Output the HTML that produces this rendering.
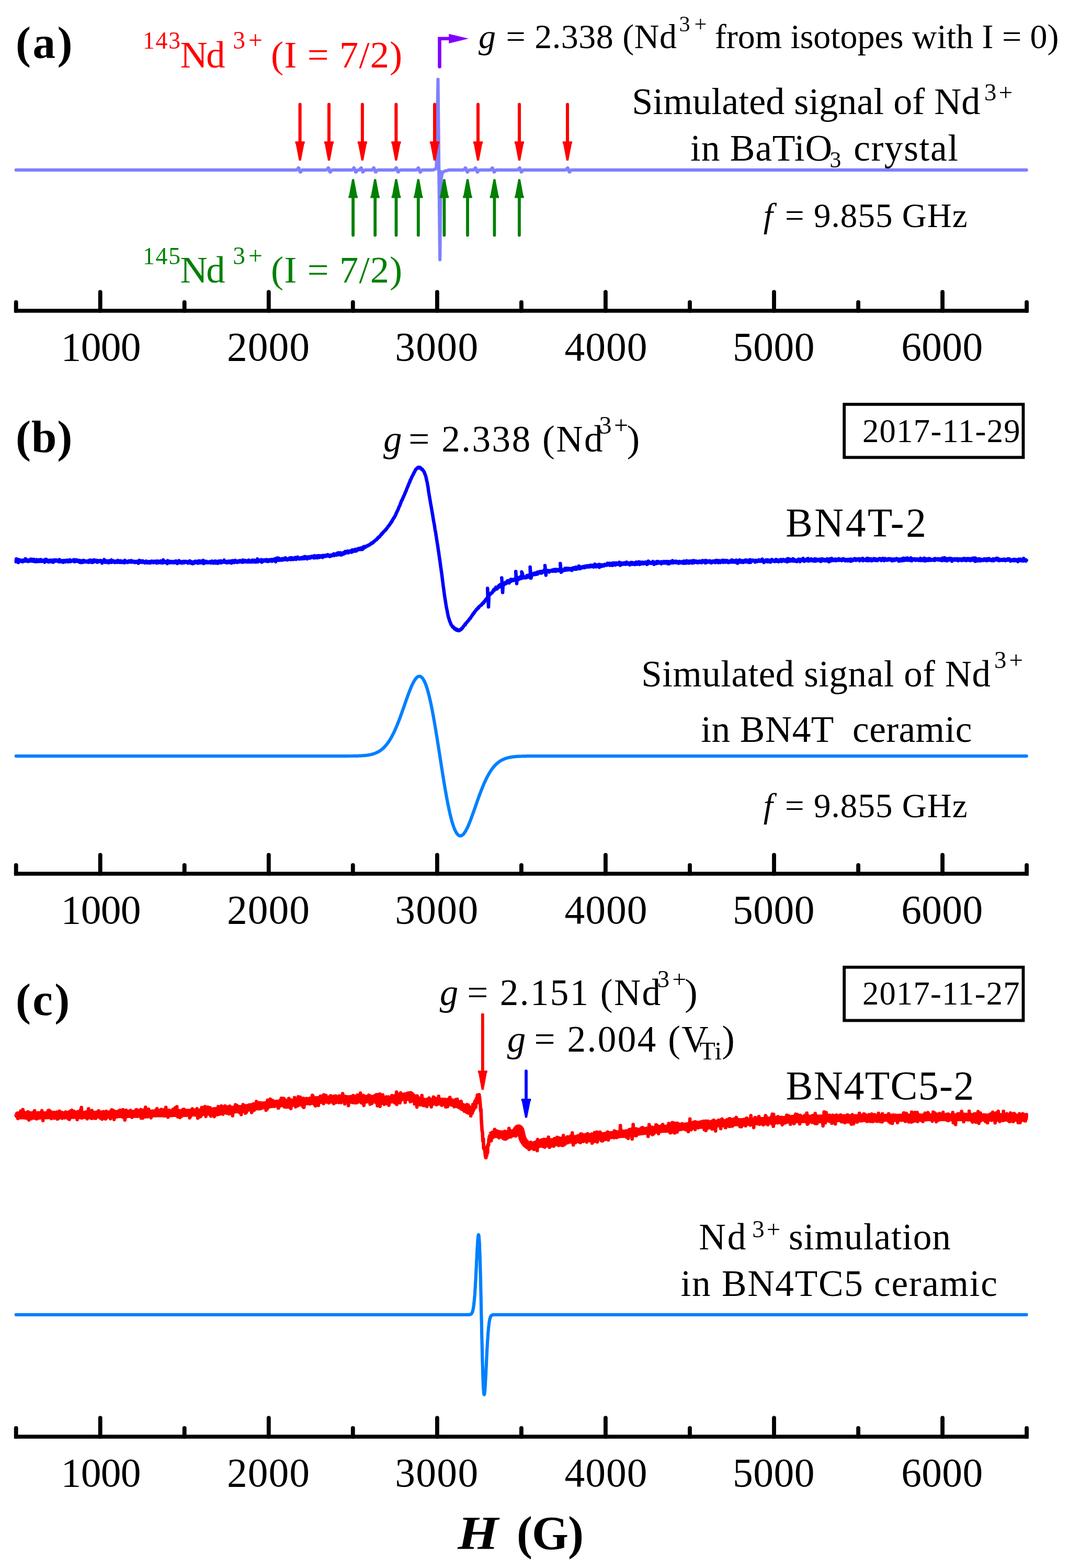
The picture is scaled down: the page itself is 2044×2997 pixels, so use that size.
<!DOCTYPE html>
<html><head><meta charset="utf-8"><title>EPR spectra of Nd3+</title>
<style>
html,body{margin:0;padding:0;background:#fff;}
body{width:2044px;height:2997px;overflow:hidden;}
svg{display:block;}
text{font-family:"Liberation Serif", "Times New Roman", serif;}
</style></head>
<body>
<svg width="2044" height="2997" viewBox="0 0 2044 2997">
<rect width="2044" height="2997" fill="#fff"/>
<line x1="30.7" y1="594" x2="1963.1" y2="594" stroke="#000" stroke-width="7.6" stroke-linecap="square"/>
<line x1="30.7" y1="594" x2="30.7" y2="577.7" stroke="#000" stroke-width="7.8" stroke-linecap="round"/>
<line x1="191.7" y1="594" x2="191.7" y2="558.2" stroke="#000" stroke-width="7.8" stroke-linecap="round"/>
<line x1="352.7" y1="594" x2="352.7" y2="577.7" stroke="#000" stroke-width="7.8" stroke-linecap="round"/>
<line x1="513.8" y1="594" x2="513.8" y2="558.2" stroke="#000" stroke-width="7.8" stroke-linecap="round"/>
<line x1="674.8" y1="594" x2="674.8" y2="577.7" stroke="#000" stroke-width="7.8" stroke-linecap="round"/>
<line x1="835.9" y1="594" x2="835.9" y2="558.2" stroke="#000" stroke-width="7.8" stroke-linecap="round"/>
<line x1="996.9" y1="594" x2="996.9" y2="577.7" stroke="#000" stroke-width="7.8" stroke-linecap="round"/>
<line x1="1157.9" y1="594" x2="1157.9" y2="558.2" stroke="#000" stroke-width="7.8" stroke-linecap="round"/>
<line x1="1319" y1="594" x2="1319" y2="577.7" stroke="#000" stroke-width="7.8" stroke-linecap="round"/>
<line x1="1480" y1="594" x2="1480" y2="558.2" stroke="#000" stroke-width="7.8" stroke-linecap="round"/>
<line x1="1641.1" y1="594" x2="1641.1" y2="577.7" stroke="#000" stroke-width="7.8" stroke-linecap="round"/>
<line x1="1802.1" y1="594" x2="1802.1" y2="558.2" stroke="#000" stroke-width="7.8" stroke-linecap="round"/>
<line x1="1963.1" y1="594" x2="1963.1" y2="577.7" stroke="#000" stroke-width="7.8" stroke-linecap="round"/>
<line x1="30.7" y1="1670" x2="1963.1" y2="1670" stroke="#000" stroke-width="7.6" stroke-linecap="square"/>
<line x1="30.7" y1="1670" x2="30.7" y2="1653.7" stroke="#000" stroke-width="7.8" stroke-linecap="round"/>
<line x1="191.7" y1="1670" x2="191.7" y2="1634.2" stroke="#000" stroke-width="7.8" stroke-linecap="round"/>
<line x1="352.7" y1="1670" x2="352.7" y2="1653.7" stroke="#000" stroke-width="7.8" stroke-linecap="round"/>
<line x1="513.8" y1="1670" x2="513.8" y2="1634.2" stroke="#000" stroke-width="7.8" stroke-linecap="round"/>
<line x1="674.8" y1="1670" x2="674.8" y2="1653.7" stroke="#000" stroke-width="7.8" stroke-linecap="round"/>
<line x1="835.9" y1="1670" x2="835.9" y2="1634.2" stroke="#000" stroke-width="7.8" stroke-linecap="round"/>
<line x1="996.9" y1="1670" x2="996.9" y2="1653.7" stroke="#000" stroke-width="7.8" stroke-linecap="round"/>
<line x1="1157.9" y1="1670" x2="1157.9" y2="1634.2" stroke="#000" stroke-width="7.8" stroke-linecap="round"/>
<line x1="1319" y1="1670" x2="1319" y2="1653.7" stroke="#000" stroke-width="7.8" stroke-linecap="round"/>
<line x1="1480" y1="1670" x2="1480" y2="1634.2" stroke="#000" stroke-width="7.8" stroke-linecap="round"/>
<line x1="1641.1" y1="1670" x2="1641.1" y2="1653.7" stroke="#000" stroke-width="7.8" stroke-linecap="round"/>
<line x1="1802.1" y1="1670" x2="1802.1" y2="1634.2" stroke="#000" stroke-width="7.8" stroke-linecap="round"/>
<line x1="1963.1" y1="1670" x2="1963.1" y2="1653.7" stroke="#000" stroke-width="7.8" stroke-linecap="round"/>
<line x1="30.7" y1="2746" x2="1963.1" y2="2746" stroke="#000" stroke-width="7.6" stroke-linecap="square"/>
<line x1="30.7" y1="2746" x2="30.7" y2="2729.7" stroke="#000" stroke-width="7.8" stroke-linecap="round"/>
<line x1="191.7" y1="2746" x2="191.7" y2="2710.2" stroke="#000" stroke-width="7.8" stroke-linecap="round"/>
<line x1="352.7" y1="2746" x2="352.7" y2="2729.7" stroke="#000" stroke-width="7.8" stroke-linecap="round"/>
<line x1="513.8" y1="2746" x2="513.8" y2="2710.2" stroke="#000" stroke-width="7.8" stroke-linecap="round"/>
<line x1="674.8" y1="2746" x2="674.8" y2="2729.7" stroke="#000" stroke-width="7.8" stroke-linecap="round"/>
<line x1="835.9" y1="2746" x2="835.9" y2="2710.2" stroke="#000" stroke-width="7.8" stroke-linecap="round"/>
<line x1="996.9" y1="2746" x2="996.9" y2="2729.7" stroke="#000" stroke-width="7.8" stroke-linecap="round"/>
<line x1="1157.9" y1="2746" x2="1157.9" y2="2710.2" stroke="#000" stroke-width="7.8" stroke-linecap="round"/>
<line x1="1319" y1="2746" x2="1319" y2="2729.7" stroke="#000" stroke-width="7.8" stroke-linecap="round"/>
<line x1="1480" y1="2746" x2="1480" y2="2710.2" stroke="#000" stroke-width="7.8" stroke-linecap="round"/>
<line x1="1641.1" y1="2746" x2="1641.1" y2="2729.7" stroke="#000" stroke-width="7.8" stroke-linecap="round"/>
<line x1="1802.1" y1="2746" x2="1802.1" y2="2710.2" stroke="#000" stroke-width="7.8" stroke-linecap="round"/>
<line x1="1963.1" y1="2746" x2="1963.1" y2="2729.7" stroke="#000" stroke-width="7.8" stroke-linecap="round"/>
<path d="M30.7,324.9 L31.7,324.9 L32.7,324.9 L33.7,324.9 L34.7,324.9 L35.7,324.9 L36.7,324.9 L37.7,324.9 L38.7,324.9 L39.7,324.9 L40.7,324.9 L41.7,324.9 L42.7,324.9 L43.7,324.9 L44.7,324.9 L45.7,324.9 L46.7,324.9 L47.7,324.9 L48.7,324.9 L49.7,324.9 L50.7,324.9 L51.7,324.9 L52.7,324.9 L53.7,324.9 L54.7,324.9 L55.7,324.9 L56.7,324.9 L57.7,324.9 L58.7,324.9 L59.7,324.9 L60.7,324.9 L61.7,324.9 L62.7,324.9 L63.7,324.9 L64.7,324.9 L65.7,324.9 L66.7,324.9 L67.7,324.9 L68.7,324.9 L69.7,324.9 L70.7,324.9 L71.7,324.9 L72.7,324.9 L73.7,324.9 L74.7,324.9 L75.7,324.9 L76.7,324.9 L77.7,324.9 L78.7,324.9 L79.7,324.9 L80.7,324.9 L81.7,324.9 L82.7,324.9 L83.7,324.9 L84.7,324.9 L85.7,324.9 L86.7,324.9 L87.7,324.9 L88.7,324.9 L89.7,324.9 L90.7,324.9 L91.7,324.9 L92.7,324.9 L93.7,324.9 L94.7,324.9 L95.7,324.9 L96.7,324.9 L97.7,324.9 L98.7,324.9 L99.7,324.9 L100.7,324.9 L101.7,324.9 L102.7,324.9 L103.7,324.9 L104.7,324.9 L105.7,324.9 L106.7,324.9 L107.7,324.9 L108.7,324.9 L109.7,324.9 L110.7,324.9 L111.7,324.9 L112.7,324.9 L113.7,324.9 L114.7,324.9 L115.7,324.9 L116.7,324.9 L117.7,324.9 L118.7,324.9 L119.7,324.9 L120.7,324.9 L121.7,324.9 L122.7,324.9 L123.7,324.9 L124.7,324.9 L125.7,324.9 L126.7,324.9 L127.7,324.9 L128.7,324.9 L129.7,324.9 L130.7,324.9 L131.7,324.9 L132.7,324.9 L133.7,324.9 L134.7,324.9 L135.7,324.9 L136.7,324.9 L137.7,324.9 L138.7,324.9 L139.7,324.9 L140.7,324.9 L141.7,324.9 L142.7,324.9 L143.7,324.9 L144.7,324.9 L145.7,324.9 L146.7,324.9 L147.7,324.9 L148.7,324.9 L149.7,324.9 L150.7,324.9 L151.7,324.9 L152.7,324.9 L153.7,324.9 L154.7,324.9 L155.7,324.9 L156.7,324.9 L157.7,324.9 L158.7,324.9 L159.7,324.9 L160.7,324.9 L161.7,324.9 L162.7,324.9 L163.7,324.9 L164.7,324.9 L165.7,324.9 L166.7,324.9 L167.7,324.9 L168.7,324.9 L169.7,324.9 L170.7,324.9 L171.7,324.9 L172.7,324.9 L173.7,324.9 L174.7,324.9 L175.7,324.9 L176.7,324.9 L177.7,324.9 L178.7,324.9 L179.7,324.9 L180.7,324.9 L181.7,324.9 L182.7,324.9 L183.7,324.9 L184.7,324.9 L185.7,324.9 L186.7,324.9 L187.7,324.9 L188.7,324.9 L189.7,324.9 L190.7,324.9 L191.7,324.9 L192.7,324.9 L193.7,324.9 L194.7,324.9 L195.7,324.9 L196.7,324.9 L197.7,324.9 L198.7,324.9 L199.7,324.9 L200.7,324.9 L201.7,324.9 L202.7,324.9 L203.7,324.9 L204.7,324.9 L205.7,324.9 L206.7,324.9 L207.7,324.9 L208.7,324.9 L209.7,324.9 L210.7,324.9 L211.7,324.9 L212.7,324.9 L213.7,324.9 L214.7,324.9 L215.7,324.9 L216.7,324.9 L217.7,324.9 L218.7,324.9 L219.7,324.9 L220.7,324.9 L221.7,324.9 L222.7,324.9 L223.7,324.9 L224.7,324.9 L225.7,324.9 L226.7,324.9 L227.7,324.9 L228.7,324.9 L229.7,324.9 L230.7,324.9 L231.7,324.9 L232.7,324.9 L233.7,324.9 L234.7,324.9 L235.7,324.9 L236.7,324.9 L237.7,324.9 L238.7,324.9 L239.7,324.9 L240.7,324.9 L241.7,324.9 L242.7,324.9 L243.7,324.9 L244.7,324.9 L245.7,324.9 L246.7,324.9 L247.7,324.9 L248.7,324.9 L249.7,324.9 L250.7,324.9 L251.7,324.9 L252.7,324.9 L253.7,324.9 L254.7,324.9 L255.7,324.9 L256.7,324.9 L257.7,324.9 L258.7,324.9 L259.7,324.9 L260.7,324.9 L261.7,324.9 L262.7,324.9 L263.7,324.9 L264.7,324.9 L265.7,324.9 L266.7,324.9 L267.7,324.9 L268.7,324.9 L269.7,324.9 L270.7,324.9 L271.7,324.9 L272.7,324.9 L273.7,324.9 L274.7,324.9 L275.7,324.9 L276.7,324.9 L277.7,324.9 L278.7,324.9 L279.7,324.9 L280.7,324.9 L281.7,324.9 L282.7,324.9 L283.7,324.9 L284.7,324.9 L285.7,324.9 L286.7,324.9 L287.7,324.9 L288.7,324.9 L289.7,324.9 L290.7,324.9 L291.7,324.9 L292.7,324.9 L293.7,324.9 L294.7,324.9 L295.7,324.9 L296.7,324.9 L297.7,324.9 L298.7,324.9 L299.7,324.9 L300.7,324.9 L301.7,324.9 L302.7,324.9 L303.7,324.9 L304.7,324.9 L305.7,324.9 L306.7,324.9 L307.7,324.9 L308.7,324.9 L309.7,324.9 L310.7,324.9 L311.7,324.9 L312.7,324.9 L313.7,324.9 L314.7,324.9 L315.7,324.9 L316.7,324.9 L317.7,324.9 L318.7,324.9 L319.7,324.9 L320.7,324.9 L321.7,324.9 L322.7,324.9 L323.7,324.9 L324.7,324.9 L325.7,324.9 L326.7,324.9 L327.7,324.9 L328.7,324.9 L329.7,324.9 L330.7,324.9 L331.7,324.9 L332.7,324.9 L333.7,324.9 L334.7,324.9 L335.7,324.9 L336.7,324.9 L337.7,324.9 L338.7,324.9 L339.7,324.9 L340.7,324.9 L341.7,324.9 L342.7,324.9 L343.7,324.9 L344.7,324.9 L345.7,324.9 L346.7,324.9 L347.7,324.9 L348.7,324.9 L349.7,324.9 L350.7,324.9 L351.7,324.9 L352.7,324.9 L353.7,324.9 L354.7,324.9 L355.7,324.9 L356.7,324.9 L357.7,324.9 L358.7,324.9 L359.7,324.9 L360.7,324.9 L361.7,324.9 L362.7,324.9 L363.7,324.9 L364.7,324.9 L365.7,324.9 L366.7,324.9 L367.7,324.9 L368.7,324.9 L369.7,324.9 L370.7,324.9 L371.7,324.9 L372.7,324.9 L373.7,324.9 L374.7,324.9 L375.7,324.9 L376.7,324.9 L377.7,324.9 L378.7,324.9 L379.7,324.9 L380.7,324.9 L381.7,324.9 L382.7,324.9 L383.7,324.9 L384.7,324.9 L385.7,324.9 L386.7,324.9 L387.7,324.9 L388.7,324.9 L389.7,324.9 L390.7,324.9 L391.7,324.9 L392.7,324.9 L393.7,324.9 L394.7,324.9 L395.7,324.9 L396.7,324.9 L397.7,324.9 L398.7,324.9 L399.7,324.9 L400.7,324.9 L401.7,324.9 L402.7,324.9 L403.7,324.9 L404.7,324.9 L405.7,324.9 L406.7,324.9 L407.7,324.9 L408.7,324.9 L409.7,324.9 L410.7,324.9 L411.7,324.9 L412.7,324.9 L413.7,324.9 L414.7,324.9 L415.7,324.9 L416.7,324.9 L417.7,324.9 L418.7,324.9 L419.7,324.9 L420.7,324.9 L421.7,324.9 L422.7,324.9 L423.7,324.9 L424.7,324.9 L425.7,324.9 L426.7,324.9 L427.7,324.9 L428.7,324.9 L429.7,324.9 L430.7,324.9 L431.7,324.9 L432.7,324.9 L433.7,324.9 L434.7,324.9 L435.7,324.9 L436.7,324.9 L437.7,324.9 L438.7,324.9 L439.7,324.9 L440.7,324.9 L441.7,324.9 L442.7,324.9 L443.7,324.9 L444.7,324.9 L445.7,324.9 L446.7,324.9 L447.7,324.9 L448.7,324.9 L449.7,324.9 L450.7,324.9 L451.7,324.9 L452.7,324.9 L453.7,324.9 L454.7,324.9 L455.7,324.9 L456.7,324.9 L457.7,324.9 L458.7,324.9 L459.7,324.9 L460.7,324.9 L461.7,324.9 L462.7,324.9 L463.7,324.9 L464.7,324.9 L465.7,324.9 L466.7,324.9 L467.7,324.9 L468.7,324.9 L469.7,324.9 L470.7,324.9 L471.7,324.9 L472.7,324.9 L473.7,324.9 L474.7,324.9 L475.7,324.9 L476.7,324.9 L477.7,324.9 L478.7,324.9 L479.7,324.9 L480.7,324.9 L481.7,324.9 L482.7,324.9 L483.7,324.9 L484.7,324.9 L485.7,324.9 L486.7,324.9 L487.7,324.9 L488.7,324.9 L489.7,324.9 L490.7,324.9 L491.7,324.9 L492.7,324.9 L493.7,324.9 L494.7,324.9 L495.7,324.9 L496.7,324.9 L497.7,324.9 L498.7,324.9 L499.7,324.9 L500.7,324.9 L501.7,324.9 L502.7,324.9 L503.7,324.9 L504.7,324.9 L505.7,324.9 L506.7,324.9 L507.7,324.9 L508.7,324.9 L509.7,324.9 L510.7,324.9 L511.7,324.9 L512.7,324.9 L513.7,324.9 L514.7,324.9 L515.7,324.9 L516.7,324.9 L517.7,324.9 L518.7,324.9 L519.7,324.9 L520.7,324.9 L521.7,324.9 L522.7,324.9 L523.7,324.9 L524.7,324.9 L525.7,324.9 L526.7,324.9 L527.7,324.9 L528.7,324.9 L529.7,324.9 L530.7,324.9 L531.7,324.9 L532.7,324.9 L533.7,324.9 L534.7,324.9 L535.7,324.9 L536.7,324.9 L537.7,324.9 L538.7,324.9 L539.7,324.9 L540.7,324.9 L541.7,324.9 L542.7,324.9 L543.7,324.9 L544.7,324.9 L545.7,324.9 L546.7,324.9 L547.7,324.9 L548.7,324.9 L549.7,324.9 L550.7,324.9 L551.7,324.9 L552.7,324.9 L553.7,324.9 L554.7,324.9 L555.7,324.9 L556.7,324.9 L557.7,324.9 L558.7,324.9 L559.7,324.9 L560.7,324.9 L561.7,324.9 L562.7,324.9 L563.7,324.9 L564.7,324.9 L565.7,324.9 L566.7,324.8 L567.7,324.5 L568.7,323.6 L569.7,322.1 L570.7,320.9 L571.7,321.9 L572.7,325.1 L573.7,328.2 L574.7,328.8 L575.7,327.5 L576.7,326.1 L577.7,325.3 L578.7,325 L579.7,324.9 L580.7,324.9 L581.7,324.9 L582.7,324.9 L583.7,324.9 L584.7,324.9 L585.7,324.9 L586.7,324.9 L587.7,324.9 L588.7,324.9 L589.7,324.9 L590.7,324.9 L591.7,324.9 L592.7,324.9 L593.7,324.9 L594.7,324.9 L595.7,324.9 L596.7,324.9 L597.7,324.9 L598.7,324.9 L599.7,324.9 L600.7,324.9 L601.7,324.9 L602.7,324.9 L603.7,324.9 L604.7,324.9 L605.7,324.9 L606.7,324.9 L607.7,324.9 L608.7,324.9 L609.7,324.9 L610.7,324.9 L611.7,324.9 L612.7,324.9 L613.7,324.9 L614.7,324.9 L615.7,324.9 L616.7,324.9 L617.7,324.9 L618.7,324.9 L619.7,324.9 L620.7,324.9 L621.7,324.9 L622.7,324.9 L623.7,324.8 L624.7,324.4 L625.7,323.5 L626.7,321.9 L627.7,320.9 L628.7,322.1 L629.7,325.5 L630.7,328.4 L631.7,328.8 L632.7,327.4 L633.7,326 L634.7,325.2 L635.7,325 L636.7,324.9 L637.7,324.9 L638.7,324.9 L639.7,324.9 L640.7,324.9 L641.7,324.9 L642.7,324.9 L643.7,324.9 L644.7,324.9 L645.7,324.9 L646.7,324.9 L647.7,324.9 L648.7,324.9 L649.7,324.9 L650.7,324.9 L651.7,324.9 L652.7,324.9 L653.7,324.9 L654.7,324.9 L655.7,324.9 L656.7,324.9 L657.7,324.9 L658.7,324.9 L659.7,324.9 L660.7,324.9 L661.7,324.9 L662.7,324.9 L663.7,324.9 L664.7,324.9 L665.7,324.9 L666.7,324.9 L667.7,324.9 L668.7,324.9 L669.7,324.9 L670.7,324.9 L671.7,324.9 L672.7,324.8 L673.7,324.5 L674.7,323.6 L675.7,322.1 L676.7,320.9 L677.7,321.9 L678.7,325.1 L679.7,328.2 L680.7,328.8 L681.7,327.5 L682.7,326.1 L683.7,325.3 L684.7,325 L685.7,324.9 L686.7,324.7 L687.7,324.2 L688.7,323 L689.7,321.5 L690.7,321 L691.7,323 L692.7,326.5 L693.7,328.7 L694.7,328.4 L695.7,326.9 L696.7,325.7 L697.7,325.1 L698.7,324.9 L699.7,324.9 L700.7,324.9 L701.7,324.9 L702.7,324.9 L703.7,324.9 L704.7,324.9 L705.7,324.9 L706.7,324.9 L707.7,324.9 L708.7,324.9 L709.7,324.9 L710.7,324.8 L711.7,324.4 L712.7,323.3 L713.7,321.7 L714.7,320.9 L715.7,322.4 L716.7,325.8 L717.7,328.5 L718.7,328.7 L719.7,327.2 L720.7,325.8 L721.7,325.2 L722.7,325 L723.7,324.9 L724.7,324.9 L725.7,324.9 L726.7,324.9 L727.7,324.9 L728.7,324.9 L729.7,324.9 L730.7,324.9 L731.7,324.9 L732.7,324.9 L733.7,324.9 L734.7,324.9 L735.7,324.9 L736.7,324.9 L737.7,324.9 L738.7,324.9 L739.7,324.9 L740.7,324.9 L741.7,324.9 L742.7,324.9 L743.7,324.9 L744.7,324.9 L745.7,324.9 L746.7,324.9 L747.7,324.9 L748.7,324.9 L749.7,324.9 L750.7,324.9 L751.7,324.9 L752.7,324.9 L753.7,324.8 L754.7,324.4 L755.7,323.3 L756.7,321.7 L757.7,320.9 L758.7,322.4 L759.7,325.8 L760.7,328.5 L761.7,328.7 L762.7,327.2 L763.7,325.8 L764.7,325.2 L765.7,325 L766.7,324.9 L767.7,324.9 L768.7,324.9 L769.7,324.9 L770.7,324.9 L771.7,324.9 L772.7,324.9 L773.7,324.9 L774.7,324.9 L775.7,324.9 L776.7,324.9 L777.7,324.9 L778.7,324.9 L779.7,324.9 L780.7,324.9 L781.7,324.9 L782.7,324.9 L783.7,324.9 L784.7,324.9 L785.7,324.9 L786.7,324.9 L787.7,324.9 L788.7,324.9 L789.7,324.9 L790.7,324.9 L791.7,324.9 L792.7,324.9 L793.7,324.9 L794.7,324.9 L795.7,324.8 L796.7,324.6 L797.7,323.8 L798.7,322.4 L799.7,321 L800.7,321.5 L801.7,324.4 L802.7,327.7 L803.7,328.9 L804.7,327.9 L805.7,326.3 L806.7,325.4 L807.7,325 L808.7,324.9 L809.7,324.9 L810.7,324.9 L811.7,324.9 L812.7,324.9 L813.7,324.9 L814.7,324.9 L815.7,324.9 L816.7,324.9 L817.7,324.9 L818.7,324.9 L819.7,324.9 L820.7,324.9 L821.7,324.9 L822.7,324.9 L823.7,324.9 L824.7,324.9 L825.7,324.9 L826,324.9 L829,324.6 L834.3,322 L834.8,303 L837.5,151.5 L838.2,226 L839.3,330 L841.2,496.5 L842.4,372 L843.6,342 L845.5,331 L848,328.5 L851,326.5 L855,326.1 L858,324.9 L858.7,324.9 L859.7,324.9 L860.7,324.9 L861.7,324.9 L862.7,324.9 L863.7,324.9 L864.7,324.9 L865.7,324.9 L866.7,324.9 L867.7,324.9 L868.7,324.9 L869.7,324.9 L870.7,324.9 L871.7,324.9 L872.7,324.9 L873.7,324.9 L874.7,324.9 L875.7,324.9 L876.7,324.9 L877.7,324.9 L878.7,324.9 L879.7,324.9 L880.7,324.9 L881.7,324.9 L882.7,324.9 L883.7,324.9 L884.7,324.9 L885.7,324.8 L886.7,324.6 L887.7,323.8 L888.7,322.4 L889.7,321 L890.7,321.5 L891.7,324.4 L892.7,327.7 L893.7,328.9 L894.7,327.9 L895.7,326.3 L896.7,325.4 L897.7,325 L898.7,324.9 L899.7,324.9 L900.7,324.9 L901.7,324.9 L902.7,324.9 L903.7,324.9 L904.7,324.8 L905.7,324.6 L906.7,323.9 L907.7,322.6 L908.7,321.1 L909.7,321.3 L910.7,324 L911.7,327.4 L912.7,328.9 L913.7,328 L914.7,326.5 L915.7,325.4 L916.7,325 L917.7,324.9 L918.7,324.9 L919.7,324.9 L920.7,324.9 L921.7,324.9 L922.7,324.9 L923.7,324.9 L924.7,324.9 L925.7,324.9 L926.7,324.9 L927.7,324.9 L928.7,324.9 L929.7,324.9 L930.7,324.9 L931.7,324.9 L932.7,324.9 L933.7,324.9 L934.7,324.9 L935.7,324.9 L936.7,324.9 L937.7,324.7 L938.7,324.1 L939.7,322.9 L940.7,321.3 L941.7,321.1 L942.7,323.3 L943.7,326.9 L944.7,328.8 L945.7,328.3 L946.7,326.7 L947.7,325.6 L948.7,325.1 L949.7,324.9 L950.7,324.9 L951.7,324.9 L952.7,324.9 L953.7,324.9 L954.7,324.9 L955.7,324.9 L956.7,324.9 L957.7,324.9 L958.7,324.9 L959.7,324.9 L960.7,324.9 L961.7,324.9 L962.7,324.9 L963.7,324.9 L964.7,324.9 L965.7,324.9 L966.7,324.9 L967.7,324.9 L968.7,324.9 L969.7,324.9 L970.7,324.9 L971.7,324.9 L972.7,324.9 L973.7,324.9 L974.7,324.9 L975.7,324.9 L976.7,324.9 L977.7,324.9 L978.7,324.9 L979.7,324.9 L980.7,324.9 L981.7,324.9 L982.7,324.9 L983.7,324.9 L984.7,324.9 L985.7,324.9 L986.7,324.9 L987.7,324.9 L988.7,324.9 L989.7,324.7 L990.7,324.2 L991.7,323 L992.7,321.5 L993.7,321 L994.7,323 L995.7,326.5 L996.7,328.7 L997.7,328.4 L998.7,326.9 L999.7,325.7 L1000.7,325.1 L1001.7,324.9 L1002.7,324.9 L1003.7,324.9 L1004.7,324.9 L1005.7,324.9 L1006.7,324.9 L1007.7,324.9 L1008.7,324.9 L1009.7,324.9 L1010.7,324.9 L1011.7,324.9 L1012.7,324.9 L1013.7,324.9 L1014.7,324.9 L1015.7,324.9 L1016.7,324.9 L1017.7,324.9 L1018.7,324.9 L1019.7,324.9 L1020.7,324.9 L1021.7,324.9 L1022.7,324.9 L1023.7,324.9 L1024.7,324.9 L1025.7,324.9 L1026.7,324.9 L1027.7,324.9 L1028.7,324.9 L1029.7,324.9 L1030.7,324.9 L1031.7,324.9 L1032.7,324.9 L1033.7,324.9 L1034.7,324.9 L1035.7,324.9 L1036.7,324.9 L1037.7,324.9 L1038.7,324.9 L1039.7,324.9 L1040.7,324.9 L1041.7,324.9 L1042.7,324.9 L1043.7,324.9 L1044.7,324.9 L1045.7,324.9 L1046.7,324.9 L1047.7,324.9 L1048.7,324.9 L1049.7,324.9 L1050.7,324.9 L1051.7,324.9 L1052.7,324.9 L1053.7,324.9 L1054.7,324.9 L1055.7,324.9 L1056.7,324.9 L1057.7,324.9 L1058.7,324.9 L1059.7,324.9 L1060.7,324.9 L1061.7,324.9 L1062.7,324.9 L1063.7,324.9 L1064.7,324.9 L1065.7,324.9 L1066.7,324.9 L1067.7,324.9 L1068.7,324.9 L1069.7,324.9 L1070.7,324.9 L1071.7,324.9 L1072.7,324.9 L1073.7,324.9 L1074.7,324.9 L1075.7,324.9 L1076.7,324.9 L1077.7,324.9 L1078.7,324.9 L1079.7,324.9 L1080.7,324.9 L1081.7,324.7 L1082.7,324.1 L1083.7,322.9 L1084.7,321.3 L1085.7,321.1 L1086.7,323.3 L1087.7,326.9 L1088.7,328.8 L1089.7,328.3 L1090.7,326.7 L1091.7,325.6 L1092.7,325.1 L1093.7,324.9 L1094.7,324.9 L1095.7,324.9 L1096.7,324.9 L1097.7,324.9 L1098.7,324.9 L1099.7,324.9 L1100.7,324.9 L1101.7,324.9 L1102.7,324.9 L1103.7,324.9 L1104.7,324.9 L1105.7,324.9 L1106.7,324.9 L1107.7,324.9 L1108.7,324.9 L1109.7,324.9 L1110.7,324.9 L1111.7,324.9 L1112.7,324.9 L1113.7,324.9 L1114.7,324.9 L1115.7,324.9 L1116.7,324.9 L1117.7,324.9 L1118.7,324.9 L1119.7,324.9 L1120.7,324.9 L1121.7,324.9 L1122.7,324.9 L1123.7,324.9 L1124.7,324.9 L1125.7,324.9 L1126.7,324.9 L1127.7,324.9 L1128.7,324.9 L1129.7,324.9 L1130.7,324.9 L1131.7,324.9 L1132.7,324.9 L1133.7,324.9 L1134.7,324.9 L1135.7,324.9 L1136.7,324.9 L1137.7,324.9 L1138.7,324.9 L1139.7,324.9 L1140.7,324.9 L1141.7,324.9 L1142.7,324.9 L1143.7,324.9 L1144.7,324.9 L1145.7,324.9 L1146.7,324.9 L1147.7,324.9 L1148.7,324.9 L1149.7,324.9 L1150.7,324.9 L1151.7,324.9 L1152.7,324.9 L1153.7,324.9 L1154.7,324.9 L1155.7,324.9 L1156.7,324.9 L1157.7,324.9 L1158.7,324.9 L1159.7,324.9 L1160.7,324.9 L1161.7,324.9 L1162.7,324.9 L1163.7,324.9 L1164.7,324.9 L1165.7,324.9 L1166.7,324.9 L1167.7,324.9 L1168.7,324.9 L1169.7,324.9 L1170.7,324.9 L1171.7,324.9 L1172.7,324.9 L1173.7,324.9 L1174.7,324.9 L1175.7,324.9 L1176.7,324.9 L1177.7,324.9 L1178.7,324.9 L1179.7,324.9 L1180.7,324.9 L1181.7,324.9 L1182.7,324.9 L1183.7,324.9 L1184.7,324.9 L1185.7,324.9 L1186.7,324.9 L1187.7,324.9 L1188.7,324.9 L1189.7,324.9 L1190.7,324.9 L1191.7,324.9 L1192.7,324.9 L1193.7,324.9 L1194.7,324.9 L1195.7,324.9 L1196.7,324.9 L1197.7,324.9 L1198.7,324.9 L1199.7,324.9 L1200.7,324.9 L1201.7,324.9 L1202.7,324.9 L1203.7,324.9 L1204.7,324.9 L1205.7,324.9 L1206.7,324.9 L1207.7,324.9 L1208.7,324.9 L1209.7,324.9 L1210.7,324.9 L1211.7,324.9 L1212.7,324.9 L1213.7,324.9 L1214.7,324.9 L1215.7,324.9 L1216.7,324.9 L1217.7,324.9 L1218.7,324.9 L1219.7,324.9 L1220.7,324.9 L1221.7,324.9 L1222.7,324.9 L1223.7,324.9 L1224.7,324.9 L1225.7,324.9 L1226.7,324.9 L1227.7,324.9 L1228.7,324.9 L1229.7,324.9 L1230.7,324.9 L1231.7,324.9 L1232.7,324.9 L1233.7,324.9 L1234.7,324.9 L1235.7,324.9 L1236.7,324.9 L1237.7,324.9 L1238.7,324.9 L1239.7,324.9 L1240.7,324.9 L1241.7,324.9 L1242.7,324.9 L1243.7,324.9 L1244.7,324.9 L1245.7,324.9 L1246.7,324.9 L1247.7,324.9 L1248.7,324.9 L1249.7,324.9 L1250.7,324.9 L1251.7,324.9 L1252.7,324.9 L1253.7,324.9 L1254.7,324.9 L1255.7,324.9 L1256.7,324.9 L1257.7,324.9 L1258.7,324.9 L1259.7,324.9 L1260.7,324.9 L1261.7,324.9 L1262.7,324.9 L1263.7,324.9 L1264.7,324.9 L1265.7,324.9 L1266.7,324.9 L1267.7,324.9 L1268.7,324.9 L1269.7,324.9 L1270.7,324.9 L1271.7,324.9 L1272.7,324.9 L1273.7,324.9 L1274.7,324.9 L1275.7,324.9 L1276.7,324.9 L1277.7,324.9 L1278.7,324.9 L1279.7,324.9 L1280.7,324.9 L1281.7,324.9 L1282.7,324.9 L1283.7,324.9 L1284.7,324.9 L1285.7,324.9 L1286.7,324.9 L1287.7,324.9 L1288.7,324.9 L1289.7,324.9 L1290.7,324.9 L1291.7,324.9 L1292.7,324.9 L1293.7,324.9 L1294.7,324.9 L1295.7,324.9 L1296.7,324.9 L1297.7,324.9 L1298.7,324.9 L1299.7,324.9 L1300.7,324.9 L1301.7,324.9 L1302.7,324.9 L1303.7,324.9 L1304.7,324.9 L1305.7,324.9 L1306.7,324.9 L1307.7,324.9 L1308.7,324.9 L1309.7,324.9 L1310.7,324.9 L1311.7,324.9 L1312.7,324.9 L1313.7,324.9 L1314.7,324.9 L1315.7,324.9 L1316.7,324.9 L1317.7,324.9 L1318.7,324.9 L1319.7,324.9 L1320.7,324.9 L1321.7,324.9 L1322.7,324.9 L1323.7,324.9 L1324.7,324.9 L1325.7,324.9 L1326.7,324.9 L1327.7,324.9 L1328.7,324.9 L1329.7,324.9 L1330.7,324.9 L1331.7,324.9 L1332.7,324.9 L1333.7,324.9 L1334.7,324.9 L1335.7,324.9 L1336.7,324.9 L1337.7,324.9 L1338.7,324.9 L1339.7,324.9 L1340.7,324.9 L1341.7,324.9 L1342.7,324.9 L1343.7,324.9 L1344.7,324.9 L1345.7,324.9 L1346.7,324.9 L1347.7,324.9 L1348.7,324.9 L1349.7,324.9 L1350.7,324.9 L1351.7,324.9 L1352.7,324.9 L1353.7,324.9 L1354.7,324.9 L1355.7,324.9 L1356.7,324.9 L1357.7,324.9 L1358.7,324.9 L1359.7,324.9 L1360.7,324.9 L1361.7,324.9 L1362.7,324.9 L1363.7,324.9 L1364.7,324.9 L1365.7,324.9 L1366.7,324.9 L1367.7,324.9 L1368.7,324.9 L1369.7,324.9 L1370.7,324.9 L1371.7,324.9 L1372.7,324.9 L1373.7,324.9 L1374.7,324.9 L1375.7,324.9 L1376.7,324.9 L1377.7,324.9 L1378.7,324.9 L1379.7,324.9 L1380.7,324.9 L1381.7,324.9 L1382.7,324.9 L1383.7,324.9 L1384.7,324.9 L1385.7,324.9 L1386.7,324.9 L1387.7,324.9 L1388.7,324.9 L1389.7,324.9 L1390.7,324.9 L1391.7,324.9 L1392.7,324.9 L1393.7,324.9 L1394.7,324.9 L1395.7,324.9 L1396.7,324.9 L1397.7,324.9 L1398.7,324.9 L1399.7,324.9 L1400.7,324.9 L1401.7,324.9 L1402.7,324.9 L1403.7,324.9 L1404.7,324.9 L1405.7,324.9 L1406.7,324.9 L1407.7,324.9 L1408.7,324.9 L1409.7,324.9 L1410.7,324.9 L1411.7,324.9 L1412.7,324.9 L1413.7,324.9 L1414.7,324.9 L1415.7,324.9 L1416.7,324.9 L1417.7,324.9 L1418.7,324.9 L1419.7,324.9 L1420.7,324.9 L1421.7,324.9 L1422.7,324.9 L1423.7,324.9 L1424.7,324.9 L1425.7,324.9 L1426.7,324.9 L1427.7,324.9 L1428.7,324.9 L1429.7,324.9 L1430.7,324.9 L1431.7,324.9 L1432.7,324.9 L1433.7,324.9 L1434.7,324.9 L1435.7,324.9 L1436.7,324.9 L1437.7,324.9 L1438.7,324.9 L1439.7,324.9 L1440.7,324.9 L1441.7,324.9 L1442.7,324.9 L1443.7,324.9 L1444.7,324.9 L1445.7,324.9 L1446.7,324.9 L1447.7,324.9 L1448.7,324.9 L1449.7,324.9 L1450.7,324.9 L1451.7,324.9 L1452.7,324.9 L1453.7,324.9 L1454.7,324.9 L1455.7,324.9 L1456.7,324.9 L1457.7,324.9 L1458.7,324.9 L1459.7,324.9 L1460.7,324.9 L1461.7,324.9 L1462.7,324.9 L1463.7,324.9 L1464.7,324.9 L1465.7,324.9 L1466.7,324.9 L1467.7,324.9 L1468.7,324.9 L1469.7,324.9 L1470.7,324.9 L1471.7,324.9 L1472.7,324.9 L1473.7,324.9 L1474.7,324.9 L1475.7,324.9 L1476.7,324.9 L1477.7,324.9 L1478.7,324.9 L1479.7,324.9 L1480.7,324.9 L1481.7,324.9 L1482.7,324.9 L1483.7,324.9 L1484.7,324.9 L1485.7,324.9 L1486.7,324.9 L1487.7,324.9 L1488.7,324.9 L1489.7,324.9 L1490.7,324.9 L1491.7,324.9 L1492.7,324.9 L1493.7,324.9 L1494.7,324.9 L1495.7,324.9 L1496.7,324.9 L1497.7,324.9 L1498.7,324.9 L1499.7,324.9 L1500.7,324.9 L1501.7,324.9 L1502.7,324.9 L1503.7,324.9 L1504.7,324.9 L1505.7,324.9 L1506.7,324.9 L1507.7,324.9 L1508.7,324.9 L1509.7,324.9 L1510.7,324.9 L1511.7,324.9 L1512.7,324.9 L1513.7,324.9 L1514.7,324.9 L1515.7,324.9 L1516.7,324.9 L1517.7,324.9 L1518.7,324.9 L1519.7,324.9 L1520.7,324.9 L1521.7,324.9 L1522.7,324.9 L1523.7,324.9 L1524.7,324.9 L1525.7,324.9 L1526.7,324.9 L1527.7,324.9 L1528.7,324.9 L1529.7,324.9 L1530.7,324.9 L1531.7,324.9 L1532.7,324.9 L1533.7,324.9 L1534.7,324.9 L1535.7,324.9 L1536.7,324.9 L1537.7,324.9 L1538.7,324.9 L1539.7,324.9 L1540.7,324.9 L1541.7,324.9 L1542.7,324.9 L1543.7,324.9 L1544.7,324.9 L1545.7,324.9 L1546.7,324.9 L1547.7,324.9 L1548.7,324.9 L1549.7,324.9 L1550.7,324.9 L1551.7,324.9 L1552.7,324.9 L1553.7,324.9 L1554.7,324.9 L1555.7,324.9 L1556.7,324.9 L1557.7,324.9 L1558.7,324.9 L1559.7,324.9 L1560.7,324.9 L1561.7,324.9 L1562.7,324.9 L1563.7,324.9 L1564.7,324.9 L1565.7,324.9 L1566.7,324.9 L1567.7,324.9 L1568.7,324.9 L1569.7,324.9 L1570.7,324.9 L1571.7,324.9 L1572.7,324.9 L1573.7,324.9 L1574.7,324.9 L1575.7,324.9 L1576.7,324.9 L1577.7,324.9 L1578.7,324.9 L1579.7,324.9 L1580.7,324.9 L1581.7,324.9 L1582.7,324.9 L1583.7,324.9 L1584.7,324.9 L1585.7,324.9 L1586.7,324.9 L1587.7,324.9 L1588.7,324.9 L1589.7,324.9 L1590.7,324.9 L1591.7,324.9 L1592.7,324.9 L1593.7,324.9 L1594.7,324.9 L1595.7,324.9 L1596.7,324.9 L1597.7,324.9 L1598.7,324.9 L1599.7,324.9 L1600.7,324.9 L1601.7,324.9 L1602.7,324.9 L1603.7,324.9 L1604.7,324.9 L1605.7,324.9 L1606.7,324.9 L1607.7,324.9 L1608.7,324.9 L1609.7,324.9 L1610.7,324.9 L1611.7,324.9 L1612.7,324.9 L1613.7,324.9 L1614.7,324.9 L1615.7,324.9 L1616.7,324.9 L1617.7,324.9 L1618.7,324.9 L1619.7,324.9 L1620.7,324.9 L1621.7,324.9 L1622.7,324.9 L1623.7,324.9 L1624.7,324.9 L1625.7,324.9 L1626.7,324.9 L1627.7,324.9 L1628.7,324.9 L1629.7,324.9 L1630.7,324.9 L1631.7,324.9 L1632.7,324.9 L1633.7,324.9 L1634.7,324.9 L1635.7,324.9 L1636.7,324.9 L1637.7,324.9 L1638.7,324.9 L1639.7,324.9 L1640.7,324.9 L1641.7,324.9 L1642.7,324.9 L1643.7,324.9 L1644.7,324.9 L1645.7,324.9 L1646.7,324.9 L1647.7,324.9 L1648.7,324.9 L1649.7,324.9 L1650.7,324.9 L1651.7,324.9 L1652.7,324.9 L1653.7,324.9 L1654.7,324.9 L1655.7,324.9 L1656.7,324.9 L1657.7,324.9 L1658.7,324.9 L1659.7,324.9 L1660.7,324.9 L1661.7,324.9 L1662.7,324.9 L1663.7,324.9 L1664.7,324.9 L1665.7,324.9 L1666.7,324.9 L1667.7,324.9 L1668.7,324.9 L1669.7,324.9 L1670.7,324.9 L1671.7,324.9 L1672.7,324.9 L1673.7,324.9 L1674.7,324.9 L1675.7,324.9 L1676.7,324.9 L1677.7,324.9 L1678.7,324.9 L1679.7,324.9 L1680.7,324.9 L1681.7,324.9 L1682.7,324.9 L1683.7,324.9 L1684.7,324.9 L1685.7,324.9 L1686.7,324.9 L1687.7,324.9 L1688.7,324.9 L1689.7,324.9 L1690.7,324.9 L1691.7,324.9 L1692.7,324.9 L1693.7,324.9 L1694.7,324.9 L1695.7,324.9 L1696.7,324.9 L1697.7,324.9 L1698.7,324.9 L1699.7,324.9 L1700.7,324.9 L1701.7,324.9 L1702.7,324.9 L1703.7,324.9 L1704.7,324.9 L1705.7,324.9 L1706.7,324.9 L1707.7,324.9 L1708.7,324.9 L1709.7,324.9 L1710.7,324.9 L1711.7,324.9 L1712.7,324.9 L1713.7,324.9 L1714.7,324.9 L1715.7,324.9 L1716.7,324.9 L1717.7,324.9 L1718.7,324.9 L1719.7,324.9 L1720.7,324.9 L1721.7,324.9 L1722.7,324.9 L1723.7,324.9 L1724.7,324.9 L1725.7,324.9 L1726.7,324.9 L1727.7,324.9 L1728.7,324.9 L1729.7,324.9 L1730.7,324.9 L1731.7,324.9 L1732.7,324.9 L1733.7,324.9 L1734.7,324.9 L1735.7,324.9 L1736.7,324.9 L1737.7,324.9 L1738.7,324.9 L1739.7,324.9 L1740.7,324.9 L1741.7,324.9 L1742.7,324.9 L1743.7,324.9 L1744.7,324.9 L1745.7,324.9 L1746.7,324.9 L1747.7,324.9 L1748.7,324.9 L1749.7,324.9 L1750.7,324.9 L1751.7,324.9 L1752.7,324.9 L1753.7,324.9 L1754.7,324.9 L1755.7,324.9 L1756.7,324.9 L1757.7,324.9 L1758.7,324.9 L1759.7,324.9 L1760.7,324.9 L1761.7,324.9 L1762.7,324.9 L1763.7,324.9 L1764.7,324.9 L1765.7,324.9 L1766.7,324.9 L1767.7,324.9 L1768.7,324.9 L1769.7,324.9 L1770.7,324.9 L1771.7,324.9 L1772.7,324.9 L1773.7,324.9 L1774.7,324.9 L1775.7,324.9 L1776.7,324.9 L1777.7,324.9 L1778.7,324.9 L1779.7,324.9 L1780.7,324.9 L1781.7,324.9 L1782.7,324.9 L1783.7,324.9 L1784.7,324.9 L1785.7,324.9 L1786.7,324.9 L1787.7,324.9 L1788.7,324.9 L1789.7,324.9 L1790.7,324.9 L1791.7,324.9 L1792.7,324.9 L1793.7,324.9 L1794.7,324.9 L1795.7,324.9 L1796.7,324.9 L1797.7,324.9 L1798.7,324.9 L1799.7,324.9 L1800.7,324.9 L1801.7,324.9 L1802.7,324.9 L1803.7,324.9 L1804.7,324.9 L1805.7,324.9 L1806.7,324.9 L1807.7,324.9 L1808.7,324.9 L1809.7,324.9 L1810.7,324.9 L1811.7,324.9 L1812.7,324.9 L1813.7,324.9 L1814.7,324.9 L1815.7,324.9 L1816.7,324.9 L1817.7,324.9 L1818.7,324.9 L1819.7,324.9 L1820.7,324.9 L1821.7,324.9 L1822.7,324.9 L1823.7,324.9 L1824.7,324.9 L1825.7,324.9 L1826.7,324.9 L1827.7,324.9 L1828.7,324.9 L1829.7,324.9 L1830.7,324.9 L1831.7,324.9 L1832.7,324.9 L1833.7,324.9 L1834.7,324.9 L1835.7,324.9 L1836.7,324.9 L1837.7,324.9 L1838.7,324.9 L1839.7,324.9 L1840.7,324.9 L1841.7,324.9 L1842.7,324.9 L1843.7,324.9 L1844.7,324.9 L1845.7,324.9 L1846.7,324.9 L1847.7,324.9 L1848.7,324.9 L1849.7,324.9 L1850.7,324.9 L1851.7,324.9 L1852.7,324.9 L1853.7,324.9 L1854.7,324.9 L1855.7,324.9 L1856.7,324.9 L1857.7,324.9 L1858.7,324.9 L1859.7,324.9 L1860.7,324.9 L1861.7,324.9 L1862.7,324.9 L1863.7,324.9 L1864.7,324.9 L1865.7,324.9 L1866.7,324.9 L1867.7,324.9 L1868.7,324.9 L1869.7,324.9 L1870.7,324.9 L1871.7,324.9 L1872.7,324.9 L1873.7,324.9 L1874.7,324.9 L1875.7,324.9 L1876.7,324.9 L1877.7,324.9 L1878.7,324.9 L1879.7,324.9 L1880.7,324.9 L1881.7,324.9 L1882.7,324.9 L1883.7,324.9 L1884.7,324.9 L1885.7,324.9 L1886.7,324.9 L1887.7,324.9 L1888.7,324.9 L1889.7,324.9 L1890.7,324.9 L1891.7,324.9 L1892.7,324.9 L1893.7,324.9 L1894.7,324.9 L1895.7,324.9 L1896.7,324.9 L1897.7,324.9 L1898.7,324.9 L1899.7,324.9 L1900.7,324.9 L1901.7,324.9 L1902.7,324.9 L1903.7,324.9 L1904.7,324.9 L1905.7,324.9 L1906.7,324.9 L1907.7,324.9 L1908.7,324.9 L1909.7,324.9 L1910.7,324.9 L1911.7,324.9 L1912.7,324.9 L1913.7,324.9 L1914.7,324.9 L1915.7,324.9 L1916.7,324.9 L1917.7,324.9 L1918.7,324.9 L1919.7,324.9 L1920.7,324.9 L1921.7,324.9 L1922.7,324.9 L1923.7,324.9 L1924.7,324.9 L1925.7,324.9 L1926.7,324.9 L1927.7,324.9 L1928.7,324.9 L1929.7,324.9 L1930.7,324.9 L1931.7,324.9 L1932.7,324.9 L1933.7,324.9 L1934.7,324.9 L1935.7,324.9 L1936.7,324.9 L1937.7,324.9 L1938.7,324.9 L1939.7,324.9 L1940.7,324.9 L1941.7,324.9 L1942.7,324.9 L1943.7,324.9 L1944.7,324.9 L1945.7,324.9 L1946.7,324.9 L1947.7,324.9 L1948.7,324.9 L1949.7,324.9 L1950.7,324.9 L1951.7,324.9 L1952.7,324.9 L1953.7,324.9 L1954.7,324.9 L1955.7,324.9 L1956.7,324.9 L1957.7,324.9 L1958.7,324.9 L1959.7,324.9 L1960.7,324.9 L1961.7,324.9 L1962.7,324.9" fill="none" stroke="#8080FF" stroke-width="6.2" stroke-linejoin="round" stroke-linecap="round"/>
<path d="M835,322 L846,326 L845,342 L840,345 Z" fill="#8080FF"/>
<line x1="573.6" y1="199.4" x2="573.6" y2="272.2" stroke="#FF0000" stroke-width="6" stroke-linecap="round"/><path d="M564.5,270.2 L582.7,270.2 L582.7,274 L581.6,275 L575.5,306.9 L571.7,306.9 L565.6,275 L564.5,274 Z" fill="#FF0000"/>
<line x1="629" y1="199.4" x2="629" y2="272.2" stroke="#FF0000" stroke-width="6" stroke-linecap="round"/><path d="M619.9,270.2 L638.1,270.2 L638.1,274 L637,275 L630.9,306.9 L627.1,306.9 L621,275 L619.9,274 Z" fill="#FF0000"/>
<line x1="692.9" y1="199.4" x2="692.9" y2="272.2" stroke="#FF0000" stroke-width="6" stroke-linecap="round"/><path d="M683.8,270.2 L702,270.2 L702,274 L700.9,275 L694.8,306.9 L691,306.9 L684.9,275 L683.8,274 Z" fill="#FF0000"/>
<line x1="757.4" y1="199.4" x2="757.4" y2="272.2" stroke="#FF0000" stroke-width="6" stroke-linecap="round"/><path d="M748.3,270.2 L766.5,270.2 L766.5,274 L765.4,275 L759.3,306.9 L755.5,306.9 L749.4,275 L748.3,274 Z" fill="#FF0000"/>
<line x1="831" y1="199.4" x2="831" y2="272.2" stroke="#FF0000" stroke-width="6" stroke-linecap="round"/><path d="M821.9,270.2 L840.1,270.2 L840.1,274 L839,275 L832.9,306.9 L829.1,306.9 L823,275 L821.9,274 Z" fill="#FF0000"/>
<line x1="914" y1="199.4" x2="914" y2="272.2" stroke="#FF0000" stroke-width="6" stroke-linecap="round"/><path d="M904.9,270.2 L923.1,270.2 L923.1,274 L922,275 L915.9,306.9 L912.1,306.9 L906,275 L904.9,274 Z" fill="#FF0000"/>
<line x1="993" y1="199.4" x2="993" y2="272.2" stroke="#FF0000" stroke-width="6" stroke-linecap="round"/><path d="M983.9,270.2 L1002.1,270.2 L1002.1,274 L1001,275 L994.9,306.9 L991.1,306.9 L985,275 L983.9,274 Z" fill="#FF0000"/>
<line x1="1085" y1="199.4" x2="1085" y2="272.2" stroke="#FF0000" stroke-width="6" stroke-linecap="round"/><path d="M1075.9,270.2 L1094.1,270.2 L1094.1,274 L1093,275 L1086.9,306.9 L1083.1,306.9 L1077,275 L1075.9,274 Z" fill="#FF0000"/>
<line x1="675.1" y1="449.6" x2="675.1" y2="376.5" stroke="#008000" stroke-width="5.8" stroke-linecap="round"/><path d="M666.3,378.5 L683.9,378.5 L683.9,374.7 L682.8,373.7 L677,342.2 L673.2,342.2 L667.4,373.7 L666.3,374.7 Z" fill="#008000"/>
<line x1="717.2" y1="449.6" x2="717.2" y2="376.5" stroke="#008000" stroke-width="5.8" stroke-linecap="round"/><path d="M708.4,378.5 L726,378.5 L726,374.7 L724.9,373.7 L719.1,342.2 L715.3,342.2 L709.5,373.7 L708.4,374.7 Z" fill="#008000"/>
<line x1="757.5" y1="449.6" x2="757.5" y2="376.5" stroke="#008000" stroke-width="5.8" stroke-linecap="round"/><path d="M748.7,378.5 L766.3,378.5 L766.3,374.7 L765.2,373.7 L759.4,342.2 L755.6,342.2 L749.8,373.7 L748.7,374.7 Z" fill="#008000"/>
<line x1="799.8" y1="449.6" x2="799.8" y2="376.5" stroke="#008000" stroke-width="5.8" stroke-linecap="round"/><path d="M791,378.5 L808.6,378.5 L808.6,374.7 L807.5,373.7 L801.7,342.2 L797.9,342.2 L792.1,373.7 L791,374.7 Z" fill="#008000"/>
<line x1="849.4" y1="449.6" x2="849.4" y2="376.5" stroke="#008000" stroke-width="5.8" stroke-linecap="round"/><path d="M840.6,378.5 L858.2,378.5 L858.2,374.7 L857.1,373.7 L851.3,342.2 L847.5,342.2 L841.7,373.7 L840.6,374.7 Z" fill="#008000"/>
<line x1="894" y1="449.6" x2="894" y2="376.5" stroke="#008000" stroke-width="5.8" stroke-linecap="round"/><path d="M885.2,378.5 L902.8,378.5 L902.8,374.7 L901.7,373.7 L895.9,342.2 L892.1,342.2 L886.3,373.7 L885.2,374.7 Z" fill="#008000"/>
<line x1="945.4" y1="449.6" x2="945.4" y2="376.5" stroke="#008000" stroke-width="5.8" stroke-linecap="round"/><path d="M936.6,378.5 L954.2,378.5 L954.2,374.7 L953.1,373.7 L947.3,342.2 L943.5,342.2 L937.7,373.7 L936.6,374.7 Z" fill="#008000"/>
<line x1="992.9" y1="449.6" x2="992.9" y2="376.5" stroke="#008000" stroke-width="5.8" stroke-linecap="round"/><path d="M984.1,378.5 L1001.7,378.5 L1001.7,374.7 L1000.6,373.7 L994.8,342.2 L991,342.2 L985.2,373.7 L984.1,374.7 Z" fill="#008000"/>
<path d="M840.5,127.5 L840.5,73.8 L862,73.8" fill="none" stroke="#8000FF" stroke-width="6.6" stroke-linecap="round" stroke-linejoin="miter"/>
<path d="M858.2,64.7 L896.1,73.8 L858.2,82.9 Z" fill="#8000FF"/>
<path d="M30.7,1073.7 L31.2,1068.3 L31.7,1071.8 L32.2,1070.6 L32.7,1070.8 L33.2,1071.1 L33.7,1069 L34.2,1071.1 L34.7,1070.3 L35.2,1075.2 L35.7,1071.6 L36.2,1070.9 L36.7,1071 L37.2,1070.6 L37.7,1070.1 L38.2,1070.9 L38.7,1071.9 L39.2,1071.1 L39.7,1072.5 L40.2,1071.1 L40.7,1071.4 L41.2,1073.2 L41.7,1072 L42.2,1070.8 L42.7,1071.2 L43.2,1072 L43.7,1073.7 L44.2,1071.1 L44.7,1071.1 L45.2,1072.6 L45.7,1070.4 L46.2,1071.1 L46.7,1072.4 L47.2,1072.1 L47.7,1071.5 L48.2,1072.2 L48.7,1068.1 L49.2,1072.6 L49.7,1070.3 L50.2,1069.5 L50.7,1071.8 L51.2,1072.3 L51.7,1070.9 L52.2,1070.2 L52.7,1071.5 L53.2,1071.4 L53.7,1073.1 L54.2,1072.3 L54.7,1071.7 L55.2,1072.8 L55.7,1071.2 L56.2,1070.4 L56.7,1072.2 L57.2,1072.2 L57.7,1071.2 L58.2,1070.6 L58.7,1071.8 L59.2,1068.6 L59.7,1072.3 L60.2,1072.1 L60.7,1069.6 L61.2,1071.6 L61.7,1070.4 L62.2,1072.4 L62.7,1069.2 L63.2,1070.5 L63.7,1072.4 L64.2,1072.9 L64.7,1069 L65.2,1071 L65.7,1071.9 L66.2,1070.8 L66.7,1073.4 L67.2,1070.2 L67.7,1072 L68.2,1070.3 L68.7,1073.2 L69.2,1071.6 L69.7,1071.1 L70.2,1069.6 L70.7,1073.6 L71.2,1072.5 L71.7,1072.5 L72.2,1072.9 L72.7,1072 L73.2,1070.9 L73.7,1070.7 L74.2,1070.7 L74.7,1073.2 L75.2,1069.9 L75.7,1070.9 L76.2,1071.3 L76.7,1071.9 L77.2,1072.3 L77.7,1070.2 L78.2,1069.6 L78.7,1071.6 L79.2,1073.1 L79.7,1072.5 L80.2,1071.9 L80.7,1071.3 L81.2,1072 L81.7,1071.4 L82.2,1072.6 L82.7,1070.8 L83.2,1071.8 L83.7,1071.6 L84.2,1072.3 L84.7,1072 L85.2,1074.7 L85.7,1073.5 L86.2,1073.5 L86.7,1069.3 L87.2,1071.3 L87.7,1071 L88.2,1072.3 L88.7,1069.1 L89.2,1073.1 L89.7,1073 L90.2,1070.2 L90.7,1070.6 L91.2,1070.8 L91.7,1071.8 L92.2,1072.5 L92.7,1074.2 L93.2,1071.5 L93.7,1072.7 L94.2,1072 L94.7,1073.8 L95.2,1072.6 L95.7,1073.4 L96.2,1070.5 L96.7,1071.6 L97.2,1070.8 L97.7,1073.6 L98.2,1072.6 L98.7,1071.5 L99.2,1071.3 L99.7,1072.4 L100.2,1071 L100.7,1070.7 L101.2,1072.4 L101.7,1074.7 L102.2,1071.5 L102.7,1071.2 L103.2,1070.5 L103.7,1070.3 L104.2,1072.5 L104.7,1072.9 L105.2,1071.9 L105.7,1072.3 L106.2,1072 L106.7,1072 L107.2,1070.1 L107.7,1071.3 L108.2,1072 L108.7,1071 L109.2,1071.3 L109.7,1070.9 L110.2,1071.5 L110.7,1072.9 L111.2,1071.4 L111.7,1071.7 L112.2,1072.9 L112.7,1072.7 L113.2,1073.9 L113.7,1069.5 L114.2,1072.9 L114.7,1071.4 L115.2,1072.1 L115.7,1072.9 L116.2,1073.2 L116.7,1073.2 L117.2,1072.2 L117.7,1073.9 L118.2,1071.7 L118.7,1071.8 L119.2,1072.9 L119.7,1071.4 L120.2,1074.5 L120.7,1073.2 L121.2,1074.6 L121.7,1072 L122.2,1071.6 L122.7,1072.2 L123.2,1072.9 L123.7,1071.4 L124.2,1072.5 L124.7,1072 L125.2,1073.9 L125.7,1071.3 L126.2,1073.3 L126.7,1071.3 L127.2,1071 L127.7,1071.2 L128.2,1070.7 L128.7,1072.3 L129.2,1073.3 L129.7,1072.3 L130.2,1072.8 L130.7,1074 L131.2,1072.4 L131.7,1072.4 L132.2,1071.8 L132.7,1070.3 L133.2,1073 L133.7,1070.1 L134.2,1072.9 L134.7,1072.1 L135.2,1073.5 L135.7,1072.1 L136.2,1071.2 L136.7,1072.6 L137.2,1071.5 L137.7,1072 L138.2,1072.3 L138.7,1072.1 L139.2,1072 L139.7,1071.2 L140.2,1072 L140.7,1069.7 L141.2,1072.1 L141.7,1070.8 L142.2,1073.6 L142.7,1073.7 L143.2,1070 L143.7,1072.4 L144.2,1072.1 L144.7,1071.1 L145.2,1072.9 L145.7,1071.8 L146.2,1070.2 L146.7,1072 L147.2,1072.1 L147.7,1072.4 L148.2,1070.9 L148.7,1073.1 L149.2,1073.2 L149.7,1071 L150.2,1071.6 L150.7,1072.3 L151.2,1071.7 L151.7,1074.4 L152.2,1072.6 L152.7,1071.2 L153.2,1071.5 L153.7,1072.3 L154.2,1075.1 L154.7,1072.2 L155.2,1072.6 L155.7,1073 L156.2,1072.4 L156.7,1075.1 L157.2,1071.8 L157.7,1073.3 L158.2,1072.7 L158.7,1073.2 L159.2,1071.1 L159.7,1074.6 L160.2,1072.4 L160.7,1072.5 L161.2,1071.4 L161.7,1071.7 L162.2,1073.2 L162.7,1073.7 L163.2,1073.4 L163.7,1074 L164.2,1073.4 L164.7,1072.6 L165.2,1073.5 L165.7,1073.3 L166.2,1072.5 L166.7,1073.4 L167.2,1074.1 L167.7,1072.9 L168.2,1072.2 L168.7,1073.4 L169.2,1074.8 L169.7,1072.4 L170.2,1072.5 L170.7,1072.5 L171.2,1074.1 L171.7,1070.5 L172.2,1073.1 L172.7,1074.1 L173.2,1071.7 L173.7,1074.4 L174.2,1073.3 L174.7,1072 L175.2,1072.9 L175.7,1070.9 L176.2,1072 L176.7,1074.9 L177.2,1071.7 L177.7,1074.9 L178.2,1072.6 L178.7,1073.9 L179.2,1072.8 L179.7,1070.1 L180.2,1072.1 L180.7,1073 L181.2,1071.4 L181.7,1071.2 L182.2,1073.2 L182.7,1072 L183.2,1070.8 L183.7,1072 L184.2,1073.8 L184.7,1072.3 L185.2,1073.9 L185.7,1074.6 L186.2,1072.9 L186.7,1071.5 L187.2,1071.3 L187.7,1072.8 L188.2,1073.9 L188.7,1073.2 L189.2,1073.5 L189.7,1072.4 L190.2,1073.2 L190.7,1072.3 L191.2,1072.5 L191.7,1071.4 L192.2,1071.1 L192.7,1072.4 L193.2,1071.6 L193.7,1071.8 L194.2,1073.7 L194.7,1072.8 L195.2,1076.4 L195.7,1074 L196.2,1072.2 L196.7,1073.9 L197.2,1073.4 L197.7,1072.2 L198.2,1074.3 L198.7,1072.1 L199.2,1069.4 L199.7,1073.9 L200.2,1072.3 L200.7,1074.7 L201.2,1072.3 L201.7,1071.6 L202.2,1074.8 L202.7,1071.8 L203.2,1073.3 L203.7,1074.7 L204.2,1073.2 L204.7,1073 L205.2,1073.2 L205.7,1074 L206.2,1072.1 L206.7,1073.8 L207.2,1073.8 L207.7,1075.8 L208.2,1072.7 L208.7,1072 L209.2,1074 L209.7,1072.6 L210.2,1073.5 L210.7,1073.3 L211.2,1074.5 L211.7,1072.4 L212.2,1073 L212.7,1070.2 L213.2,1072.1 L213.7,1074.9 L214.2,1072.4 L214.7,1072.3 L215.2,1071.7 L215.7,1073.9 L216.2,1073.4 L216.7,1071.8 L217.2,1074 L217.7,1073.5 L218.2,1074.1 L218.7,1072.5 L219.2,1075.2 L219.7,1073.7 L220.2,1073.1 L220.7,1072.6 L221.2,1072.9 L221.7,1074.2 L222.2,1072.9 L222.7,1074.5 L223.2,1073.9 L223.7,1074.8 L224.2,1074.2 L224.7,1073.2 L225.2,1071 L225.7,1073.6 L226.2,1074.2 L226.7,1073.5 L227.2,1074 L227.7,1072.8 L228.2,1072.9 L228.7,1072.2 L229.2,1074.9 L229.7,1073.5 L230.2,1072.8 L230.7,1071.8 L231.2,1073.2 L231.7,1075 L232.2,1073.9 L232.7,1072.5 L233.2,1075 L233.7,1075 L234.2,1074.5 L234.7,1074.3 L235.2,1074.7 L235.7,1074 L236.2,1074.3 L236.7,1072.5 L237.2,1075.2 L237.7,1073.7 L238.2,1075.8 L238.7,1071 L239.2,1074.3 L239.7,1074.6 L240.2,1073 L240.7,1074 L241.2,1074.3 L241.7,1074.1 L242.2,1072.8 L242.7,1073.3 L243.2,1074.7 L243.7,1075 L244.2,1073.6 L244.7,1073.6 L245.2,1073.7 L245.7,1074.7 L246.2,1072.3 L246.7,1072 L247.2,1073.7 L247.7,1072.2 L248.2,1072.8 L248.7,1073.6 L249.2,1074.1 L249.7,1072.3 L250.2,1074.5 L250.7,1071.5 L251.2,1074.2 L251.7,1071.7 L252.2,1072.1 L252.7,1074.3 L253.2,1073.1 L253.7,1072.7 L254.2,1073.1 L254.7,1074.1 L255.2,1073.5 L255.7,1073.6 L256.2,1074.8 L256.7,1072.8 L257.2,1073.1 L257.7,1073 L258.2,1075 L258.7,1074.8 L259.2,1075.1 L259.7,1073.6 L260.2,1073.5 L260.7,1074.6 L261.2,1073.2 L261.7,1074.6 L262.2,1074.5 L262.7,1072.9 L263.2,1073.6 L263.7,1073.5 L264.2,1075.7 L264.7,1076.7 L265.2,1073.6 L265.7,1073.7 L266.2,1071 L266.7,1074 L267.2,1073.7 L267.7,1072.5 L268.2,1074.6 L268.7,1071.9 L269.2,1073.5 L269.7,1073.9 L270.2,1072.3 L270.7,1074.8 L271.2,1075 L271.7,1072.1 L272.2,1072.1 L272.7,1074.5 L273.2,1073.7 L273.7,1072.4 L274.2,1073.4 L274.7,1073.7 L275.2,1073.6 L275.7,1074.8 L276.2,1074.2 L276.7,1075.9 L277.2,1075.4 L277.7,1074.6 L278.2,1075.1 L278.7,1075.4 L279.2,1074.7 L279.7,1072.4 L280.2,1074.8 L280.7,1073.9 L281.2,1075.7 L281.7,1074 L282.2,1074.5 L282.7,1074.2 L283.2,1075.8 L283.7,1074.1 L284.2,1073.6 L284.7,1074.2 L285.2,1073.4 L285.7,1074.1 L286.2,1073.9 L286.7,1074.2 L287.2,1076.1 L287.7,1073.4 L288.2,1073.9 L288.7,1073.7 L289.2,1074.7 L289.7,1072.5 L290.2,1073.1 L290.7,1073.9 L291.2,1074.6 L291.7,1073.9 L292.2,1073.4 L292.7,1072.9 L293.2,1074.5 L293.7,1075.6 L294.2,1074.3 L294.7,1074.2 L295.2,1074.5 L295.7,1072.9 L296.2,1073.6 L296.7,1073.7 L297.2,1074.3 L297.7,1073.9 L298.2,1072.6 L298.7,1075.3 L299.2,1076 L299.7,1073.7 L300.2,1074.5 L300.7,1074.3 L301.2,1074.9 L301.7,1072.3 L302.2,1075.9 L302.7,1073.5 L303.2,1075.5 L303.7,1074.1 L304.2,1073.6 L304.7,1073.9 L305.2,1075.1 L305.7,1073 L306.2,1073.6 L306.7,1073.5 L307.2,1072 L307.7,1075.6 L308.2,1074.7 L308.7,1074 L309.2,1075.4 L309.7,1073 L310.2,1074 L310.7,1076.1 L311.2,1075.2 L311.7,1071.5 L312.2,1070.2 L312.7,1072.9 L313.2,1075.3 L313.7,1073.6 L314.2,1073.9 L314.7,1074.8 L315.2,1073.1 L315.7,1074.4 L316.2,1075 L316.7,1074.7 L317.2,1074.6 L317.7,1073.4 L318.2,1074.7 L318.7,1073.6 L319.2,1075.7 L319.7,1077.2 L320.2,1073.3 L320.7,1071.6 L321.2,1073.7 L321.7,1074.6 L322.2,1075.4 L322.7,1075.4 L323.2,1073.3 L323.7,1073.2 L324.2,1075.7 L324.7,1072.9 L325.2,1075.5 L325.7,1073.9 L326.2,1075.1 L326.7,1075 L327.2,1075.1 L327.7,1075.2 L328.2,1073.1 L328.7,1074.6 L329.2,1074.2 L329.7,1074.6 L330.2,1075.7 L330.7,1073.9 L331.2,1073.4 L331.7,1073.4 L332.2,1073.9 L332.7,1075.1 L333.2,1073.3 L333.7,1075.6 L334.2,1074.6 L334.7,1074 L335.2,1072.7 L335.7,1074.5 L336.2,1075.1 L336.7,1072.2 L337.2,1075.7 L337.7,1076.2 L338.2,1074.7 L338.7,1074.9 L339.2,1077.1 L339.7,1075.7 L340.2,1073.2 L340.7,1074.3 L341.2,1074.1 L341.7,1074.1 L342.2,1071.5 L342.7,1075.2 L343.2,1073.6 L343.7,1074.5 L344.2,1074.2 L344.7,1075.3 L345.2,1074 L345.7,1073.4 L346.2,1075 L346.7,1076 L347.2,1074 L347.7,1075.9 L348.2,1074.7 L348.7,1073.7 L349.2,1076.1 L349.7,1073.4 L350.2,1075.5 L350.7,1073.8 L351.2,1074.9 L351.7,1072.9 L352.2,1073.4 L352.7,1075.6 L353.2,1074.6 L353.7,1074.4 L354.2,1073.9 L354.7,1074.9 L355.2,1072.8 L355.7,1073.1 L356.2,1074.2 L356.7,1073.4 L357.2,1073.6 L357.7,1074.3 L358.2,1074.2 L358.7,1074.1 L359.2,1076.4 L359.7,1075.6 L360.2,1075.9 L360.7,1074.4 L361.2,1073.8 L361.7,1072.7 L362.2,1074 L362.7,1072 L363.2,1073.7 L363.7,1075.3 L364.2,1076.3 L364.7,1075.6 L365.2,1073.4 L365.7,1075 L366.2,1073.5 L366.7,1075.4 L367.2,1074.3 L367.7,1075.5 L368.2,1077.5 L368.7,1075.5 L369.2,1077.2 L369.7,1074.7 L370.2,1074.1 L370.7,1076 L371.2,1076.5 L371.7,1073.8 L372.2,1074.6 L372.7,1072.8 L373.2,1074.2 L373.7,1075.5 L374.2,1074.4 L374.7,1073.8 L375.2,1072.8 L375.7,1074.9 L376.2,1075.4 L376.7,1075.2 L377.2,1074.8 L377.7,1073 L378.2,1076.6 L378.7,1074.4 L379.2,1074.3 L379.7,1075.4 L380.2,1072 L380.7,1074.4 L381.2,1074.3 L381.7,1074.9 L382.2,1076.1 L382.7,1075.1 L383.2,1072.4 L383.7,1074.1 L384.2,1074.7 L384.7,1074.7 L385.2,1073 L385.7,1072.6 L386.2,1075.2 L386.7,1074.9 L387.2,1074.5 L387.7,1072.5 L388.2,1076.6 L388.7,1071.1 L389.2,1074.1 L389.7,1077 L390.2,1074.3 L390.7,1074.8 L391.2,1073.1 L391.7,1076.1 L392.2,1073 L392.7,1074.8 L393.2,1074.7 L393.7,1073.3 L394.2,1075.5 L394.7,1072.9 L395.2,1073.7 L395.7,1074.5 L396.2,1074 L396.7,1075.1 L397.2,1075.6 L397.7,1074.2 L398.2,1073.9 L398.7,1073.9 L399.2,1074.1 L399.7,1075.4 L400.2,1074.2 L400.7,1075 L401.2,1074.4 L401.7,1073.5 L402.2,1075.5 L402.7,1073.3 L403.2,1074.5 L403.7,1076.2 L404.2,1073.2 L404.7,1074.4 L405.2,1072.6 L405.7,1073.9 L406.2,1072.7 L406.7,1074 L407.2,1073.8 L407.7,1074.6 L408.2,1076.3 L408.7,1074.8 L409.2,1075.2 L409.7,1074.4 L410.2,1074.2 L410.7,1073.5 L411.2,1072.3 L411.7,1074.5 L412.2,1076.3 L412.7,1075 L413.2,1073.8 L413.7,1076.3 L414.2,1073.9 L414.7,1073.7 L415.2,1073 L415.7,1073.3 L416.2,1074.1 L416.7,1076.7 L417.2,1074.1 L417.7,1073.1 L418.2,1073.6 L418.7,1074.1 L419.2,1072.3 L419.7,1074.5 L420.2,1075.1 L420.7,1074.7 L421.2,1075 L421.7,1072.8 L422.2,1072.3 L422.7,1075.8 L423.2,1075.5 L423.7,1072.5 L424.2,1074.5 L424.7,1074.3 L425.2,1074.9 L425.7,1074.5 L426.2,1073.6 L426.7,1074.4 L427.2,1074.4 L427.7,1074.1 L428.2,1072 L428.7,1070.6 L429.2,1073.2 L429.7,1072.2 L430.2,1074.4 L430.7,1074.9 L431.2,1074.4 L431.7,1073.6 L432.2,1074.1 L432.7,1075.4 L433.2,1073.2 L433.7,1075.1 L434.2,1074.8 L434.7,1074.3 L435.2,1075.7 L435.7,1073.1 L436.2,1075 L436.7,1072.8 L437.2,1073 L437.7,1072.6 L438.2,1074.4 L438.7,1072.8 L439.2,1073.9 L439.7,1072.5 L440.2,1075.1 L440.7,1075.9 L441.2,1074 L441.7,1075.7 L442.2,1074.4 L442.7,1076.3 L443.2,1073.8 L443.7,1071.9 L444.2,1075.4 L444.7,1073.5 L445.2,1072.4 L445.7,1072.9 L446.2,1071.7 L446.7,1073.4 L447.2,1072.3 L447.7,1075.3 L448.2,1074.3 L448.7,1071.6 L449.2,1071.8 L449.7,1072.8 L450.2,1071.2 L450.7,1073.4 L451.2,1073.4 L451.7,1072.5 L452.2,1072.8 L452.7,1074 L453.2,1075.1 L453.7,1075.1 L454.2,1073.4 L454.7,1074.4 L455.2,1072.5 L455.7,1073.8 L456.2,1072.2 L456.7,1074.1 L457.2,1071.8 L457.7,1072.1 L458.2,1073.2 L458.7,1073.9 L459.2,1071.5 L459.7,1072.6 L460.2,1073.3 L460.7,1073.4 L461.2,1072.2 L461.7,1073.2 L462.2,1072.8 L462.7,1074.7 L463.2,1073.7 L463.7,1071.5 L464.2,1070.5 L464.7,1073.1 L465.2,1074.4 L465.7,1073.2 L466.2,1074 L466.7,1072.4 L467.2,1071.3 L467.7,1073.8 L468.2,1073 L468.7,1073.7 L469.2,1071.2 L469.7,1073 L470.2,1072.1 L470.7,1073.7 L471.2,1072.1 L471.7,1072 L472.2,1072.1 L472.7,1074.2 L473.2,1072.7 L473.7,1071.8 L474.2,1071.5 L474.7,1071.4 L475.2,1074.3 L475.7,1070.5 L476.2,1071.6 L476.7,1073.3 L477.2,1073.9 L477.7,1072.3 L478.2,1073.4 L478.7,1073.4 L479.2,1073.6 L479.7,1072.5 L480.2,1074.3 L480.7,1072.6 L481.2,1074.2 L481.7,1071.1 L482.2,1073.5 L482.7,1070.9 L483.2,1070.6 L483.7,1072.9 L484.2,1071.3 L484.7,1072.8 L485.2,1071 L485.7,1074.1 L486.2,1072.2 L486.7,1070.9 L487.2,1072.4 L487.7,1073.2 L488.2,1071.2 L488.7,1072.7 L489.2,1074.5 L489.7,1073.1 L490.2,1072 L490.7,1071.3 L491.2,1072.7 L491.7,1070.2 L492.2,1068.4 L492.7,1071.1 L493.2,1070.6 L493.7,1073.9 L494.2,1072 L494.7,1070.7 L495.2,1070.4 L495.7,1072.4 L496.2,1070.8 L496.7,1071.1 L497.2,1071.6 L497.7,1071.8 L498.2,1071.8 L498.7,1071.8 L499.2,1073.1 L499.7,1073.6 L500.2,1069.6 L500.7,1074.6 L501.2,1071.7 L501.7,1073 L502.2,1070.6 L502.7,1071.8 L503.2,1071.7 L503.7,1071.5 L504.2,1072.4 L504.7,1072.1 L505.2,1070.1 L505.7,1071.2 L506.2,1072.1 L506.7,1072 L507.2,1070.8 L507.7,1070.9 L508.2,1071 L508.7,1069.8 L509.2,1069.6 L509.7,1072.9 L510.2,1070.6 L510.7,1071.1 L511.2,1070.1 L511.7,1072.5 L512.2,1073 L512.7,1070.7 L513.2,1071.5 L513.7,1070 L514.2,1072.9 L514.7,1071.9 L515.2,1069.8 L515.7,1072.2 L516.2,1071.1 L516.7,1071.2 L517.2,1071.1 L517.7,1069.9 L518.2,1070 L518.7,1071.3 L519.2,1070.5 L519.7,1069.4 L520.2,1072.9 L520.7,1070.2 L521.2,1069.8 L521.7,1069.6 L522.2,1071.2 L522.7,1071.5 L523.2,1070.6 L523.7,1071.3 L524.2,1068.5 L524.7,1069.8 L525.2,1069.6 L525.7,1070.2 L526.2,1070.7 L526.7,1067.7 L527.2,1073.7 L527.7,1069 L528.2,1070.4 L528.7,1070.9 L529.2,1070.9 L529.7,1070.2 L530.2,1066.5 L530.7,1068.6 L531.2,1070.7 L531.7,1068.7 L532.2,1068.5 L532.7,1066.9 L533.2,1071.1 L533.7,1070.2 L534.2,1068.6 L534.7,1069.4 L535.2,1069.4 L535.7,1068.2 L536.2,1069.1 L536.7,1069.7 L537.2,1070 L537.7,1070.8 L538.2,1069.4 L538.7,1068.7 L539.2,1069.7 L539.7,1068.5 L540.2,1067.7 L540.7,1070.5 L541.2,1068.7 L541.7,1069.2 L542.2,1069.8 L542.7,1067.7 L543.2,1069.7 L543.7,1069.5 L544.2,1068.8 L544.7,1069.3 L545.2,1068 L545.7,1066.2 L546.2,1068.4 L546.7,1067.7 L547.2,1069.7 L547.7,1069 L548.2,1068 L548.7,1068.7 L549.2,1070.2 L549.7,1069.9 L550.2,1068.9 L550.7,1069 L551.2,1068.1 L551.7,1068.3 L552.2,1069.1 L552.7,1068.2 L553.2,1068.7 L553.7,1067 L554.2,1066.3 L554.7,1066.2 L555.2,1067.7 L555.7,1069.7 L556.2,1069.5 L556.7,1066.9 L557.2,1066.2 L557.7,1068.9 L558.2,1068.5 L558.7,1066.3 L559.2,1069.1 L559.7,1068.1 L560.2,1069.4 L560.7,1068.2 L561.2,1068.8 L561.7,1068.1 L562.2,1066.6 L562.7,1067.4 L563.2,1066.8 L563.7,1068.6 L564.2,1066.4 L564.7,1065.7 L565.2,1068.3 L565.7,1068.8 L566.2,1069.1 L566.7,1068.7 L567.2,1065.6 L567.7,1066.5 L568.2,1066.7 L568.7,1067.2 L569.2,1064.7 L569.7,1067.2 L570.2,1067.5 L570.7,1066 L571.2,1067.2 L571.7,1068.4 L572.2,1067.1 L572.7,1068.2 L573.2,1068.1 L573.7,1067.4 L574.2,1067.3 L574.7,1066.4 L575.2,1068.3 L575.7,1066.2 L576.2,1065.9 L576.7,1067.5 L577.2,1065.8 L577.7,1067.1 L578.2,1067.8 L578.7,1066.6 L579.2,1066.6 L579.7,1067.6 L580.2,1067.3 L580.7,1064.6 L581.2,1064.8 L581.7,1067.9 L582.2,1066.7 L582.7,1063.8 L583.2,1064.6 L583.7,1066.2 L584.2,1065 L584.7,1066.6 L585.2,1066.1 L585.7,1066.6 L586.2,1064.6 L586.7,1066.7 L587.2,1068.2 L587.7,1064.9 L588.2,1067.3 L588.7,1066.9 L589.2,1066.5 L589.7,1065.6 L590.2,1064.3 L590.7,1064.6 L591.2,1066.5 L591.7,1066.7 L592.2,1066.9 L592.7,1066.5 L593.2,1066.4 L593.7,1064.8 L594.2,1063.9 L594.7,1065.5 L595.2,1065.8 L595.7,1065.3 L596.2,1063.3 L596.7,1064.4 L597.2,1063.3 L597.7,1065.1 L598.2,1063.7 L598.7,1064.7 L599.2,1065.2 L599.7,1064.9 L600.2,1066.3 L600.7,1063.4 L601.2,1062.1 L601.7,1065.7 L602.2,1066.2 L602.7,1066.1 L603.2,1064.8 L603.7,1065 L604.2,1064.5 L604.7,1062.8 L605.2,1063.6 L605.7,1064.8 L606.2,1063.5 L606.7,1066.3 L607.2,1062.2 L607.7,1063.5 L608.2,1065.2 L608.7,1063.2 L609.2,1062.5 L609.7,1062.2 L610.2,1062.9 L610.7,1065.5 L611.2,1064.1 L611.7,1064.2 L612.2,1062.9 L612.7,1064.5 L613.2,1063.6 L613.7,1062.3 L614.2,1062.8 L614.7,1063.5 L615.2,1064.6 L615.7,1063.1 L616.2,1063.7 L616.7,1065.5 L617.2,1062.1 L617.7,1061.6 L618.2,1064.1 L618.7,1063.4 L619.2,1062.7 L619.7,1063.1 L620.2,1062.4 L620.7,1063.3 L621.2,1062.2 L621.7,1063.5 L622.2,1061.2 L622.7,1061.5 L623.2,1062.6 L623.7,1061.8 L624.2,1063.1 L624.7,1062.2 L625.2,1061.6 L625.7,1062.4 L626.2,1061.5 L626.7,1060.2 L627.2,1060.6 L627.7,1061 L628.2,1061.3 L628.7,1061.9 L629.2,1062.8 L629.7,1062.3 L630.2,1063.7 L630.7,1063 L631.2,1061.3 L631.7,1063.4 L632.2,1062.7 L632.7,1060.8 L633.2,1061.6 L633.7,1062.4 L634.2,1061.4 L634.7,1062.2 L635.2,1061.4 L635.7,1061.7 L636.2,1060.4 L636.7,1061.2 L637.2,1060.2 L637.7,1061.4 L638.2,1058.5 L638.7,1060.8 L639.2,1061.8 L639.7,1061 L640.2,1060.2 L640.7,1060.8 L641.2,1059.1 L641.7,1059 L642.2,1059.5 L642.7,1059.6 L643.2,1060.9 L643.7,1058.6 L644.2,1060.7 L644.7,1057.6 L645.2,1058.5 L645.7,1059.2 L646.2,1060.5 L646.7,1058.4 L647.2,1056.5 L647.7,1059.4 L648.2,1058.8 L648.7,1057.5 L649.2,1057.4 L649.7,1057.7 L650.2,1058.5 L650.7,1059.1 L651.2,1056.5 L651.7,1060.8 L652.2,1058 L652.7,1057.5 L653.2,1058.6 L653.7,1057.8 L654.2,1060.3 L654.7,1058.8 L655.2,1057 L655.7,1056.8 L656.2,1056.6 L656.7,1056.7 L657.2,1057.7 L657.7,1056.1 L658.2,1058.6 L658.7,1056.5 L659.2,1056.4 L659.7,1057.5 L660.2,1054 L660.7,1055.1 L661.2,1056.8 L661.7,1056 L662.2,1055.8 L662.7,1056.2 L663.2,1054.9 L663.7,1055.3 L664.2,1053.8 L664.7,1053.1 L665.2,1056.6 L665.7,1054 L666.2,1054.1 L666.7,1056.4 L667.2,1055.9 L667.7,1054 L668.2,1053.8 L668.7,1054.2 L669.2,1053.1 L669.7,1054.7 L670.2,1054.1 L670.7,1054 L671.2,1054.6 L671.7,1054.4 L672.2,1055.6 L672.7,1055.1 L673.2,1051.2 L673.7,1054.1 L674.2,1051.6 L674.7,1051.2 L675.2,1053.5 L675.7,1051.7 L676.2,1052.1 L676.7,1053.6 L677.2,1051.4 L677.7,1051 L678.2,1052.3 L678.7,1053.2 L679.2,1052.2 L679.7,1049.7 L680.2,1050.6 L680.7,1051 L681.2,1053.3 L681.7,1052 L682.2,1051.8 L682.7,1052 L683.2,1050.1 L683.7,1050.9 L684.2,1050.8 L684.7,1048.9 L685.2,1049.9 L685.7,1050.4 L686.2,1048.3 L686.7,1050.4 L687.2,1050.2 L687.7,1050.3 L688.2,1048 L688.7,1048.9 L689.2,1050.3 L689.7,1049.4 L690.2,1047.4 L690.7,1048.4 L691.2,1049.6 L691.7,1047.7 L692.2,1048 L692.7,1050.4 L693.2,1047.2 L693.7,1046.9 L694.2,1045.7 L694.7,1045.9 L695.2,1048.2 L695.7,1046.2 L696.2,1044.7 L696.7,1044.8 L697.2,1045.7 L697.7,1046.4 L698.2,1044.5 L698.7,1045.9 L699.2,1044.3 L699.7,1045.1 L700.2,1044.7 L700.7,1044.5 L701.2,1043.8 L701.7,1043.7 L702.2,1043.7 L702.7,1042.7 L703.2,1043.1 L703.7,1043 L704.2,1043 L704.7,1042.2 L705.2,1041.9 L705.7,1041.8 L706.2,1041.1 L706.7,1041.1 L707.2,1041.1 L707.7,1040.7 L708.2,1039.8 L708.7,1039.8 L709.2,1038.7 L709.7,1039.7 L710.2,1038.8 L710.7,1038.8 L711.2,1037.8 L711.7,1037.9 L712.2,1037.8 L712.7,1037.7 L713.2,1036.2 L713.7,1036.8 L714.2,1036 L714.7,1035.3 L715.2,1035.4 L715.7,1034.7 L716.2,1034.2 L716.7,1033.6 L717.2,1033.6 L717.7,1033 L718.2,1032.5 L718.7,1031.7 L719.2,1031.4 L719.7,1031.3 L720.2,1031.2 L720.7,1030.1 L721.2,1030.3 L721.7,1029.2 L722.2,1028.2 L722.7,1028.4 L723.2,1027.2 L723.7,1027.3 L724.2,1027.1 L724.7,1026 L725.2,1025.6 L725.7,1026.2 L726.2,1024.7 L726.7,1024.2 L727.2,1024 L727.7,1023.1 L728.2,1022.6 L728.7,1022.3 L729.2,1020.5 L729.7,1021.7 L730.2,1020 L730.7,1019.5 L731.2,1019.7 L731.7,1018.9 L732.2,1017.8 L732.7,1017.9 L733.2,1016.7 L733.7,1016.4 L734.2,1015.4 L734.7,1015.2 L735.2,1015.2 L735.7,1014.5 L736.2,1014 L736.7,1013.7 L737.2,1012.6 L737.7,1011.8 L738.2,1011.3 L738.7,1011.6 L739.2,1010.2 L739.7,1009.8 L740.2,1008.9 L740.7,1008.5 L741.2,1007.9 L741.7,1007.1 L742.2,1006.4 L742.7,1005.4 L743.2,1004.7 L743.7,1004.6 L744.2,1004.1 L744.7,1003.5 L745.2,1002.4 L745.7,1001.3 L746.2,1001.3 L746.7,1000.5 L747.2,998.9 L747.7,999.2 L748.2,998.3 L748.7,998.1 L749.2,996 L749.7,995.2 L750.2,995.3 L750.7,993.4 L751.2,993.1 L751.7,992.1 L752.2,991.3 L752.7,990 L753.2,989.9 L753.7,989.5 L754.2,988.3 L754.7,987.4 L755.2,986.1 L755.7,985.9 L756.2,984.5 L756.7,983.8 L757.2,981.6 L757.7,981.4 L758.2,979.6 L758.7,979.2 L759.2,978.1 L759.7,976.4 L760.2,975.8 L760.7,975.1 L761.2,973.7 L761.7,972.6 L762.2,970.7 L762.7,969.7 L763.2,968.3 L763.7,967.6 L764.2,966.9 L764.7,965.4 L765.2,964 L765.7,962.3 L766.2,961.8 L766.7,960.3 L767.2,958.4 L767.7,957.3 L768.2,956.8 L768.7,955.3 L769.2,955.3 L769.7,953.5 L770.2,951.9 L770.7,951 L771.2,950.8 L771.7,948.5 L772.2,948.1 L772.7,946.8 L773.2,946.1 L773.7,944.5 L774.2,942.9 L774.7,942.1 L775.2,940.7 L775.7,939.9 L776.2,938.2 L776.7,937.9 L777.2,935.8 L777.7,934.8 L778.2,933.1 L778.7,932.3 L779.2,931 L779.7,929.9 L780.2,929 L780.7,927.2 L781.2,925.8 L781.7,925.5 L782.2,923.7 L782.7,922.3 L783.2,922 L783.7,920.6 L784.2,917.9 L784.7,917.8 L785.2,917.1 L785.7,916 L786.2,914.3 L786.7,914.1 L787.2,912 L787.7,911.2 L788.2,910.3 L788.7,909.2 L789.2,908.5 L789.7,907.7 L790.2,906.2 L790.7,905.9 L791.2,904 L791.7,903.2 L792.2,903.1 L792.7,901.5 L793.2,901 L793.7,899.4 L794.2,898.6 L794.7,897.9 L795.2,897.3 L795.7,896.4 L796.2,895.9 L796.7,895.7 L797.2,895.4 L797.7,894.6 L798.2,894.5 L798.7,894.4 L799.2,893.4 L799.7,893.1 L800.2,894.4 L800.7,894.3 L801.2,893.8 L801.7,894 L802.2,893.5 L802.7,893.5 L803.2,894.4 L803.7,893.8 L804.2,895.2 L804.7,894.7 L805.2,895.5 L805.7,896.6 L806.2,897 L806.7,896.4 L807.2,897.5 L807.7,897.1 L808.2,897.9 L808.7,898.9 L809.2,900.1 L809.7,899.9 L810.2,901.2 L810.7,901.9 L811.2,902.2 L811.7,903.8 L812.2,905.6 L812.7,906.1 L813.2,907.8 L813.7,909.4 L814.2,910.4 L814.7,913.1 L815.2,915.2 L815.7,917.5 L816.2,919.8 L816.7,921.6 L817.2,924.3 L817.7,927.1 L818.2,930.1 L818.7,933.3 L819.2,937.3 L819.7,940.8 L820.2,943.1 L820.7,946.9 L821.2,949.2 L821.7,952.6 L822.2,955.3 L822.7,957.9 L823.2,961.5 L823.7,964.3 L824.2,967 L824.7,969.7 L825.2,972.4 L825.7,975.6 L826.2,978.3 L826.7,981.5 L827.2,983.7 L827.7,987.3 L828.2,990.3 L828.7,993.5 L829.2,996.4 L829.7,998.9 L830.2,1001.5 L830.7,1003.9 L831.2,1007.7 L831.7,1011.4 L832.2,1014.5 L832.7,1015.7 L833.2,1019.6 L833.7,1022.9 L834.2,1025.7 L834.7,1029.4 L835.2,1032.5 L835.7,1035.5 L836.2,1038.9 L836.7,1041.5 L837.2,1045 L837.7,1048.4 L838.2,1052.5 L838.7,1054.7 L839.2,1058.7 L839.7,1062.5 L840.2,1065.6 L840.7,1069.4 L841.2,1072.1 L841.7,1076.1 L842.2,1079.8 L842.7,1083.8 L843.2,1086.7 L843.7,1090.6 L844.2,1093.6 L844.7,1097.5 L845.2,1102 L845.7,1105.4 L846.2,1109.7 L846.7,1113.3 L847.2,1117.9 L847.7,1121.9 L848.2,1124.3 L848.7,1129.3 L849.2,1132.5 L849.7,1136.2 L850.2,1139.5 L850.7,1143.3 L851.2,1145.8 L851.7,1149.2 L852.2,1152.2 L852.7,1155.5 L853.2,1158.6 L853.7,1161.3 L854.2,1163.9 L854.7,1166.2 L855.2,1168.3 L855.7,1171.8 L856.2,1174 L856.7,1176.4 L857.2,1179 L857.7,1180.2 L858.2,1182 L858.7,1182.7 L859.2,1185.6 L859.7,1186.7 L860.2,1187.8 L860.7,1189.5 L861.2,1190 L861.7,1191.3 L862.2,1193.4 L862.7,1193.8 L863.2,1194.7 L863.7,1195.4 L864.2,1196.1 L864.7,1196.6 L865.2,1198.2 L865.7,1197.8 L866.2,1198.8 L866.7,1198.9 L867.2,1199.4 L867.7,1198.9 L868.2,1199.6 L868.7,1201.6 L869.2,1202 L869.7,1201.5 L870.2,1202.1 L870.7,1202.7 L871.2,1202.3 L871.7,1203.8 L872.2,1202.8 L872.7,1203.2 L873.2,1202.5 L873.7,1204.6 L874.2,1204.1 L874.7,1204.9 L875.2,1203.8 L875.7,1204.5 L876.2,1204.5 L876.7,1204.5 L877.2,1205.4 L877.7,1205.4 L878.2,1204.9 L878.7,1204 L879.2,1204.4 L879.7,1204.4 L880.2,1203.8 L880.7,1203.5 L881.2,1203.1 L881.7,1202.1 L882.2,1202.2 L882.7,1202.4 L883.2,1200.7 L883.7,1200.7 L884.2,1200.5 L884.7,1199 L885.2,1198.9 L885.7,1197.7 L886.2,1197.5 L886.7,1196.6 L887.2,1196.1 L887.7,1195.7 L888.2,1195.1 L888.7,1194.5 L889.2,1192.9 L889.7,1194 L890.2,1192.5 L890.7,1191.5 L891.2,1191.1 L891.7,1190.9 L892.2,1189.6 L892.7,1189.3 L893.2,1188.7 L893.7,1188.5 L894.2,1187.4 L894.7,1187.3 L895.2,1186.6 L895.7,1185.8 L896.2,1185.8 L896.7,1184.6 L897.2,1183.4 L897.7,1183.4 L898.2,1182.6 L898.7,1181.9 L899.2,1181.3 L899.7,1181.6 L900.2,1180 L900.7,1179.4 L901.2,1178.4 L901.7,1178.4 L902.2,1177.1 L902.7,1176.1 L903.2,1175.2 L903.7,1175.3 L904.2,1174.7 L904.7,1173 L905.2,1172.7 L905.7,1172.6 L906.2,1172.1 L906.7,1170.4 L907.2,1170.1 L907.7,1170 L908.2,1168.7 L908.7,1168.1 L909.2,1167.4 L909.7,1166.5 L910.2,1166.4 L910.7,1165.9 L911.2,1164.6 L911.7,1164.6 L912.2,1164.5 L912.7,1163.5 L913.2,1163.3 L913.7,1162.1 L914.2,1162.5 L914.7,1161 L915.2,1161.7 L915.7,1160.1 L916.2,1159.5 L916.7,1159 L917.2,1158.8 L917.7,1158.3 L918.2,1157.7 L918.7,1157.4 L919.2,1157.4 L919.7,1157.1 L920.2,1156.1 L920.7,1156.3 L921.2,1154.8 L921.7,1154.3 L922.2,1153.8 L922.7,1154.1 L923.2,1152.6 L923.7,1152.1 L924.2,1152.8 L924.7,1152.4 L925.2,1151.7 L925.7,1149.8 L926.2,1149.9 L926.7,1149.7 L927.2,1148.7 L927.7,1147.3 L928.2,1147.3 L928.7,1146.1 L929.2,1145.7 L929.7,1146.5 L930.2,1145.3 L930.7,1143.7 L931.2,1143 L931.7,1143.2 L932.2,1142.1 L932.7,1142 L932.2,1124.4 L934,1160 L934.9,1138.3 L933.2,1140.8 L933.7,1140.4 L934.2,1140 L934.7,1138.8 L935.2,1137.7 L935.7,1137.4 L936.2,1137 L936.7,1136.6 L937.2,1136.1 L937.7,1135.4 L938.2,1135.1 L938.7,1133.9 L939.2,1134.3 L939.7,1134 L940.2,1132.9 L940.7,1132.1 L941.2,1132.8 L941.7,1131.6 L942.2,1130.5 L942.7,1129.6 L943.2,1128.4 L943.7,1127.4 L944.2,1129 L944.7,1129.1 L945.2,1126 L945.7,1126.7 L946.2,1126.6 L946.7,1125.4 L947.2,1124.6 L947.7,1124.6 L948.2,1122.3 L948.7,1124.2 L949.2,1123.6 L949.7,1126 L950.2,1124.3 L950.7,1122.5 L951.2,1122.5 L951.7,1124.2 L952.2,1123.8 L952.7,1121.8 L953.2,1121.1 L953.7,1119.3 L954.2,1120.3 L954.7,1120.2 L955.2,1119.2 L955.7,1121.8 L956.2,1117.4 L956.7,1119.1 L957.2,1119.5 L957.7,1119.3 L958.2,1120.5 L958.7,1116.6 L959.2,1117.1 L959.7,1117.8 L960.2,1117.6 L959.3,1104.5 L961.1,1132.6 L962,1116.1 L960.7,1116.8 L961.2,1116.1 L961.7,1118 L962.2,1115.2 L962.7,1115.6 L963.2,1117.7 L963.7,1117.8 L964.2,1116.5 L964.7,1114.3 L965.2,1114 L965.7,1113.7 L966.2,1113.2 L966.7,1113.8 L967.2,1115.6 L967.7,1114.1 L968.2,1112.7 L968.7,1112.5 L969.2,1111.8 L969.7,1114.3 L970.2,1110.3 L970.7,1112.8 L971.2,1110.5 L971.7,1110.7 L972.2,1110 L972.7,1112.6 L973.2,1111.2 L973.7,1114.2 L974.2,1109.6 L974.7,1109.2 L975.2,1111 L975.7,1110.7 L976.2,1109.5 L976.7,1107.2 L977.2,1111.1 L977.7,1109.8 L978.2,1109.5 L978.7,1108.2 L979.2,1109.4 L979.7,1107.9 L980.2,1108.5 L980.7,1108 L981.2,1109.6 L981.7,1107.4 L982.2,1107.4 L982.7,1109 L983.2,1107.9 L983.7,1107.4 L984.2,1107.1 L984.7,1108.3 L985.2,1106.4 L985.7,1107.6 L986.2,1109.3 L986.7,1107.3 L986.2,1092.2 L988,1115.6 L988.9,1104.7 L987.2,1105.8 L987.7,1105.2 L988.2,1106.6 L988.7,1104.9 L989.2,1104.4 L989.7,1105.3 L990.2,1104.8 L990.7,1107 L991.2,1104.1 L991.7,1107.6 L992.2,1104.7 L992.7,1105.6 L993.2,1106.2 L993.7,1105.6 L994.2,1106 L994.7,1103.9 L995.2,1102.3 L995.7,1104.6 L996.2,1102.8 L996.7,1104 L997.2,1105.6 L997.7,1104.2 L998.2,1103.6 L997.5,1093 L999.3,1097.5 L1000.2,1102.2 L998.7,1102.9 L999.2,1103.8 L999.7,1103.8 L1000.2,1102 L1000.7,1104.1 L1001.2,1102.4 L1001.7,1103.8 L1002.2,1102.9 L1002.7,1104.4 L1003.2,1104.2 L1003.7,1103 L1004.2,1102.8 L1004.7,1103.3 L1005.2,1104.3 L1005.7,1103.8 L1006.2,1102.6 L1006.7,1102.6 L1007.2,1103.9 L1007.7,1100 L1008.2,1102.4 L1008.7,1100.6 L1009.2,1103.1 L1009.7,1100.7 L1010.2,1101 L1010.7,1099.7 L1011.2,1100.8 L1011.7,1101.6 L1012.2,1102.4 L1012.7,1098.8 L1013.2,1099.6 L1013.7,1104.5 L1014.2,1100.9 L1013.6,1083.7 L1015.4,1105.1 L1016.3,1100.4 L1014.7,1099.6 L1015.2,1100 L1015.7,1096.1 L1016.2,1100.9 L1016.7,1099 L1017.2,1097 L1017.7,1099.8 L1018.2,1097.6 L1018.7,1096.9 L1019.2,1098.5 L1019.7,1098.2 L1020.2,1097 L1020.7,1097.3 L1021.2,1095.6 L1021.7,1095.3 L1022.2,1097.9 L1022.7,1098.2 L1023.2,1097 L1023.7,1096.8 L1024.2,1095.7 L1024.7,1095.9 L1025.2,1094.8 L1025.7,1097.8 L1026.2,1094.9 L1026.7,1095.9 L1027.2,1095.3 L1027.7,1093.5 L1028.2,1097.3 L1028.7,1094.5 L1029.2,1093.9 L1029.7,1094.8 L1030.2,1093.5 L1030.7,1094.5 L1031.2,1093.2 L1031.7,1094.9 L1032.2,1094.1 L1032.7,1092.4 L1033.2,1095.1 L1033.7,1094 L1034.2,1092.3 L1034.7,1094 L1035.2,1093.9 L1035.7,1095.5 L1036.2,1092.2 L1036.7,1094.1 L1037.2,1092.9 L1037.7,1093.6 L1038.2,1092.5 L1038.7,1092.7 L1039.2,1093.2 L1039.7,1091.1 L1040.2,1090 L1040.7,1092.3 L1041.2,1091.7 L1041.7,1092.3 L1042.2,1092.8 L1042.7,1091.8 L1042,1080.9 L1043.8,1099.5 L1044.7,1092.6 L1043.2,1093.3 L1043.7,1091.8 L1044.2,1091.9 L1044.7,1092.7 L1045.2,1092.3 L1045.7,1091.4 L1046.2,1091.6 L1046.7,1090.5 L1047.2,1090.6 L1047.7,1091.3 L1048.2,1092.1 L1048.7,1090.6 L1049.2,1092 L1049.7,1093.2 L1050.2,1093.4 L1050.7,1090.8 L1051.2,1092 L1051.7,1091.4 L1052.2,1091.5 L1052.7,1091.5 L1053.2,1091.1 L1053.7,1091.4 L1054.2,1090.6 L1054.7,1090 L1055.2,1090.6 L1055.7,1090.8 L1056.2,1091.6 L1056.7,1090.6 L1057.2,1090.9 L1057.7,1091.7 L1058.2,1088.9 L1058.7,1089.7 L1059.2,1090.6 L1059.7,1089.9 L1060.2,1088.7 L1060.7,1091 L1061.2,1089.8 L1061.7,1088.7 L1062.2,1092 L1062.7,1088.3 L1063.2,1089.8 L1063.7,1089 L1064.2,1089.9 L1064.7,1090.4 L1065.2,1088.8 L1065.7,1089.6 L1066.2,1089.6 L1066.7,1088.6 L1067.2,1091.1 L1067.7,1090 L1068.2,1089.4 L1068.7,1089 L1069.2,1089.4 L1069.7,1089.9 L1070.2,1089.2 L1070.7,1091.2 L1071.2,1086.7 L1071.7,1087.2 L1072.2,1089.4 L1071.3,1077 L1073.1,1093.8 L1074,1089.9 L1072.7,1087.5 L1073.2,1089.6 L1073.7,1088.9 L1074.2,1090.3 L1074.7,1090.1 L1075.2,1091.1 L1075.7,1090.7 L1076.2,1091 L1076.7,1090.1 L1077.2,1090.7 L1077.7,1090 L1078.2,1088.7 L1078.7,1087.9 L1079.2,1087.9 L1079.7,1089.8 L1080.2,1086.4 L1080.7,1089.4 L1081.2,1088.2 L1081.7,1089.9 L1082.2,1089.2 L1082.7,1088 L1083.2,1088.8 L1083.7,1086.1 L1084.2,1089 L1084.7,1089.1 L1085.2,1086.4 L1085.7,1089.4 L1086.2,1088.2 L1086.7,1088.5 L1087.2,1086.5 L1087.7,1088.8 L1088.2,1088.7 L1088.7,1087.9 L1089.2,1086.7 L1089.7,1088.6 L1090.2,1089.1 L1090.7,1088 L1091.2,1088.6 L1091.7,1086.7 L1092.2,1087.5 L1092.7,1087.6 L1093.2,1087.3 L1093.7,1090.3 L1094.2,1087.4 L1094.7,1086.2 L1095.2,1087.7 L1095.7,1085.4 L1096.2,1087 L1096.7,1087.4 L1097.2,1085.8 L1097.7,1085.9 L1098.2,1085.1 L1098.7,1086.3 L1099.2,1085.2 L1099.7,1088 L1100.2,1086.6 L1100.7,1085.5 L1101.2,1084 L1101.7,1088 L1102.2,1087 L1102.7,1086 L1103.2,1085.6 L1103.7,1085.5 L1104.2,1084.6 L1104.7,1087.3 L1105.2,1085.3 L1105.7,1083.3 L1106.2,1084.1 L1106.7,1081.8 L1107.2,1085.5 L1107.7,1085.6 L1108.2,1086.7 L1108.7,1087 L1109.2,1083.6 L1109.7,1085 L1110.2,1085.5 L1110.7,1085.2 L1111.2,1083.7 L1111.7,1085.1 L1112.2,1084.7 L1112.7,1085.7 L1113.2,1084 L1113.7,1083.7 L1114.2,1083.3 L1114.7,1083.4 L1115.2,1082.9 L1115.7,1083.3 L1116.2,1084.2 L1116.7,1084.1 L1117.2,1085.1 L1117.7,1084.8 L1118.2,1084.1 L1118.7,1082 L1119.2,1084 L1119.7,1084.6 L1120.2,1081.7 L1120.7,1081.8 L1121.2,1082 L1121.7,1081.8 L1122.2,1082.6 L1122.7,1081.8 L1123.2,1083.3 L1123.7,1081.4 L1124.2,1082.6 L1124.7,1082.1 L1125.2,1081.5 L1125.7,1083.8 L1126.2,1082.6 L1126.7,1083.1 L1127.2,1082.1 L1127.7,1083.2 L1128.2,1083.1 L1128.7,1082.1 L1129.2,1080.2 L1129.7,1083.2 L1130.2,1083 L1130.7,1082.3 L1131.2,1082.3 L1131.7,1082.2 L1132.2,1082.2 L1132.7,1080.7 L1133.2,1081.8 L1133.7,1082.2 L1134.2,1081.1 L1134.7,1080.6 L1135.2,1083.9 L1135.7,1082.4 L1136.2,1081.2 L1136.7,1081 L1137.2,1078.4 L1137.7,1079.8 L1138.2,1081.1 L1138.7,1082.9 L1139.2,1078.9 L1139.7,1080.5 L1140.2,1083.5 L1140.7,1082 L1141.2,1081.7 L1141.7,1082.5 L1142.2,1080.9 L1142.7,1080.8 L1143.2,1081.8 L1143.7,1082 L1144.2,1079.7 L1144.7,1082.7 L1145.2,1078.8 L1145.7,1080 L1146.2,1084.4 L1146.7,1080.1 L1147.2,1081.4 L1147.7,1079.5 L1148.2,1080.2 L1148.7,1079.7 L1149.2,1080 L1149.7,1081.2 L1150.2,1082.5 L1150.7,1081.4 L1151.2,1082.1 L1151.7,1079.7 L1152.2,1081.9 L1152.7,1080.8 L1153.2,1081.7 L1153.7,1079.6 L1154.2,1079.8 L1154.7,1081.6 L1155.2,1080.7 L1155.7,1080 L1156.2,1079 L1156.7,1079.7 L1157.2,1080.3 L1157.7,1080.5 L1158.2,1079 L1158.7,1079.2 L1159.2,1080 L1159.7,1078.2 L1160.2,1080.5 L1160.7,1079.4 L1161.2,1079.2 L1161.7,1076.5 L1162.2,1077.4 L1162.7,1078 L1163.2,1078.5 L1163.7,1077.8 L1164.2,1079.5 L1164.7,1079.1 L1165.2,1078.6 L1165.7,1076.5 L1166.2,1080.5 L1166.7,1078.5 L1167.2,1079.5 L1167.7,1078 L1168.2,1078.7 L1168.7,1079.5 L1169.2,1078.9 L1169.7,1079.7 L1170.2,1078.3 L1170.7,1080.8 L1171.2,1076.3 L1171.7,1077.8 L1172.2,1079.5 L1172.7,1078.1 L1173.2,1077.8 L1173.7,1076.2 L1174.2,1079.7 L1174.7,1076 L1175.2,1078.8 L1175.7,1078.4 L1176.2,1079.1 L1176.7,1079.8 L1177.2,1077.2 L1177.7,1077.1 L1178.2,1077.6 L1178.7,1075.9 L1179.2,1078.9 L1179.7,1077.4 L1180.2,1078.1 L1180.7,1076.5 L1181.2,1077.8 L1181.7,1077.1 L1182.2,1077.7 L1182.7,1076.4 L1183.2,1078.9 L1183.7,1076.9 L1184.2,1074.6 L1184.7,1078.4 L1185.2,1077.2 L1185.7,1076.5 L1186.2,1080.5 L1186.7,1077.4 L1187.2,1075.9 L1187.7,1076.7 L1188.2,1077.9 L1188.7,1077.1 L1189.2,1078.8 L1189.7,1078.6 L1190.2,1076.4 L1190.7,1077.4 L1191.2,1078 L1191.7,1076.8 L1192.2,1076.7 L1192.7,1078.3 L1193.2,1077.7 L1193.7,1075.6 L1194.2,1076.5 L1194.7,1076.7 L1195.2,1077 L1195.7,1076.3 L1196.2,1078.7 L1196.7,1075.9 L1197.2,1075.8 L1197.7,1077.3 L1198.2,1074.4 L1198.7,1075.8 L1199.2,1077.7 L1199.7,1075.4 L1200.2,1076 L1200.7,1078.2 L1201.2,1077.4 L1201.7,1077 L1202.2,1077.2 L1202.7,1076.1 L1203.2,1077.2 L1203.7,1076.6 L1204.2,1079.7 L1204.7,1077.4 L1205.2,1076.4 L1205.7,1076.7 L1206.2,1076.8 L1206.7,1075.1 L1207.2,1075.8 L1207.7,1078.5 L1208.2,1075.1 L1208.7,1076 L1209.2,1077.9 L1209.7,1078.4 L1210.2,1075.4 L1210.7,1078.3 L1211.2,1076.2 L1211.7,1078.5 L1212.2,1077.2 L1212.7,1076.2 L1213.2,1077.4 L1213.7,1077.2 L1214.2,1075.6 L1214.7,1079 L1215.2,1076.1 L1215.7,1077.8 L1216.2,1075.9 L1216.7,1074.3 L1217.2,1075.1 L1217.7,1076.3 L1218.2,1077.2 L1218.7,1078.5 L1219.2,1076.5 L1219.7,1076 L1220.2,1074.9 L1220.7,1076.3 L1221.2,1076.7 L1221.7,1073.7 L1222.2,1077.8 L1222.7,1077.6 L1223.2,1078.9 L1223.7,1075.2 L1224.2,1076.3 L1224.7,1076.3 L1225.2,1074.7 L1225.7,1075.2 L1226.2,1075 L1226.7,1076.8 L1227.2,1076.7 L1227.7,1077.7 L1228.2,1075.7 L1228.7,1074.5 L1229.2,1076.6 L1229.7,1076.5 L1230.2,1076.9 L1230.7,1077.5 L1231.2,1075.4 L1231.7,1077 L1232.2,1074.9 L1232.7,1076.2 L1233.2,1076.8 L1233.7,1075.9 L1234.2,1076.2 L1234.7,1074.3 L1235.2,1075.2 L1235.7,1076.1 L1236.2,1074.5 L1236.7,1074.9 L1237.2,1078.8 L1237.7,1076.2 L1238.2,1074.9 L1238.7,1074.7 L1239.2,1077.5 L1239.7,1072.6 L1240.2,1075.4 L1240.7,1076.5 L1241.2,1075.1 L1241.7,1076.3 L1242.2,1074.5 L1242.7,1075.7 L1243.2,1075.7 L1243.7,1075.7 L1244.2,1075.8 L1244.7,1075.7 L1245.2,1076.9 L1245.7,1075.3 L1246.2,1074.9 L1246.7,1075.2 L1247.2,1075.2 L1247.7,1073.8 L1248.2,1073.3 L1248.7,1073.9 L1249.2,1075.8 L1249.7,1074.7 L1250.2,1075 L1250.7,1078.8 L1251.2,1076.8 L1251.7,1075.2 L1252.2,1074.7 L1252.7,1077 L1253.2,1074.5 L1253.7,1076.8 L1254.2,1076.1 L1254.7,1077 L1255.2,1074.5 L1255.7,1076.4 L1256.2,1073.2 L1256.7,1075.1 L1257.2,1076.6 L1257.7,1076.1 L1258.2,1073.1 L1258.7,1076.1 L1259.2,1075.8 L1259.7,1075.2 L1260.2,1074.4 L1260.7,1074.9 L1261.2,1074.5 L1261.7,1076.3 L1262.2,1075.7 L1262.7,1076.4 L1263.2,1076 L1263.7,1073.7 L1264.2,1075.3 L1264.7,1077.6 L1265.2,1073.8 L1265.7,1075.4 L1266.2,1074.2 L1266.7,1074.1 L1267.2,1075.3 L1267.7,1076.1 L1268.2,1076 L1268.7,1075.6 L1269.2,1076.2 L1269.7,1073.1 L1270.2,1076 L1270.7,1075.5 L1271.2,1074.8 L1271.7,1075 L1272.2,1074 L1272.7,1076.3 L1273.2,1074.1 L1273.7,1073.2 L1274.2,1074.9 L1274.7,1074.2 L1275.2,1074.8 L1275.7,1076.7 L1276.2,1074.7 L1276.7,1075 L1277.2,1077.5 L1277.7,1073.2 L1278.2,1075.3 L1278.7,1076.2 L1279.2,1076.6 L1279.7,1077.5 L1280.2,1074 L1280.7,1075.5 L1281.2,1074.7 L1281.7,1074.2 L1282.2,1073.9 L1282.7,1073 L1283.2,1075.1 L1283.7,1075.6 L1284.2,1073.5 L1284.7,1075.6 L1285.2,1074.1 L1285.7,1073.5 L1286.2,1071.6 L1286.7,1076 L1287.2,1075.5 L1287.7,1074.3 L1288.2,1074.2 L1288.7,1073.1 L1289.2,1075.2 L1289.7,1074.5 L1290.2,1075.2 L1290.7,1074.8 L1291.2,1072.9 L1291.7,1072.8 L1292.2,1075.1 L1292.7,1072.6 L1293.2,1074.9 L1293.7,1075.6 L1294.2,1073 L1294.7,1075.3 L1295.2,1074.6 L1295.7,1075.2 L1296.2,1073.8 L1296.7,1074.5 L1297.2,1075 L1297.7,1076.7 L1298.2,1075.4 L1298.7,1075.1 L1299.2,1073 L1299.7,1074.9 L1300.2,1073.7 L1300.7,1074.4 L1301.2,1074.8 L1301.7,1075.6 L1302.2,1075.1 L1302.7,1074.7 L1303.2,1074.4 L1303.7,1076 L1304.2,1073.4 L1304.7,1074.5 L1305.2,1076 L1305.7,1074.2 L1306.2,1075.4 L1306.7,1075.4 L1307.2,1076.7 L1307.7,1075.7 L1308.2,1072.4 L1308.7,1074.3 L1309.2,1074.7 L1309.7,1075.3 L1310.2,1074.8 L1310.7,1076.5 L1311.2,1075.6 L1311.7,1072.9 L1312.2,1073.5 L1312.7,1071.8 L1313.2,1076.3 L1313.7,1074 L1314.2,1074 L1314.7,1072.3 L1315.2,1073.6 L1315.7,1074.6 L1316.2,1073.6 L1316.7,1073.6 L1317.2,1073.3 L1317.7,1076.4 L1318.2,1073.4 L1318.7,1072.3 L1319.2,1073.4 L1319.7,1073.6 L1320.2,1073.8 L1320.7,1073.7 L1321.2,1072.6 L1321.7,1073.7 L1322.2,1074.4 L1322.7,1072.2 L1323.2,1076.2 L1323.7,1075.9 L1324.2,1071.7 L1324.7,1073.4 L1325.2,1075 L1325.7,1075.4 L1326.2,1075.9 L1326.7,1071.6 L1327.2,1072.5 L1327.7,1073.2 L1328.2,1074.4 L1328.7,1072.5 L1329.2,1074.3 L1329.7,1074.3 L1330.2,1074.6 L1330.7,1072.2 L1331.2,1074 L1331.7,1073.8 L1332.2,1073.2 L1332.7,1075.3 L1333.2,1073.4 L1333.7,1075.4 L1334.2,1073 L1334.7,1075.7 L1335.2,1075.6 L1335.7,1072.7 L1336.2,1074.1 L1336.7,1074 L1337.2,1072.5 L1337.7,1074.6 L1338.2,1074.4 L1338.7,1072.6 L1339.2,1073.8 L1339.7,1074.7 L1340.2,1073.4 L1340.7,1072.8 L1341.2,1075.6 L1341.7,1072.5 L1342.2,1074 L1342.7,1074.9 L1343.2,1074.5 L1343.7,1071.4 L1344.2,1073.2 L1344.7,1073.4 L1345.2,1073.3 L1345.7,1074.3 L1346.2,1074.2 L1346.7,1073.7 L1347.2,1073.9 L1347.7,1074.8 L1348.2,1075 L1348.7,1071.3 L1349.2,1076.1 L1349.7,1072.9 L1350.2,1074.5 L1350.7,1071.6 L1351.2,1072.9 L1351.7,1072 L1352.2,1074.8 L1352.7,1074.6 L1353.2,1073.5 L1353.7,1073.3 L1354.2,1073.9 L1354.7,1072.4 L1355.2,1072.8 L1355.7,1072.6 L1356.2,1074.4 L1356.7,1073.5 L1357.2,1071.9 L1357.7,1073.8 L1358.2,1074.1 L1358.7,1075.1 L1359.2,1072.8 L1359.7,1073.9 L1360.2,1075.9 L1360.7,1073 L1361.2,1073 L1361.7,1074 L1362.2,1072.8 L1362.7,1073.4 L1363.2,1072.8 L1363.7,1072.4 L1364.2,1074.4 L1364.7,1072.9 L1365.2,1072.2 L1365.7,1073 L1366.2,1073.2 L1366.7,1073.7 L1367.2,1074.4 L1367.7,1075.4 L1368.2,1071.9 L1368.7,1073 L1369.2,1071.1 L1369.7,1073.6 L1370.2,1073.9 L1370.7,1072.5 L1371.2,1072.2 L1371.7,1072.1 L1372.2,1071.5 L1372.7,1074 L1373.2,1075.5 L1373.7,1071.9 L1374.2,1075.2 L1374.7,1073.1 L1375.2,1071.6 L1375.7,1073.9 L1376.2,1074.1 L1376.7,1073.7 L1377.2,1072.9 L1377.7,1075.2 L1378.2,1072.8 L1378.7,1073.9 L1379.2,1073.9 L1379.7,1072.1 L1380.2,1071 L1380.7,1071.1 L1381.2,1072.7 L1381.7,1073.6 L1382.2,1071 L1382.7,1072.3 L1383.2,1074.9 L1383.7,1071 L1384.2,1073.7 L1384.7,1073.5 L1385.2,1074 L1385.7,1071.3 L1386.2,1073.5 L1386.7,1071.4 L1387.2,1074.6 L1387.7,1072 L1388.2,1073.5 L1388.7,1072.1 L1389.2,1073.2 L1389.7,1071.2 L1390.2,1073.4 L1390.7,1073.7 L1391.2,1073 L1391.7,1074.9 L1392.2,1073.4 L1392.7,1073.9 L1393.2,1073.6 L1393.7,1075.2 L1394.2,1072.2 L1394.7,1072.6 L1395.2,1072.7 L1395.7,1073.7 L1396.2,1073.3 L1396.7,1073.9 L1397.2,1073.3 L1397.7,1072.3 L1398.2,1072.8 L1398.7,1073.4 L1399.2,1070.2 L1399.7,1074.6 L1400.2,1072.2 L1400.7,1072.5 L1401.2,1073.2 L1401.7,1072.6 L1402.2,1071.1 L1402.7,1072.6 L1403.2,1074.5 L1403.7,1074.1 L1404.2,1074.3 L1404.7,1072.2 L1405.2,1072.6 L1405.7,1074.1 L1406.2,1074.6 L1406.7,1072.9 L1407.2,1071.7 L1407.7,1070.5 L1408.2,1074.5 L1408.7,1071 L1409.2,1073.3 L1409.7,1073.9 L1410.2,1076.7 L1410.7,1073 L1411.2,1072.6 L1411.7,1073.3 L1412.2,1073.4 L1412.7,1074.4 L1413.2,1073.6 L1413.7,1071.8 L1414.2,1070.2 L1414.7,1073.1 L1415.2,1071.9 L1415.7,1074.4 L1416.2,1071.1 L1416.7,1072.9 L1417.2,1071.8 L1417.7,1071.6 L1418.2,1074.7 L1418.7,1072.9 L1419.2,1072.4 L1419.7,1073.5 L1420.2,1071.7 L1420.7,1072.2 L1421.2,1071.9 L1421.7,1075 L1422.2,1073 L1422.7,1073.4 L1423.2,1073.9 L1423.7,1072.4 L1424.2,1072.4 L1424.7,1070.6 L1425.2,1073.1 L1425.7,1072.9 L1426.2,1072 L1426.7,1074 L1427.2,1070.4 L1427.7,1073 L1428.2,1070.8 L1428.7,1071.1 L1429.2,1072.2 L1429.7,1074.1 L1430.2,1071 L1430.7,1071.2 L1431.2,1071 L1431.7,1074.9 L1432.2,1073 L1432.7,1072.9 L1433.2,1074.9 L1433.7,1072.7 L1434.2,1069.8 L1434.7,1071.8 L1435.2,1070.9 L1435.7,1074.8 L1436.2,1070.6 L1436.7,1072.7 L1437.2,1071.7 L1437.7,1071.8 L1438.2,1072.3 L1438.7,1072.1 L1439.2,1071.4 L1439.7,1070.8 L1440.2,1071.5 L1440.7,1071 L1441.2,1071.1 L1441.7,1072.4 L1442.2,1072 L1442.7,1072.8 L1443.2,1071.9 L1443.7,1074.5 L1444.2,1071.3 L1444.7,1071 L1445.2,1073.4 L1445.7,1071.3 L1446.2,1072.3 L1446.7,1073.3 L1447.2,1072 L1447.7,1071.7 L1448.2,1073.3 L1448.7,1072.5 L1449.2,1071.4 L1449.7,1070.6 L1450.2,1071.6 L1450.7,1070 L1451.2,1071 L1451.7,1070.7 L1452.2,1072.4 L1452.7,1072.9 L1453.2,1071.2 L1453.7,1071.5 L1454.2,1070.6 L1454.7,1070.3 L1455.2,1071.4 L1455.7,1072.6 L1456.2,1072.5 L1456.7,1072.6 L1457.2,1071.6 L1457.7,1068.6 L1458.2,1073 L1458.7,1073.5 L1459.2,1073 L1459.7,1073 L1460.2,1073.2 L1460.7,1075.1 L1461.2,1072.2 L1461.7,1073.7 L1462.2,1072.8 L1462.7,1072.7 L1463.2,1071.7 L1463.7,1071.4 L1464.2,1070.4 L1464.7,1072.5 L1465.2,1071.4 L1465.7,1070.3 L1466.2,1070.8 L1466.7,1070.3 L1467.2,1073.7 L1467.7,1071.4 L1468.2,1071.9 L1468.7,1070.3 L1469.2,1070.5 L1469.7,1073 L1470.2,1071.4 L1470.7,1072 L1471.2,1073.9 L1471.7,1074.2 L1472.2,1072.5 L1472.7,1072.2 L1473.2,1071.9 L1473.7,1071.3 L1474.2,1074.1 L1474.7,1070.1 L1475.2,1071.5 L1475.7,1069.3 L1476.2,1070.1 L1476.7,1072.1 L1477.2,1072.1 L1477.7,1072 L1478.2,1071.2 L1478.7,1070.7 L1479.2,1070.9 L1479.7,1071.1 L1480.2,1072.9 L1480.7,1073.3 L1481.2,1072 L1481.7,1070.8 L1482.2,1070.4 L1482.7,1071.9 L1483.2,1071.2 L1483.7,1069.2 L1484.2,1073.1 L1484.7,1071.4 L1485.2,1071.1 L1485.7,1070.4 L1486.2,1070.4 L1486.7,1072.5 L1487.2,1070.3 L1487.7,1071.5 L1488.2,1072.2 L1488.7,1073.6 L1489.2,1072.1 L1489.7,1071.3 L1490.2,1070.8 L1490.7,1072.4 L1491.2,1072.6 L1491.7,1070.8 L1492.2,1072 L1492.7,1071.1 L1493.2,1069.3 L1493.7,1070.1 L1494.2,1072.3 L1494.7,1073 L1495.2,1072.1 L1495.7,1071 L1496.2,1070.4 L1496.7,1071.9 L1497.2,1071.6 L1497.7,1069.3 L1498.2,1072 L1498.7,1070.4 L1499.2,1072 L1499.7,1071.9 L1500.2,1072.1 L1500.7,1072.5 L1501.2,1072 L1501.7,1069.9 L1502.2,1069.9 L1502.7,1072.4 L1503.2,1071.7 L1503.7,1069.2 L1504.2,1068.7 L1504.7,1072.2 L1505.2,1073.8 L1505.7,1072.1 L1506.2,1070.8 L1506.7,1071.4 L1507.2,1067.8 L1507.7,1069.9 L1508.2,1072.3 L1508.7,1072.1 L1509.2,1068.5 L1509.7,1072.5 L1510.2,1071.7 L1510.7,1072.2 L1511.2,1070.8 L1511.7,1071 L1512.2,1069.7 L1512.7,1071.4 L1513.2,1072.1 L1513.7,1069.9 L1514.2,1071.4 L1514.7,1070.3 L1515.2,1072.2 L1515.7,1072.2 L1516.2,1068.1 L1516.7,1071.5 L1517.2,1072.2 L1517.7,1070.3 L1518.2,1070.7 L1518.7,1070.7 L1519.2,1069.5 L1519.7,1070.8 L1520.2,1072.8 L1520.7,1071.5 L1521.2,1072.7 L1521.7,1072.1 L1522.2,1072.3 L1522.7,1071 L1523.2,1071.8 L1523.7,1073.3 L1524.2,1072.6 L1524.7,1071.2 L1525.2,1070 L1525.7,1069.7 L1526.2,1071.1 L1526.7,1071.4 L1527.2,1068.6 L1527.7,1071.1 L1528.2,1071.2 L1528.7,1071.2 L1529.2,1070.1 L1529.7,1073.6 L1530.2,1071.8 L1530.7,1069.1 L1531.2,1069.9 L1531.7,1071.7 L1532.2,1071.4 L1532.7,1070.9 L1533.2,1070.7 L1533.7,1070.5 L1534.2,1070.2 L1534.7,1069.5 L1535.2,1071.4 L1535.7,1067.3 L1536.2,1069.8 L1536.7,1072.2 L1537.2,1069.7 L1537.7,1069.2 L1538.2,1072.9 L1538.7,1071.9 L1539.2,1070.4 L1539.7,1069.9 L1540.2,1070.3 L1540.7,1070.2 L1541.2,1070.3 L1541.7,1069.7 L1542.2,1071.2 L1542.7,1069.9 L1543.2,1068.3 L1543.7,1069 L1544.2,1070.5 L1544.7,1069.3 L1545.2,1067.5 L1545.7,1072.3 L1546.2,1071.1 L1546.7,1069.9 L1547.2,1069.8 L1547.7,1071.1 L1548.2,1072.1 L1548.7,1069.7 L1549.2,1070.9 L1549.7,1069.7 L1550.2,1070.8 L1550.7,1069 L1551.2,1068.2 L1551.7,1070.5 L1552.2,1070.3 L1552.7,1071.3 L1553.2,1069.6 L1553.7,1072 L1554.2,1070.5 L1554.7,1072.2 L1555.2,1070 L1555.7,1072.2 L1556.2,1070.3 L1556.7,1070.5 L1557.2,1071.5 L1557.7,1068.2 L1558.2,1069 L1558.7,1072.5 L1559.2,1068.5 L1559.7,1069.7 L1560.2,1071 L1560.7,1072.1 L1561.2,1069.7 L1561.7,1070.4 L1562.2,1068.9 L1562.7,1069.8 L1563.2,1071.5 L1563.7,1070.7 L1564.2,1070.2 L1564.7,1070.8 L1565.2,1070.4 L1565.7,1070.5 L1566.2,1069.8 L1566.7,1069.1 L1567.2,1071.1 L1567.7,1068.8 L1568.2,1071.5 L1568.7,1072.8 L1569.2,1072.1 L1569.7,1073 L1570.2,1069 L1570.7,1070.5 L1571.2,1069.2 L1571.7,1069.3 L1572.2,1068.1 L1572.7,1068.7 L1573.2,1071.2 L1573.7,1071 L1574.2,1071.6 L1574.7,1071.6 L1575.2,1071.1 L1575.7,1069.2 L1576.2,1070 L1576.7,1071.1 L1577.2,1071.7 L1577.7,1069.7 L1578.2,1069.6 L1578.7,1069.6 L1579.2,1072.1 L1579.7,1070.8 L1580.2,1069.8 L1580.7,1069.2 L1581.2,1070.7 L1581.7,1068.1 L1582.2,1069.9 L1582.7,1069.5 L1583.2,1069.4 L1583.7,1070.4 L1584.2,1070.6 L1584.7,1073.8 L1585.2,1070.3 L1585.7,1071 L1586.2,1069.2 L1586.7,1068.1 L1587.2,1071.5 L1587.7,1072.5 L1588.2,1068.9 L1588.7,1070 L1589.2,1071.4 L1589.7,1070.2 L1590.2,1067.2 L1590.7,1071.3 L1591.2,1069.9 L1591.7,1071 L1592.2,1068.9 L1592.7,1071.1 L1593.2,1071.3 L1593.7,1069.2 L1594.2,1070.7 L1594.7,1069.3 L1595.2,1069.5 L1595.7,1069 L1596.2,1069.5 L1596.7,1069.2 L1597.2,1071.5 L1597.7,1069.8 L1598.2,1068.7 L1598.7,1071.7 L1599.2,1070.7 L1599.7,1071.2 L1600.2,1069.9 L1600.7,1070.9 L1601.2,1069.9 L1601.7,1068.9 L1602.2,1070.1 L1602.7,1070.2 L1603.2,1070.2 L1603.7,1071 L1604.2,1067.9 L1604.7,1070.4 L1605.2,1069 L1605.7,1069.7 L1606.2,1070.5 L1606.7,1070.1 L1607.2,1069.2 L1607.7,1070.9 L1608.2,1069.9 L1608.7,1071.1 L1609.2,1071.5 L1609.7,1069.6 L1610.2,1068.7 L1610.7,1070.1 L1611.2,1071 L1611.7,1070.4 L1612.2,1068.6 L1612.7,1067.9 L1613.2,1068.8 L1613.7,1068.8 L1614.2,1070.7 L1614.7,1070 L1615.2,1071 L1615.7,1069.9 L1616.2,1072 L1616.7,1070 L1617.2,1070.6 L1617.7,1069.5 L1618.2,1070.5 L1618.7,1071.2 L1619.2,1070.9 L1619.7,1071.5 L1620.2,1069.2 L1620.7,1070.5 L1621.2,1072 L1621.7,1070.2 L1622.2,1069.7 L1622.7,1069.7 L1623.2,1069.3 L1623.7,1070.1 L1624.2,1071.6 L1624.7,1070.5 L1625.2,1069.9 L1625.7,1069 L1626.2,1068.6 L1626.7,1072.8 L1627.2,1069.4 L1627.7,1070 L1628.2,1069.3 L1628.7,1070.1 L1629.2,1069.4 L1629.7,1070 L1630.2,1071.6 L1630.7,1069 L1631.2,1070.5 L1631.7,1069.8 L1632.2,1070.7 L1632.7,1069.1 L1633.2,1070.3 L1633.7,1068.7 L1634.2,1067.7 L1634.7,1068.3 L1635.2,1068.7 L1635.7,1068.5 L1636.2,1069.4 L1636.7,1071.1 L1637.2,1068.5 L1637.7,1070.3 L1638.2,1070 L1638.7,1069 L1639.2,1068.7 L1639.7,1070.3 L1640.2,1070.3 L1640.7,1069.4 L1641.2,1069.6 L1641.7,1069.8 L1642.2,1068.2 L1642.7,1069.9 L1643.2,1070.1 L1643.7,1071.8 L1644.2,1068.3 L1644.7,1068.7 L1645.2,1069.9 L1645.7,1069.1 L1646.2,1069.3 L1646.7,1069.8 L1647.2,1069.4 L1647.7,1069.7 L1648.2,1070.3 L1648.7,1067.8 L1649.2,1070.4 L1649.7,1067.1 L1650.2,1071.7 L1650.7,1070.8 L1651.2,1069 L1651.7,1070.9 L1652.2,1069.6 L1652.7,1070.2 L1653.2,1070.6 L1653.7,1070.1 L1654.2,1069.7 L1654.7,1070.5 L1655.2,1069.5 L1655.7,1069.3 L1656.2,1068.6 L1656.7,1067.6 L1657.2,1071.6 L1657.7,1070.6 L1658.2,1068.1 L1658.7,1070.2 L1659.2,1070 L1659.7,1067.1 L1660.2,1068.7 L1660.7,1069.6 L1661.2,1071.7 L1661.7,1071 L1662.2,1071.2 L1662.7,1070.1 L1663.2,1070.9 L1663.7,1068.3 L1664.2,1070.4 L1664.7,1070.6 L1665.2,1068.2 L1665.7,1070 L1666.2,1071.5 L1666.7,1072 L1667.2,1071.4 L1667.7,1068.9 L1668.2,1069.6 L1668.7,1069.1 L1669.2,1071.2 L1669.7,1068.7 L1670.2,1068.5 L1670.7,1067.8 L1671.2,1070 L1671.7,1070.2 L1672.2,1069 L1672.7,1068.8 L1673.2,1069.5 L1673.7,1071.3 L1674.2,1068.1 L1674.7,1069.7 L1675.2,1070 L1675.7,1070.2 L1676.2,1071.2 L1676.7,1070.7 L1677.2,1070 L1677.7,1071.4 L1678.2,1071.1 L1678.7,1070.1 L1679.2,1070 L1679.7,1068.3 L1680.2,1069.9 L1680.7,1068.8 L1681.2,1068.4 L1681.7,1069.4 L1682.2,1067.7 L1682.7,1068.7 L1683.2,1069.1 L1683.7,1070.1 L1684.2,1069.3 L1684.7,1070.1 L1685.2,1071.5 L1685.7,1070.6 L1686.2,1068.3 L1686.7,1067.6 L1687.2,1068.6 L1687.7,1068.6 L1688.2,1067.3 L1688.7,1067.6 L1689.2,1067.6 L1689.7,1068.9 L1690.2,1071.3 L1690.7,1071.6 L1691.2,1068.4 L1691.7,1069.1 L1692.2,1068 L1692.7,1067.7 L1693.2,1069.5 L1693.7,1069.6 L1694.2,1068.8 L1694.7,1070.3 L1695.2,1069.1 L1695.7,1070.8 L1696.2,1068.9 L1696.7,1070.5 L1697.2,1069.3 L1697.7,1069.7 L1698.2,1070.2 L1698.7,1067.9 L1699.2,1068.6 L1699.7,1069.4 L1700.2,1069.2 L1700.7,1069.8 L1701.2,1068.5 L1701.7,1067.9 L1702.2,1069.4 L1702.7,1069.8 L1703.2,1068.5 L1703.7,1070.9 L1704.2,1070.3 L1704.7,1070.5 L1705.2,1070.4 L1705.7,1068.5 L1706.2,1072 L1706.7,1068.7 L1707.2,1070 L1707.7,1070.4 L1708.2,1069.9 L1708.7,1069.8 L1709.2,1068.6 L1709.7,1069.1 L1710.2,1069.6 L1710.7,1071.1 L1711.2,1068.8 L1711.7,1070.4 L1712.2,1070.1 L1712.7,1069.7 L1713.2,1068.9 L1713.7,1069.4 L1714.2,1067.6 L1714.7,1069.7 L1715.2,1070 L1715.7,1069 L1716.2,1070.2 L1716.7,1070 L1717.2,1068.8 L1717.7,1070.6 L1718.2,1069 L1718.7,1072.5 L1719.2,1068.4 L1719.7,1068.7 L1720.2,1068.9 L1720.7,1069.9 L1721.2,1071 L1721.7,1069.7 L1722.2,1069.2 L1722.7,1071.9 L1723.2,1070.8 L1723.7,1069.3 L1724.2,1069.5 L1724.7,1067.8 L1725.2,1069.7 L1725.7,1071.6 L1726.2,1068.2 L1726.7,1067.9 L1727.2,1069.8 L1727.7,1066.8 L1728.2,1071.2 L1728.7,1067.8 L1729.2,1068.7 L1729.7,1069.4 L1730.2,1071 L1730.7,1070 L1731.2,1067.3 L1731.7,1067.6 L1732.2,1069.8 L1732.7,1067.1 L1733.2,1069.2 L1733.7,1068.5 L1734.2,1070.4 L1734.7,1070.9 L1735.2,1066.5 L1735.7,1070 L1736.2,1070.2 L1736.7,1068.6 L1737.2,1068.8 L1737.7,1068.1 L1738.2,1069 L1738.7,1069.9 L1739.2,1071 L1739.7,1071.1 L1740.2,1069.1 L1740.7,1068.5 L1741.2,1070.6 L1741.7,1066.2 L1742.2,1067.8 L1742.7,1070.2 L1743.2,1072 L1743.7,1068.5 L1744.2,1069.5 L1744.7,1068.1 L1745.2,1069.3 L1745.7,1069.3 L1746.2,1068.5 L1746.7,1069.9 L1747.2,1069.2 L1747.7,1070 L1748.2,1069.2 L1748.7,1068 L1749.2,1069.6 L1749.7,1070.4 L1750.2,1068.5 L1750.7,1071 L1751.2,1069.9 L1751.7,1069 L1752.2,1069.5 L1752.7,1068.9 L1753.2,1068.4 L1753.7,1070.5 L1754.2,1070.5 L1754.7,1068.9 L1755.2,1069.2 L1755.7,1069.2 L1756.2,1070.2 L1756.7,1071.1 L1757.2,1068.6 L1757.7,1069.8 L1758.2,1069.4 L1758.7,1070.1 L1759.2,1071.1 L1759.7,1068.4 L1760.2,1067 L1760.7,1069.2 L1761.2,1067.5 L1761.7,1071.4 L1762.2,1068.6 L1762.7,1069.1 L1763.2,1069.7 L1763.7,1069.7 L1764.2,1068.9 L1764.7,1069.4 L1765.2,1070.5 L1765.7,1069.1 L1766.2,1071.6 L1766.7,1069.8 L1767.2,1066.7 L1767.7,1070.5 L1768.2,1067.4 L1768.7,1069.8 L1769.2,1072.1 L1769.7,1070.7 L1770.2,1068.1 L1770.7,1068.5 L1771.2,1069.4 L1771.7,1071.1 L1772.2,1068.6 L1772.7,1070.7 L1773.2,1069.8 L1773.7,1069.3 L1774.2,1069.2 L1774.7,1071.4 L1775.2,1067.7 L1775.7,1068.1 L1776.2,1070.5 L1776.7,1070.6 L1777.2,1067.9 L1777.7,1068.3 L1778.2,1068.1 L1778.7,1070.1 L1779.2,1068.6 L1779.7,1071.1 L1780.2,1070.3 L1780.7,1069.7 L1781.2,1069.7 L1781.7,1070.1 L1782.2,1070.4 L1782.7,1069.4 L1783.2,1069.7 L1783.7,1070.3 L1784.2,1069.3 L1784.7,1070.6 L1785.2,1069.2 L1785.7,1068.5 L1786.2,1069.6 L1786.7,1071.3 L1787.2,1071.2 L1787.7,1067.5 L1788.2,1069.8 L1788.7,1068.8 L1789.2,1069 L1789.7,1069 L1790.2,1069.1 L1790.7,1068.8 L1791.2,1069.1 L1791.7,1069.7 L1792.2,1068 L1792.7,1067.9 L1793.2,1068.1 L1793.7,1068.1 L1794.2,1070.1 L1794.7,1068.1 L1795.2,1069.3 L1795.7,1069.5 L1796.2,1070.2 L1796.7,1069.4 L1797.2,1070.6 L1797.7,1069.3 L1798.2,1069.7 L1798.7,1070.3 L1799.2,1067.7 L1799.7,1069.9 L1800.2,1071.2 L1800.7,1069.5 L1801.2,1069.1 L1801.7,1071.6 L1802.2,1069.5 L1802.7,1070.9 L1803.2,1066.6 L1803.7,1069.5 L1804.2,1068.8 L1804.7,1069.9 L1805.2,1070.8 L1805.7,1069.2 L1806.2,1069.2 L1806.7,1066.1 L1807.2,1070.3 L1807.7,1071 L1808.2,1069.6 L1808.7,1068.9 L1809.2,1069.9 L1809.7,1070.6 L1810.2,1070.2 L1810.7,1071.9 L1811.2,1068.8 L1811.7,1067.8 L1812.2,1070 L1812.7,1070.9 L1813.2,1068.9 L1813.7,1069.4 L1814.2,1068.7 L1814.7,1068 L1815.2,1068.6 L1815.7,1067 L1816.2,1069.8 L1816.7,1070 L1817.2,1070.5 L1817.7,1068.5 L1818.2,1068.7 L1818.7,1067.5 L1819.2,1067.7 L1819.7,1070.5 L1820.2,1072.8 L1820.7,1068.2 L1821.2,1069 L1821.7,1070.6 L1822.2,1068.6 L1822.7,1070.1 L1823.2,1069.1 L1823.7,1069.1 L1824.2,1070.5 L1824.7,1069.2 L1825.2,1068 L1825.7,1070.4 L1826.2,1069.5 L1826.7,1068.8 L1827.2,1068.5 L1827.7,1070.2 L1828.2,1068.7 L1828.7,1069.6 L1829.2,1070.7 L1829.7,1069.4 L1830.2,1070.8 L1830.7,1067.9 L1831.2,1070.2 L1831.7,1070.1 L1832.2,1071.7 L1832.7,1069.5 L1833.2,1070.6 L1833.7,1069.3 L1834.2,1068.3 L1834.7,1068.5 L1835.2,1068.7 L1835.7,1070.4 L1836.2,1068.6 L1836.7,1069.6 L1837.2,1070.6 L1837.7,1071 L1838.2,1070.6 L1838.7,1071.3 L1839.2,1068.2 L1839.7,1069 L1840.2,1069.9 L1840.7,1070.9 L1841.2,1070.2 L1841.7,1068.7 L1842.2,1069.4 L1842.7,1067.6 L1843.2,1070.5 L1843.7,1067.5 L1844.2,1069.8 L1844.7,1070.9 L1845.2,1070.7 L1845.7,1067.7 L1846.2,1069.8 L1846.7,1069.2 L1847.2,1069.3 L1847.7,1071.5 L1848.2,1069.9 L1848.7,1067.9 L1849.2,1068.4 L1849.7,1070.5 L1850.2,1069.9 L1850.7,1068.3 L1851.2,1067.7 L1851.7,1069 L1852.2,1069.1 L1852.7,1070.6 L1853.2,1068.9 L1853.7,1070.4 L1854.2,1071.1 L1854.7,1067.8 L1855.2,1069 L1855.7,1071.5 L1856.2,1069.1 L1856.7,1069.6 L1857.2,1070.8 L1857.7,1068.8 L1858.2,1069.2 L1858.7,1067.7 L1859.2,1070.3 L1859.7,1069.1 L1860.2,1069.2 L1860.7,1066.6 L1861.2,1070.8 L1861.7,1070.5 L1862.2,1068.7 L1862.7,1071.1 L1863.2,1066.8 L1863.7,1069.6 L1864.2,1067.7 L1864.7,1072.9 L1865.2,1066.6 L1865.7,1068.2 L1866.2,1068.8 L1866.7,1070.6 L1867.2,1070.6 L1867.7,1070.1 L1868.2,1069.4 L1868.7,1072.2 L1869.2,1068.8 L1869.7,1070 L1870.2,1071.7 L1870.7,1068.2 L1871.2,1068.7 L1871.7,1071 L1872.2,1070.2 L1872.7,1068.2 L1873.2,1069.7 L1873.7,1072 L1874.2,1069.4 L1874.7,1070.7 L1875.2,1069.9 L1875.7,1068.9 L1876.2,1071.6 L1876.7,1070.9 L1877.2,1071.1 L1877.7,1069.6 L1878.2,1069.9 L1878.7,1070 L1879.2,1070.3 L1879.7,1069.3 L1880.2,1069.2 L1880.7,1071.3 L1881.2,1068.5 L1881.7,1069.2 L1882.2,1069.3 L1882.7,1069.2 L1883.2,1068.3 L1883.7,1068.9 L1884.2,1070.7 L1884.7,1069.3 L1885.2,1068.9 L1885.7,1071.7 L1886.2,1068.2 L1886.7,1071 L1887.2,1070.2 L1887.7,1068.2 L1888.2,1069.3 L1888.7,1069.3 L1889.2,1071.3 L1889.7,1070.9 L1890.2,1069.5 L1890.7,1068.4 L1891.2,1067.8 L1891.7,1069.6 L1892.2,1068.2 L1892.7,1069.6 L1893.2,1069.6 L1893.7,1070.3 L1894.2,1071 L1894.7,1070 L1895.2,1070.4 L1895.7,1069.7 L1896.2,1071.1 L1896.7,1070.8 L1897.2,1071.7 L1897.7,1071.5 L1898.2,1069 L1898.7,1068.2 L1899.2,1070.6 L1899.7,1071.2 L1900.2,1069.1 L1900.7,1071.7 L1901.2,1070 L1901.7,1069.8 L1902.2,1070.3 L1902.7,1068.3 L1903.2,1068 L1903.7,1069.5 L1904.2,1068.5 L1904.7,1069.9 L1905.2,1069.9 L1905.7,1066.9 L1906.2,1069 L1906.7,1070.5 L1907.2,1067.2 L1907.7,1069.5 L1908.2,1068.3 L1908.7,1067.6 L1909.2,1071.2 L1909.7,1071.2 L1910.2,1069.5 L1910.7,1069.4 L1911.2,1071.6 L1911.7,1071.4 L1912.2,1070 L1912.7,1071 L1913.2,1070.1 L1913.7,1069.6 L1914.2,1070.7 L1914.7,1069.5 L1915.2,1070.7 L1915.7,1069.7 L1916.2,1069.5 L1916.7,1069.3 L1917.2,1070.5 L1917.7,1071.1 L1918.2,1070.5 L1918.7,1069 L1919.2,1070.8 L1919.7,1069 L1920.2,1068.7 L1920.7,1069.8 L1921.2,1071 L1921.7,1070.9 L1922.2,1070.7 L1922.7,1071.7 L1923.2,1071.1 L1923.7,1069.7 L1924.2,1071 L1924.7,1069.8 L1925.2,1070.6 L1925.7,1070.8 L1926.2,1070.1 L1926.7,1068.4 L1927.2,1070 L1927.7,1069.8 L1928.2,1070.1 L1928.7,1069.7 L1929.2,1068.9 L1929.7,1068.3 L1930.2,1071 L1930.7,1071.2 L1931.2,1070.7 L1931.7,1070.2 L1932.2,1072.5 L1932.7,1071 L1933.2,1070.3 L1933.7,1071.3 L1934.2,1070.2 L1934.7,1071.1 L1935.2,1070.6 L1935.7,1071 L1936.2,1070.4 L1936.7,1069.8 L1937.2,1070.9 L1937.7,1071.7 L1938.2,1069.3 L1938.7,1069.8 L1939.2,1069.1 L1939.7,1071.4 L1940.2,1070.2 L1940.7,1071.5 L1941.2,1069.5 L1941.7,1071.4 L1942.2,1069.8 L1942.7,1069.9 L1943.2,1071.1 L1943.7,1070 L1944.2,1069.8 L1944.7,1071.5 L1945.2,1070.4 L1945.7,1071.9 L1946.2,1073.4 L1946.7,1069.9 L1947.2,1070.1 L1947.7,1068.8 L1948.2,1069.2 L1948.7,1071.2 L1949.2,1070.9 L1949.7,1070.9 L1950.2,1071.1 L1950.7,1069.6 L1951.2,1068.6 L1951.7,1071.8 L1952.2,1070.9 L1952.7,1071.9 L1953.2,1070.6 L1953.7,1071.5 L1954.2,1070 L1954.7,1070.6 L1955.2,1070.5 L1955.7,1071.1 L1956.2,1072.3 L1956.7,1071.4 L1957.2,1067.3 L1957.7,1070.6 L1958.2,1070.7 L1958.7,1071.6 L1959.2,1070.9 L1959.7,1069.9 L1960.2,1069.8 L1960.7,1070.3 L1961.2,1069.9 L1961.7,1072.4 L1962.2,1071.5 L1962.7,1070.8" fill="none" stroke="#0000FF" stroke-width="6.5" stroke-linejoin="round" stroke-linecap="round"/>
<path d="M30.7,1445.1 L31.7,1445.1 L32.7,1445.1 L33.7,1445.1 L34.7,1445.1 L35.7,1445.1 L36.7,1445.1 L37.7,1445.1 L38.7,1445.1 L39.7,1445.1 L40.7,1445.1 L41.7,1445.1 L42.7,1445.1 L43.7,1445.1 L44.7,1445.1 L45.7,1445.1 L46.7,1445.1 L47.7,1445.1 L48.7,1445.1 L49.7,1445.1 L50.7,1445.1 L51.7,1445.1 L52.7,1445.1 L53.7,1445.1 L54.7,1445.1 L55.7,1445.1 L56.7,1445.1 L57.7,1445.1 L58.7,1445.1 L59.7,1445.1 L60.7,1445.1 L61.7,1445.1 L62.7,1445.1 L63.7,1445.1 L64.7,1445.1 L65.7,1445.1 L66.7,1445.1 L67.7,1445.1 L68.7,1445.1 L69.7,1445.1 L70.7,1445.1 L71.7,1445.1 L72.7,1445.1 L73.7,1445.1 L74.7,1445.1 L75.7,1445.1 L76.7,1445.1 L77.7,1445.1 L78.7,1445.1 L79.7,1445.1 L80.7,1445.1 L81.7,1445.1 L82.7,1445.1 L83.7,1445.1 L84.7,1445.1 L85.7,1445.1 L86.7,1445.1 L87.7,1445.1 L88.7,1445.1 L89.7,1445.1 L90.7,1445.1 L91.7,1445.1 L92.7,1445.1 L93.7,1445.1 L94.7,1445.1 L95.7,1445.1 L96.7,1445.1 L97.7,1445.1 L98.7,1445.1 L99.7,1445.1 L100.7,1445.1 L101.7,1445.1 L102.7,1445.1 L103.7,1445.1 L104.7,1445.1 L105.7,1445.1 L106.7,1445.1 L107.7,1445.1 L108.7,1445.1 L109.7,1445.1 L110.7,1445.1 L111.7,1445.1 L112.7,1445.1 L113.7,1445.1 L114.7,1445.1 L115.7,1445.1 L116.7,1445.1 L117.7,1445.1 L118.7,1445.1 L119.7,1445.1 L120.7,1445.1 L121.7,1445.1 L122.7,1445.1 L123.7,1445.1 L124.7,1445.1 L125.7,1445.1 L126.7,1445.1 L127.7,1445.1 L128.7,1445.1 L129.7,1445.1 L130.7,1445.1 L131.7,1445.1 L132.7,1445.1 L133.7,1445.1 L134.7,1445.1 L135.7,1445.1 L136.7,1445.1 L137.7,1445.1 L138.7,1445.1 L139.7,1445.1 L140.7,1445.1 L141.7,1445.1 L142.7,1445.1 L143.7,1445.1 L144.7,1445.1 L145.7,1445.1 L146.7,1445.1 L147.7,1445.1 L148.7,1445.1 L149.7,1445.1 L150.7,1445.1 L151.7,1445.1 L152.7,1445.1 L153.7,1445.1 L154.7,1445.1 L155.7,1445.1 L156.7,1445.1 L157.7,1445.1 L158.7,1445.1 L159.7,1445.1 L160.7,1445.1 L161.7,1445.1 L162.7,1445.1 L163.7,1445.1 L164.7,1445.1 L165.7,1445.1 L166.7,1445.1 L167.7,1445.1 L168.7,1445.1 L169.7,1445.1 L170.7,1445.1 L171.7,1445.1 L172.7,1445.1 L173.7,1445.1 L174.7,1445.1 L175.7,1445.1 L176.7,1445.1 L177.7,1445.1 L178.7,1445.1 L179.7,1445.1 L180.7,1445.1 L181.7,1445.1 L182.7,1445.1 L183.7,1445.1 L184.7,1445.1 L185.7,1445.1 L186.7,1445.1 L187.7,1445.1 L188.7,1445.1 L189.7,1445.1 L190.7,1445.1 L191.7,1445.1 L192.7,1445.1 L193.7,1445.1 L194.7,1445.1 L195.7,1445.1 L196.7,1445.1 L197.7,1445.1 L198.7,1445.1 L199.7,1445.1 L200.7,1445.1 L201.7,1445.1 L202.7,1445.1 L203.7,1445.1 L204.7,1445.1 L205.7,1445.1 L206.7,1445.1 L207.7,1445.1 L208.7,1445.1 L209.7,1445.1 L210.7,1445.1 L211.7,1445.1 L212.7,1445.1 L213.7,1445.1 L214.7,1445.1 L215.7,1445.1 L216.7,1445.1 L217.7,1445.1 L218.7,1445.1 L219.7,1445.1 L220.7,1445.1 L221.7,1445.1 L222.7,1445.1 L223.7,1445.1 L224.7,1445.1 L225.7,1445.1 L226.7,1445.1 L227.7,1445.1 L228.7,1445.1 L229.7,1445.1 L230.7,1445.1 L231.7,1445.1 L232.7,1445.1 L233.7,1445.1 L234.7,1445.1 L235.7,1445.1 L236.7,1445.1 L237.7,1445.1 L238.7,1445.1 L239.7,1445.1 L240.7,1445.1 L241.7,1445.1 L242.7,1445.1 L243.7,1445.1 L244.7,1445.1 L245.7,1445.1 L246.7,1445.1 L247.7,1445.1 L248.7,1445.1 L249.7,1445.1 L250.7,1445.1 L251.7,1445.1 L252.7,1445.1 L253.7,1445.1 L254.7,1445.1 L255.7,1445.1 L256.7,1445.1 L257.7,1445.1 L258.7,1445.1 L259.7,1445.1 L260.7,1445.1 L261.7,1445.1 L262.7,1445.1 L263.7,1445.1 L264.7,1445.1 L265.7,1445.1 L266.7,1445.1 L267.7,1445.1 L268.7,1445.1 L269.7,1445.1 L270.7,1445.1 L271.7,1445.1 L272.7,1445.1 L273.7,1445.1 L274.7,1445.1 L275.7,1445.1 L276.7,1445.1 L277.7,1445.1 L278.7,1445.1 L279.7,1445.1 L280.7,1445.1 L281.7,1445.1 L282.7,1445.1 L283.7,1445.1 L284.7,1445.1 L285.7,1445.1 L286.7,1445.1 L287.7,1445.1 L288.7,1445.1 L289.7,1445.1 L290.7,1445.1 L291.7,1445.1 L292.7,1445.1 L293.7,1445.1 L294.7,1445.1 L295.7,1445.1 L296.7,1445.1 L297.7,1445.1 L298.7,1445.1 L299.7,1445.1 L300.7,1445.1 L301.7,1445.1 L302.7,1445.1 L303.7,1445.1 L304.7,1445.1 L305.7,1445.1 L306.7,1445.1 L307.7,1445.1 L308.7,1445.1 L309.7,1445.1 L310.7,1445.1 L311.7,1445.1 L312.7,1445.1 L313.7,1445.1 L314.7,1445.1 L315.7,1445.1 L316.7,1445.1 L317.7,1445.1 L318.7,1445.1 L319.7,1445.1 L320.7,1445.1 L321.7,1445.1 L322.7,1445.1 L323.7,1445.1 L324.7,1445.1 L325.7,1445.1 L326.7,1445.1 L327.7,1445.1 L328.7,1445.1 L329.7,1445.1 L330.7,1445.1 L331.7,1445.1 L332.7,1445.1 L333.7,1445.1 L334.7,1445.1 L335.7,1445.1 L336.7,1445.1 L337.7,1445.1 L338.7,1445.1 L339.7,1445.1 L340.7,1445.1 L341.7,1445.1 L342.7,1445.1 L343.7,1445.1 L344.7,1445.1 L345.7,1445.1 L346.7,1445.1 L347.7,1445.1 L348.7,1445.1 L349.7,1445.1 L350.7,1445.1 L351.7,1445.1 L352.7,1445.1 L353.7,1445.1 L354.7,1445.1 L355.7,1445.1 L356.7,1445.1 L357.7,1445.1 L358.7,1445.1 L359.7,1445.1 L360.7,1445.1 L361.7,1445.1 L362.7,1445.1 L363.7,1445.1 L364.7,1445.1 L365.7,1445.1 L366.7,1445.1 L367.7,1445.1 L368.7,1445.1 L369.7,1445.1 L370.7,1445.1 L371.7,1445.1 L372.7,1445.1 L373.7,1445.1 L374.7,1445.1 L375.7,1445.1 L376.7,1445.1 L377.7,1445.1 L378.7,1445.1 L379.7,1445.1 L380.7,1445.1 L381.7,1445.1 L382.7,1445.1 L383.7,1445.1 L384.7,1445.1 L385.7,1445.1 L386.7,1445.1 L387.7,1445.1 L388.7,1445.1 L389.7,1445.1 L390.7,1445.1 L391.7,1445.1 L392.7,1445.1 L393.7,1445.1 L394.7,1445.1 L395.7,1445.1 L396.7,1445.1 L397.7,1445.1 L398.7,1445.1 L399.7,1445.1 L400.7,1445.1 L401.7,1445.1 L402.7,1445.1 L403.7,1445.1 L404.7,1445.1 L405.7,1445.1 L406.7,1445.1 L407.7,1445.1 L408.7,1445.1 L409.7,1445.1 L410.7,1445.1 L411.7,1445.1 L412.7,1445.1 L413.7,1445.1 L414.7,1445.1 L415.7,1445.1 L416.7,1445.1 L417.7,1445.1 L418.7,1445.1 L419.7,1445.1 L420.7,1445.1 L421.7,1445.1 L422.7,1445.1 L423.7,1445.1 L424.7,1445.1 L425.7,1445.1 L426.7,1445.1 L427.7,1445.1 L428.7,1445.1 L429.7,1445.1 L430.7,1445.1 L431.7,1445.1 L432.7,1445.1 L433.7,1445.1 L434.7,1445.1 L435.7,1445.1 L436.7,1445.1 L437.7,1445.1 L438.7,1445.1 L439.7,1445.1 L440.7,1445.1 L441.7,1445.1 L442.7,1445.1 L443.7,1445.1 L444.7,1445.1 L445.7,1445.1 L446.7,1445.1 L447.7,1445.1 L448.7,1445.1 L449.7,1445.1 L450.7,1445.1 L451.7,1445.1 L452.7,1445.1 L453.7,1445.1 L454.7,1445.1 L455.7,1445.1 L456.7,1445.1 L457.7,1445.1 L458.7,1445.1 L459.7,1445.1 L460.7,1445.1 L461.7,1445.1 L462.7,1445.1 L463.7,1445.1 L464.7,1445.1 L465.7,1445.1 L466.7,1445.1 L467.7,1445.1 L468.7,1445.1 L469.7,1445.1 L470.7,1445.1 L471.7,1445.1 L472.7,1445.1 L473.7,1445.1 L474.7,1445.1 L475.7,1445.1 L476.7,1445.1 L477.7,1445.1 L478.7,1445.1 L479.7,1445.1 L480.7,1445.1 L481.7,1445.1 L482.7,1445.1 L483.7,1445.1 L484.7,1445.1 L485.7,1445.1 L486.7,1445.1 L487.7,1445.1 L488.7,1445.1 L489.7,1445.1 L490.7,1445.1 L491.7,1445.1 L492.7,1445.1 L493.7,1445.1 L494.7,1445.1 L495.7,1445.1 L496.7,1445.1 L497.7,1445.1 L498.7,1445.1 L499.7,1445.1 L500.7,1445.1 L501.7,1445.1 L502.7,1445.1 L503.7,1445.1 L504.7,1445.1 L505.7,1445.1 L506.7,1445.1 L507.7,1445.1 L508.7,1445.1 L509.7,1445.1 L510.7,1445.1 L511.7,1445.1 L512.7,1445.1 L513.7,1445.1 L514.7,1445.1 L515.7,1445.1 L516.7,1445.1 L517.7,1445.1 L518.7,1445.1 L519.7,1445.1 L520.7,1445.1 L521.7,1445.1 L522.7,1445.1 L523.7,1445.1 L524.7,1445.1 L525.7,1445.1 L526.7,1445.1 L527.7,1445.1 L528.7,1445.1 L529.7,1445.1 L530.7,1445.1 L531.7,1445.1 L532.7,1445.1 L533.7,1445.1 L534.7,1445.1 L535.7,1445.1 L536.7,1445.1 L537.7,1445.1 L538.7,1445.1 L539.7,1445.1 L540.7,1445.1 L541.7,1445.1 L542.7,1445.1 L543.7,1445.1 L544.7,1445.1 L545.7,1445.1 L546.7,1445.1 L547.7,1445.1 L548.7,1445.1 L549.7,1445.1 L550.7,1445.1 L551.7,1445.1 L552.7,1445.1 L553.7,1445.1 L554.7,1445.1 L555.7,1445.1 L556.7,1445.1 L557.7,1445.1 L558.7,1445.1 L559.7,1445.1 L560.7,1445.1 L561.7,1445.1 L562.7,1445.1 L563.7,1445.1 L564.7,1445.1 L565.7,1445.1 L566.7,1445.1 L567.7,1445.1 L568.7,1445.1 L569.7,1445.1 L570.7,1445.1 L571.7,1445.1 L572.7,1445.1 L573.7,1445.1 L574.7,1445.1 L575.7,1445.1 L576.7,1445.1 L577.7,1445.1 L578.7,1445.1 L579.7,1445.1 L580.7,1445.1 L581.7,1445.1 L582.7,1445.1 L583.7,1445.1 L584.7,1445.1 L585.7,1445.1 L586.7,1445.1 L587.7,1445.1 L588.7,1445.1 L589.7,1445.1 L590.7,1445.1 L591.7,1445.1 L592.7,1445.1 L593.7,1445.1 L594.7,1445.1 L595.7,1445.1 L596.7,1445.1 L597.7,1445.1 L598.7,1445.1 L599.7,1445.1 L600.7,1445.1 L601.7,1445.1 L602.7,1445.1 L603.7,1445.1 L604.7,1445.1 L605.7,1445.1 L606.7,1445.1 L607.7,1445.1 L608.7,1445.1 L609.7,1445.1 L610.7,1445.1 L611.7,1445.1 L612.7,1445.1 L613.7,1445.1 L614.7,1445.1 L615.7,1445.1 L616.7,1445.1 L617.7,1445.1 L618.7,1445.1 L619.7,1445.1 L620.7,1445.1 L621.7,1445.1 L622.7,1445.1 L623.7,1445.1 L624.7,1445.1 L625.7,1445.1 L626.7,1445.1 L627.7,1445.1 L628.7,1445.1 L629.7,1445.1 L630.7,1445.1 L631.7,1445.1 L632.7,1445.1 L633.7,1445.1 L634.7,1445.1 L635.7,1445.1 L636.7,1445.1 L637.7,1445.1 L638.7,1445.1 L639.7,1445.1 L640.7,1445.1 L641.7,1445.1 L642.7,1445.1 L643.7,1445.1 L644.7,1445.1 L645.7,1445.1 L646.7,1445.1 L647.7,1445.1 L648.7,1445.1 L649.7,1445.1 L650.7,1445.1 L651.7,1445.1 L652.7,1445.1 L653.7,1445.1 L654.7,1445.1 L655.7,1445.1 L656.7,1445.1 L657.7,1445.1 L658.7,1445.1 L659.7,1445.1 L660.7,1445.1 L661.7,1445.1 L662.7,1445.1 L663.7,1445.1 L664.7,1445.1 L665.7,1445.1 L666.7,1445 L667.7,1445 L668.7,1445 L669.7,1445 L670.7,1445 L671.7,1445 L672.7,1445 L673.7,1445 L674.7,1445 L675.7,1445 L676.7,1444.9 L677.7,1444.9 L678.7,1444.9 L679.7,1444.9 L680.7,1444.9 L681.7,1444.8 L682.7,1444.8 L683.7,1444.8 L684.7,1444.8 L685.7,1444.7 L686.7,1444.7 L687.7,1444.6 L688.7,1444.6 L689.7,1444.6 L690.7,1444.5 L691.7,1444.4 L692.7,1444.4 L693.7,1444.3 L694.7,1444.2 L695.7,1444.2 L696.7,1444.1 L697.7,1444 L698.7,1443.9 L699.7,1443.8 L700.7,1443.7 L701.7,1443.5 L702.7,1443.4 L703.7,1443.3 L704.7,1443.1 L705.7,1442.9 L706.7,1442.7 L707.7,1442.5 L708.7,1442.3 L709.7,1442.1 L710.7,1441.9 L711.7,1441.6 L712.7,1441.3 L713.7,1441 L714.7,1440.7 L715.7,1440.4 L716.7,1440 L717.7,1439.6 L718.7,1439.2 L719.7,1438.8 L720.7,1438.3 L721.7,1437.8 L722.7,1437.3 L723.7,1436.7 L724.7,1436.2 L725.7,1435.5 L726.7,1434.9 L727.7,1434.2 L728.7,1433.5 L729.7,1432.7 L730.7,1431.9 L731.7,1431 L732.7,1430.1 L733.7,1429.2 L734.7,1428.2 L735.7,1427.1 L736.7,1426 L737.7,1424.9 L738.7,1423.7 L739.7,1422.4 L740.7,1421.1 L741.7,1419.8 L742.7,1418.3 L743.7,1416.9 L744.7,1415.3 L745.7,1413.7 L746.7,1412.1 L747.7,1410.4 L748.7,1408.6 L749.7,1406.7 L750.7,1404.8 L751.7,1402.9 L752.7,1400.8 L753.7,1398.8 L754.7,1396.6 L755.7,1394.4 L756.7,1392.1 L757.7,1389.8 L758.7,1387.4 L759.7,1385 L760.7,1382.5 L761.7,1380 L762.7,1377.4 L763.7,1374.8 L764.7,1372.1 L765.7,1369.4 L766.7,1366.7 L767.7,1363.9 L768.7,1361.1 L769.7,1358.3 L770.7,1355.4 L771.7,1352.6 L772.7,1349.7 L773.7,1346.8 L774.7,1344 L775.7,1341.1 L776.7,1338.3 L777.7,1335.4 L778.7,1332.6 L779.7,1329.9 L780.7,1327.1 L781.7,1324.5 L782.7,1321.9 L783.7,1319.3 L784.7,1316.8 L785.7,1314.4 L786.7,1312.1 L787.7,1309.8 L788.7,1307.7 L789.7,1305.7 L790.7,1303.8 L791.7,1302 L792.7,1300.3 L793.7,1298.8 L794.7,1297.5 L795.7,1296.3 L796.7,1295.2 L797.7,1294.3 L798.7,1293.6 L799.7,1293.1 L800.7,1292.8 L801.7,1292.6 L802.7,1292.7 L803.7,1292.9 L804.7,1293.4 L805.7,1294.1 L806.7,1294.9 L807.7,1296.1 L808.7,1297.4 L809.7,1298.9 L810.7,1300.7 L811.7,1302.7 L812.7,1305 L813.7,1307.4 L814.7,1310.1 L815.7,1313 L816.7,1316.2 L817.7,1319.5 L818.7,1323.1 L819.7,1326.9 L820.7,1330.9 L821.7,1335.1 L822.7,1339.5 L823.7,1344 L824.7,1348.8 L825.7,1353.8 L826.7,1358.9 L827.7,1364.2 L828.7,1369.6 L829.7,1375.2 L830.7,1380.9 L831.7,1386.7 L832.7,1392.7 L833.7,1398.7 L834.7,1404.9 L835.7,1411.1 L836.7,1417.4 L837.7,1423.7 L838.7,1430.1 L839.7,1436.5 L840.7,1442.9 L841.7,1449.3 L842.7,1455.8 L843.7,1462.2 L844.7,1468.5 L845.7,1474.9 L846.7,1481.1 L847.7,1487.3 L848.7,1493.4 L849.7,1499.4 L850.7,1505.4 L851.7,1511.1 L852.7,1516.8 L853.7,1522.4 L854.7,1527.7 L855.7,1533 L856.7,1538 L857.7,1542.9 L858.7,1547.6 L859.7,1552.2 L860.7,1556.5 L861.7,1560.6 L862.7,1564.6 L863.7,1568.3 L864.7,1571.8 L865.7,1575.1 L866.7,1578.1 L867.7,1581 L868.7,1583.6 L869.7,1586 L870.7,1588.1 L871.7,1590.1 L872.7,1591.8 L873.7,1593.3 L874.7,1594.5 L875.7,1595.6 L876.7,1596.4 L877.7,1597 L878.7,1597.4 L879.7,1597.6 L880.7,1597.6 L881.7,1597.4 L882.7,1597 L883.7,1596.4 L884.7,1595.6 L885.7,1594.7 L886.7,1593.6 L887.7,1592.3 L888.7,1590.9 L889.7,1589.3 L890.7,1587.7 L891.7,1585.8 L892.7,1583.9 L893.7,1581.8 L894.7,1579.7 L895.7,1577.4 L896.7,1575 L897.7,1572.6 L898.7,1570.1 L899.7,1567.5 L900.7,1564.9 L901.7,1562.2 L902.7,1559.4 L903.7,1556.7 L904.7,1553.9 L905.7,1551 L906.7,1548.2 L907.7,1545.3 L908.7,1542.5 L909.7,1539.6 L910.7,1536.7 L911.7,1533.9 L912.7,1531 L913.7,1528.2 L914.7,1525.4 L915.7,1522.7 L916.7,1519.9 L917.7,1517.2 L918.7,1514.6 L919.7,1512 L920.7,1509.4 L921.7,1506.9 L922.7,1504.4 L923.7,1502 L924.7,1499.6 L925.7,1497.3 L926.7,1495.1 L927.7,1492.9 L928.7,1490.8 L929.7,1488.7 L930.7,1486.7 L931.7,1484.7 L932.7,1482.9 L933.7,1481 L934.7,1479.3 L935.7,1477.6 L936.7,1475.9 L937.7,1474.4 L938.7,1472.9 L939.7,1471.4 L940.7,1470 L941.7,1468.6 L942.7,1467.4 L943.7,1466.1 L944.7,1464.9 L945.7,1463.8 L946.7,1462.7 L947.7,1461.7 L948.7,1460.7 L949.7,1459.8 L950.7,1458.9 L951.7,1458.1 L952.7,1457.3 L953.7,1456.5 L954.7,1455.8 L955.7,1455.1 L956.7,1454.5 L957.7,1453.9 L958.7,1453.3 L959.7,1452.7 L960.7,1452.2 L961.7,1451.7 L962.7,1451.3 L963.7,1450.9 L964.7,1450.5 L965.7,1450.1 L966.7,1449.7 L967.7,1449.4 L968.7,1449.1 L969.7,1448.8 L970.7,1448.5 L971.7,1448.3 L972.7,1448 L973.7,1447.8 L974.7,1447.6 L975.7,1447.4 L976.7,1447.2 L977.7,1447.1 L978.7,1446.9 L979.7,1446.8 L980.7,1446.6 L981.7,1446.5 L982.7,1446.4 L983.7,1446.3 L984.7,1446.2 L985.7,1446.1 L986.7,1446 L987.7,1445.9 L988.7,1445.9 L989.7,1445.8 L990.7,1445.7 L991.7,1445.7 L992.7,1445.6 L993.7,1445.6 L994.7,1445.5 L995.7,1445.5 L996.7,1445.5 L997.7,1445.4 L998.7,1445.4 L999.7,1445.4 L1000.7,1445.3 L1001.7,1445.3 L1002.7,1445.3 L1003.7,1445.3 L1004.7,1445.3 L1005.7,1445.2 L1006.7,1445.2 L1007.7,1445.2 L1008.7,1445.2 L1009.7,1445.2 L1010.7,1445.2 L1011.7,1445.2 L1012.7,1445.2 L1013.7,1445.2 L1014.7,1445.2 L1015.7,1445.2 L1016.7,1445.1 L1017.7,1445.1 L1018.7,1445.1 L1019.7,1445.1 L1020.7,1445.1 L1021.7,1445.1 L1022.7,1445.1 L1023.7,1445.1 L1024.7,1445.1 L1025.7,1445.1 L1026.7,1445.1 L1027.7,1445.1 L1028.7,1445.1 L1029.7,1445.1 L1030.7,1445.1 L1031.7,1445.1 L1032.7,1445.1 L1033.7,1445.1 L1034.7,1445.1 L1035.7,1445.1 L1036.7,1445.1 L1037.7,1445.1 L1038.7,1445.1 L1039.7,1445.1 L1040.7,1445.1 L1041.7,1445.1 L1042.7,1445.1 L1043.7,1445.1 L1044.7,1445.1 L1045.7,1445.1 L1046.7,1445.1 L1047.7,1445.1 L1048.7,1445.1 L1049.7,1445.1 L1050.7,1445.1 L1051.7,1445.1 L1052.7,1445.1 L1053.7,1445.1 L1054.7,1445.1 L1055.7,1445.1 L1056.7,1445.1 L1057.7,1445.1 L1058.7,1445.1 L1059.7,1445.1 L1060.7,1445.1 L1061.7,1445.1 L1062.7,1445.1 L1063.7,1445.1 L1064.7,1445.1 L1065.7,1445.1 L1066.7,1445.1 L1067.7,1445.1 L1068.7,1445.1 L1069.7,1445.1 L1070.7,1445.1 L1071.7,1445.1 L1072.7,1445.1 L1073.7,1445.1 L1074.7,1445.1 L1075.7,1445.1 L1076.7,1445.1 L1077.7,1445.1 L1078.7,1445.1 L1079.7,1445.1 L1080.7,1445.1 L1081.7,1445.1 L1082.7,1445.1 L1083.7,1445.1 L1084.7,1445.1 L1085.7,1445.1 L1086.7,1445.1 L1087.7,1445.1 L1088.7,1445.1 L1089.7,1445.1 L1090.7,1445.1 L1091.7,1445.1 L1092.7,1445.1 L1093.7,1445.1 L1094.7,1445.1 L1095.7,1445.1 L1096.7,1445.1 L1097.7,1445.1 L1098.7,1445.1 L1099.7,1445.1 L1100.7,1445.1 L1101.7,1445.1 L1102.7,1445.1 L1103.7,1445.1 L1104.7,1445.1 L1105.7,1445.1 L1106.7,1445.1 L1107.7,1445.1 L1108.7,1445.1 L1109.7,1445.1 L1110.7,1445.1 L1111.7,1445.1 L1112.7,1445.1 L1113.7,1445.1 L1114.7,1445.1 L1115.7,1445.1 L1116.7,1445.1 L1117.7,1445.1 L1118.7,1445.1 L1119.7,1445.1 L1120.7,1445.1 L1121.7,1445.1 L1122.7,1445.1 L1123.7,1445.1 L1124.7,1445.1 L1125.7,1445.1 L1126.7,1445.1 L1127.7,1445.1 L1128.7,1445.1 L1129.7,1445.1 L1130.7,1445.1 L1131.7,1445.1 L1132.7,1445.1 L1133.7,1445.1 L1134.7,1445.1 L1135.7,1445.1 L1136.7,1445.1 L1137.7,1445.1 L1138.7,1445.1 L1139.7,1445.1 L1140.7,1445.1 L1141.7,1445.1 L1142.7,1445.1 L1143.7,1445.1 L1144.7,1445.1 L1145.7,1445.1 L1146.7,1445.1 L1147.7,1445.1 L1148.7,1445.1 L1149.7,1445.1 L1150.7,1445.1 L1151.7,1445.1 L1152.7,1445.1 L1153.7,1445.1 L1154.7,1445.1 L1155.7,1445.1 L1156.7,1445.1 L1157.7,1445.1 L1158.7,1445.1 L1159.7,1445.1 L1160.7,1445.1 L1161.7,1445.1 L1162.7,1445.1 L1163.7,1445.1 L1164.7,1445.1 L1165.7,1445.1 L1166.7,1445.1 L1167.7,1445.1 L1168.7,1445.1 L1169.7,1445.1 L1170.7,1445.1 L1171.7,1445.1 L1172.7,1445.1 L1173.7,1445.1 L1174.7,1445.1 L1175.7,1445.1 L1176.7,1445.1 L1177.7,1445.1 L1178.7,1445.1 L1179.7,1445.1 L1180.7,1445.1 L1181.7,1445.1 L1182.7,1445.1 L1183.7,1445.1 L1184.7,1445.1 L1185.7,1445.1 L1186.7,1445.1 L1187.7,1445.1 L1188.7,1445.1 L1189.7,1445.1 L1190.7,1445.1 L1191.7,1445.1 L1192.7,1445.1 L1193.7,1445.1 L1194.7,1445.1 L1195.7,1445.1 L1196.7,1445.1 L1197.7,1445.1 L1198.7,1445.1 L1199.7,1445.1 L1200.7,1445.1 L1201.7,1445.1 L1202.7,1445.1 L1203.7,1445.1 L1204.7,1445.1 L1205.7,1445.1 L1206.7,1445.1 L1207.7,1445.1 L1208.7,1445.1 L1209.7,1445.1 L1210.7,1445.1 L1211.7,1445.1 L1212.7,1445.1 L1213.7,1445.1 L1214.7,1445.1 L1215.7,1445.1 L1216.7,1445.1 L1217.7,1445.1 L1218.7,1445.1 L1219.7,1445.1 L1220.7,1445.1 L1221.7,1445.1 L1222.7,1445.1 L1223.7,1445.1 L1224.7,1445.1 L1225.7,1445.1 L1226.7,1445.1 L1227.7,1445.1 L1228.7,1445.1 L1229.7,1445.1 L1230.7,1445.1 L1231.7,1445.1 L1232.7,1445.1 L1233.7,1445.1 L1234.7,1445.1 L1235.7,1445.1 L1236.7,1445.1 L1237.7,1445.1 L1238.7,1445.1 L1239.7,1445.1 L1240.7,1445.1 L1241.7,1445.1 L1242.7,1445.1 L1243.7,1445.1 L1244.7,1445.1 L1245.7,1445.1 L1246.7,1445.1 L1247.7,1445.1 L1248.7,1445.1 L1249.7,1445.1 L1250.7,1445.1 L1251.7,1445.1 L1252.7,1445.1 L1253.7,1445.1 L1254.7,1445.1 L1255.7,1445.1 L1256.7,1445.1 L1257.7,1445.1 L1258.7,1445.1 L1259.7,1445.1 L1260.7,1445.1 L1261.7,1445.1 L1262.7,1445.1 L1263.7,1445.1 L1264.7,1445.1 L1265.7,1445.1 L1266.7,1445.1 L1267.7,1445.1 L1268.7,1445.1 L1269.7,1445.1 L1270.7,1445.1 L1271.7,1445.1 L1272.7,1445.1 L1273.7,1445.1 L1274.7,1445.1 L1275.7,1445.1 L1276.7,1445.1 L1277.7,1445.1 L1278.7,1445.1 L1279.7,1445.1 L1280.7,1445.1 L1281.7,1445.1 L1282.7,1445.1 L1283.7,1445.1 L1284.7,1445.1 L1285.7,1445.1 L1286.7,1445.1 L1287.7,1445.1 L1288.7,1445.1 L1289.7,1445.1 L1290.7,1445.1 L1291.7,1445.1 L1292.7,1445.1 L1293.7,1445.1 L1294.7,1445.1 L1295.7,1445.1 L1296.7,1445.1 L1297.7,1445.1 L1298.7,1445.1 L1299.7,1445.1 L1300.7,1445.1 L1301.7,1445.1 L1302.7,1445.1 L1303.7,1445.1 L1304.7,1445.1 L1305.7,1445.1 L1306.7,1445.1 L1307.7,1445.1 L1308.7,1445.1 L1309.7,1445.1 L1310.7,1445.1 L1311.7,1445.1 L1312.7,1445.1 L1313.7,1445.1 L1314.7,1445.1 L1315.7,1445.1 L1316.7,1445.1 L1317.7,1445.1 L1318.7,1445.1 L1319.7,1445.1 L1320.7,1445.1 L1321.7,1445.1 L1322.7,1445.1 L1323.7,1445.1 L1324.7,1445.1 L1325.7,1445.1 L1326.7,1445.1 L1327.7,1445.1 L1328.7,1445.1 L1329.7,1445.1 L1330.7,1445.1 L1331.7,1445.1 L1332.7,1445.1 L1333.7,1445.1 L1334.7,1445.1 L1335.7,1445.1 L1336.7,1445.1 L1337.7,1445.1 L1338.7,1445.1 L1339.7,1445.1 L1340.7,1445.1 L1341.7,1445.1 L1342.7,1445.1 L1343.7,1445.1 L1344.7,1445.1 L1345.7,1445.1 L1346.7,1445.1 L1347.7,1445.1 L1348.7,1445.1 L1349.7,1445.1 L1350.7,1445.1 L1351.7,1445.1 L1352.7,1445.1 L1353.7,1445.1 L1354.7,1445.1 L1355.7,1445.1 L1356.7,1445.1 L1357.7,1445.1 L1358.7,1445.1 L1359.7,1445.1 L1360.7,1445.1 L1361.7,1445.1 L1362.7,1445.1 L1363.7,1445.1 L1364.7,1445.1 L1365.7,1445.1 L1366.7,1445.1 L1367.7,1445.1 L1368.7,1445.1 L1369.7,1445.1 L1370.7,1445.1 L1371.7,1445.1 L1372.7,1445.1 L1373.7,1445.1 L1374.7,1445.1 L1375.7,1445.1 L1376.7,1445.1 L1377.7,1445.1 L1378.7,1445.1 L1379.7,1445.1 L1380.7,1445.1 L1381.7,1445.1 L1382.7,1445.1 L1383.7,1445.1 L1384.7,1445.1 L1385.7,1445.1 L1386.7,1445.1 L1387.7,1445.1 L1388.7,1445.1 L1389.7,1445.1 L1390.7,1445.1 L1391.7,1445.1 L1392.7,1445.1 L1393.7,1445.1 L1394.7,1445.1 L1395.7,1445.1 L1396.7,1445.1 L1397.7,1445.1 L1398.7,1445.1 L1399.7,1445.1 L1400.7,1445.1 L1401.7,1445.1 L1402.7,1445.1 L1403.7,1445.1 L1404.7,1445.1 L1405.7,1445.1 L1406.7,1445.1 L1407.7,1445.1 L1408.7,1445.1 L1409.7,1445.1 L1410.7,1445.1 L1411.7,1445.1 L1412.7,1445.1 L1413.7,1445.1 L1414.7,1445.1 L1415.7,1445.1 L1416.7,1445.1 L1417.7,1445.1 L1418.7,1445.1 L1419.7,1445.1 L1420.7,1445.1 L1421.7,1445.1 L1422.7,1445.1 L1423.7,1445.1 L1424.7,1445.1 L1425.7,1445.1 L1426.7,1445.1 L1427.7,1445.1 L1428.7,1445.1 L1429.7,1445.1 L1430.7,1445.1 L1431.7,1445.1 L1432.7,1445.1 L1433.7,1445.1 L1434.7,1445.1 L1435.7,1445.1 L1436.7,1445.1 L1437.7,1445.1 L1438.7,1445.1 L1439.7,1445.1 L1440.7,1445.1 L1441.7,1445.1 L1442.7,1445.1 L1443.7,1445.1 L1444.7,1445.1 L1445.7,1445.1 L1446.7,1445.1 L1447.7,1445.1 L1448.7,1445.1 L1449.7,1445.1 L1450.7,1445.1 L1451.7,1445.1 L1452.7,1445.1 L1453.7,1445.1 L1454.7,1445.1 L1455.7,1445.1 L1456.7,1445.1 L1457.7,1445.1 L1458.7,1445.1 L1459.7,1445.1 L1460.7,1445.1 L1461.7,1445.1 L1462.7,1445.1 L1463.7,1445.1 L1464.7,1445.1 L1465.7,1445.1 L1466.7,1445.1 L1467.7,1445.1 L1468.7,1445.1 L1469.7,1445.1 L1470.7,1445.1 L1471.7,1445.1 L1472.7,1445.1 L1473.7,1445.1 L1474.7,1445.1 L1475.7,1445.1 L1476.7,1445.1 L1477.7,1445.1 L1478.7,1445.1 L1479.7,1445.1 L1480.7,1445.1 L1481.7,1445.1 L1482.7,1445.1 L1483.7,1445.1 L1484.7,1445.1 L1485.7,1445.1 L1486.7,1445.1 L1487.7,1445.1 L1488.7,1445.1 L1489.7,1445.1 L1490.7,1445.1 L1491.7,1445.1 L1492.7,1445.1 L1493.7,1445.1 L1494.7,1445.1 L1495.7,1445.1 L1496.7,1445.1 L1497.7,1445.1 L1498.7,1445.1 L1499.7,1445.1 L1500.7,1445.1 L1501.7,1445.1 L1502.7,1445.1 L1503.7,1445.1 L1504.7,1445.1 L1505.7,1445.1 L1506.7,1445.1 L1507.7,1445.1 L1508.7,1445.1 L1509.7,1445.1 L1510.7,1445.1 L1511.7,1445.1 L1512.7,1445.1 L1513.7,1445.1 L1514.7,1445.1 L1515.7,1445.1 L1516.7,1445.1 L1517.7,1445.1 L1518.7,1445.1 L1519.7,1445.1 L1520.7,1445.1 L1521.7,1445.1 L1522.7,1445.1 L1523.7,1445.1 L1524.7,1445.1 L1525.7,1445.1 L1526.7,1445.1 L1527.7,1445.1 L1528.7,1445.1 L1529.7,1445.1 L1530.7,1445.1 L1531.7,1445.1 L1532.7,1445.1 L1533.7,1445.1 L1534.7,1445.1 L1535.7,1445.1 L1536.7,1445.1 L1537.7,1445.1 L1538.7,1445.1 L1539.7,1445.1 L1540.7,1445.1 L1541.7,1445.1 L1542.7,1445.1 L1543.7,1445.1 L1544.7,1445.1 L1545.7,1445.1 L1546.7,1445.1 L1547.7,1445.1 L1548.7,1445.1 L1549.7,1445.1 L1550.7,1445.1 L1551.7,1445.1 L1552.7,1445.1 L1553.7,1445.1 L1554.7,1445.1 L1555.7,1445.1 L1556.7,1445.1 L1557.7,1445.1 L1558.7,1445.1 L1559.7,1445.1 L1560.7,1445.1 L1561.7,1445.1 L1562.7,1445.1 L1563.7,1445.1 L1564.7,1445.1 L1565.7,1445.1 L1566.7,1445.1 L1567.7,1445.1 L1568.7,1445.1 L1569.7,1445.1 L1570.7,1445.1 L1571.7,1445.1 L1572.7,1445.1 L1573.7,1445.1 L1574.7,1445.1 L1575.7,1445.1 L1576.7,1445.1 L1577.7,1445.1 L1578.7,1445.1 L1579.7,1445.1 L1580.7,1445.1 L1581.7,1445.1 L1582.7,1445.1 L1583.7,1445.1 L1584.7,1445.1 L1585.7,1445.1 L1586.7,1445.1 L1587.7,1445.1 L1588.7,1445.1 L1589.7,1445.1 L1590.7,1445.1 L1591.7,1445.1 L1592.7,1445.1 L1593.7,1445.1 L1594.7,1445.1 L1595.7,1445.1 L1596.7,1445.1 L1597.7,1445.1 L1598.7,1445.1 L1599.7,1445.1 L1600.7,1445.1 L1601.7,1445.1 L1602.7,1445.1 L1603.7,1445.1 L1604.7,1445.1 L1605.7,1445.1 L1606.7,1445.1 L1607.7,1445.1 L1608.7,1445.1 L1609.7,1445.1 L1610.7,1445.1 L1611.7,1445.1 L1612.7,1445.1 L1613.7,1445.1 L1614.7,1445.1 L1615.7,1445.1 L1616.7,1445.1 L1617.7,1445.1 L1618.7,1445.1 L1619.7,1445.1 L1620.7,1445.1 L1621.7,1445.1 L1622.7,1445.1 L1623.7,1445.1 L1624.7,1445.1 L1625.7,1445.1 L1626.7,1445.1 L1627.7,1445.1 L1628.7,1445.1 L1629.7,1445.1 L1630.7,1445.1 L1631.7,1445.1 L1632.7,1445.1 L1633.7,1445.1 L1634.7,1445.1 L1635.7,1445.1 L1636.7,1445.1 L1637.7,1445.1 L1638.7,1445.1 L1639.7,1445.1 L1640.7,1445.1 L1641.7,1445.1 L1642.7,1445.1 L1643.7,1445.1 L1644.7,1445.1 L1645.7,1445.1 L1646.7,1445.1 L1647.7,1445.1 L1648.7,1445.1 L1649.7,1445.1 L1650.7,1445.1 L1651.7,1445.1 L1652.7,1445.1 L1653.7,1445.1 L1654.7,1445.1 L1655.7,1445.1 L1656.7,1445.1 L1657.7,1445.1 L1658.7,1445.1 L1659.7,1445.1 L1660.7,1445.1 L1661.7,1445.1 L1662.7,1445.1 L1663.7,1445.1 L1664.7,1445.1 L1665.7,1445.1 L1666.7,1445.1 L1667.7,1445.1 L1668.7,1445.1 L1669.7,1445.1 L1670.7,1445.1 L1671.7,1445.1 L1672.7,1445.1 L1673.7,1445.1 L1674.7,1445.1 L1675.7,1445.1 L1676.7,1445.1 L1677.7,1445.1 L1678.7,1445.1 L1679.7,1445.1 L1680.7,1445.1 L1681.7,1445.1 L1682.7,1445.1 L1683.7,1445.1 L1684.7,1445.1 L1685.7,1445.1 L1686.7,1445.1 L1687.7,1445.1 L1688.7,1445.1 L1689.7,1445.1 L1690.7,1445.1 L1691.7,1445.1 L1692.7,1445.1 L1693.7,1445.1 L1694.7,1445.1 L1695.7,1445.1 L1696.7,1445.1 L1697.7,1445.1 L1698.7,1445.1 L1699.7,1445.1 L1700.7,1445.1 L1701.7,1445.1 L1702.7,1445.1 L1703.7,1445.1 L1704.7,1445.1 L1705.7,1445.1 L1706.7,1445.1 L1707.7,1445.1 L1708.7,1445.1 L1709.7,1445.1 L1710.7,1445.1 L1711.7,1445.1 L1712.7,1445.1 L1713.7,1445.1 L1714.7,1445.1 L1715.7,1445.1 L1716.7,1445.1 L1717.7,1445.1 L1718.7,1445.1 L1719.7,1445.1 L1720.7,1445.1 L1721.7,1445.1 L1722.7,1445.1 L1723.7,1445.1 L1724.7,1445.1 L1725.7,1445.1 L1726.7,1445.1 L1727.7,1445.1 L1728.7,1445.1 L1729.7,1445.1 L1730.7,1445.1 L1731.7,1445.1 L1732.7,1445.1 L1733.7,1445.1 L1734.7,1445.1 L1735.7,1445.1 L1736.7,1445.1 L1737.7,1445.1 L1738.7,1445.1 L1739.7,1445.1 L1740.7,1445.1 L1741.7,1445.1 L1742.7,1445.1 L1743.7,1445.1 L1744.7,1445.1 L1745.7,1445.1 L1746.7,1445.1 L1747.7,1445.1 L1748.7,1445.1 L1749.7,1445.1 L1750.7,1445.1 L1751.7,1445.1 L1752.7,1445.1 L1753.7,1445.1 L1754.7,1445.1 L1755.7,1445.1 L1756.7,1445.1 L1757.7,1445.1 L1758.7,1445.1 L1759.7,1445.1 L1760.7,1445.1 L1761.7,1445.1 L1762.7,1445.1 L1763.7,1445.1 L1764.7,1445.1 L1765.7,1445.1 L1766.7,1445.1 L1767.7,1445.1 L1768.7,1445.1 L1769.7,1445.1 L1770.7,1445.1 L1771.7,1445.1 L1772.7,1445.1 L1773.7,1445.1 L1774.7,1445.1 L1775.7,1445.1 L1776.7,1445.1 L1777.7,1445.1 L1778.7,1445.1 L1779.7,1445.1 L1780.7,1445.1 L1781.7,1445.1 L1782.7,1445.1 L1783.7,1445.1 L1784.7,1445.1 L1785.7,1445.1 L1786.7,1445.1 L1787.7,1445.1 L1788.7,1445.1 L1789.7,1445.1 L1790.7,1445.1 L1791.7,1445.1 L1792.7,1445.1 L1793.7,1445.1 L1794.7,1445.1 L1795.7,1445.1 L1796.7,1445.1 L1797.7,1445.1 L1798.7,1445.1 L1799.7,1445.1 L1800.7,1445.1 L1801.7,1445.1 L1802.7,1445.1 L1803.7,1445.1 L1804.7,1445.1 L1805.7,1445.1 L1806.7,1445.1 L1807.7,1445.1 L1808.7,1445.1 L1809.7,1445.1 L1810.7,1445.1 L1811.7,1445.1 L1812.7,1445.1 L1813.7,1445.1 L1814.7,1445.1 L1815.7,1445.1 L1816.7,1445.1 L1817.7,1445.1 L1818.7,1445.1 L1819.7,1445.1 L1820.7,1445.1 L1821.7,1445.1 L1822.7,1445.1 L1823.7,1445.1 L1824.7,1445.1 L1825.7,1445.1 L1826.7,1445.1 L1827.7,1445.1 L1828.7,1445.1 L1829.7,1445.1 L1830.7,1445.1 L1831.7,1445.1 L1832.7,1445.1 L1833.7,1445.1 L1834.7,1445.1 L1835.7,1445.1 L1836.7,1445.1 L1837.7,1445.1 L1838.7,1445.1 L1839.7,1445.1 L1840.7,1445.1 L1841.7,1445.1 L1842.7,1445.1 L1843.7,1445.1 L1844.7,1445.1 L1845.7,1445.1 L1846.7,1445.1 L1847.7,1445.1 L1848.7,1445.1 L1849.7,1445.1 L1850.7,1445.1 L1851.7,1445.1 L1852.7,1445.1 L1853.7,1445.1 L1854.7,1445.1 L1855.7,1445.1 L1856.7,1445.1 L1857.7,1445.1 L1858.7,1445.1 L1859.7,1445.1 L1860.7,1445.1 L1861.7,1445.1 L1862.7,1445.1 L1863.7,1445.1 L1864.7,1445.1 L1865.7,1445.1 L1866.7,1445.1 L1867.7,1445.1 L1868.7,1445.1 L1869.7,1445.1 L1870.7,1445.1 L1871.7,1445.1 L1872.7,1445.1 L1873.7,1445.1 L1874.7,1445.1 L1875.7,1445.1 L1876.7,1445.1 L1877.7,1445.1 L1878.7,1445.1 L1879.7,1445.1 L1880.7,1445.1 L1881.7,1445.1 L1882.7,1445.1 L1883.7,1445.1 L1884.7,1445.1 L1885.7,1445.1 L1886.7,1445.1 L1887.7,1445.1 L1888.7,1445.1 L1889.7,1445.1 L1890.7,1445.1 L1891.7,1445.1 L1892.7,1445.1 L1893.7,1445.1 L1894.7,1445.1 L1895.7,1445.1 L1896.7,1445.1 L1897.7,1445.1 L1898.7,1445.1 L1899.7,1445.1 L1900.7,1445.1 L1901.7,1445.1 L1902.7,1445.1 L1903.7,1445.1 L1904.7,1445.1 L1905.7,1445.1 L1906.7,1445.1 L1907.7,1445.1 L1908.7,1445.1 L1909.7,1445.1 L1910.7,1445.1 L1911.7,1445.1 L1912.7,1445.1 L1913.7,1445.1 L1914.7,1445.1 L1915.7,1445.1 L1916.7,1445.1 L1917.7,1445.1 L1918.7,1445.1 L1919.7,1445.1 L1920.7,1445.1 L1921.7,1445.1 L1922.7,1445.1 L1923.7,1445.1 L1924.7,1445.1 L1925.7,1445.1 L1926.7,1445.1 L1927.7,1445.1 L1928.7,1445.1 L1929.7,1445.1 L1930.7,1445.1 L1931.7,1445.1 L1932.7,1445.1 L1933.7,1445.1 L1934.7,1445.1 L1935.7,1445.1 L1936.7,1445.1 L1937.7,1445.1 L1938.7,1445.1 L1939.7,1445.1 L1940.7,1445.1 L1941.7,1445.1 L1942.7,1445.1 L1943.7,1445.1 L1944.7,1445.1 L1945.7,1445.1 L1946.7,1445.1 L1947.7,1445.1 L1948.7,1445.1 L1949.7,1445.1 L1950.7,1445.1 L1951.7,1445.1 L1952.7,1445.1 L1953.7,1445.1 L1954.7,1445.1 L1955.7,1445.1 L1956.7,1445.1 L1957.7,1445.1 L1958.7,1445.1 L1959.7,1445.1 L1960.7,1445.1 L1961.7,1445.1 L1962.7,1445.1" fill="none" stroke="#0080FF" stroke-width="6.2" stroke-linejoin="round" stroke-linecap="round"/>
<rect x="1614.2" y="772.8" width="342.3" height="101.5" fill="none" stroke="#000" stroke-width="5.8"/>
<path d="M33.7,2132 L35.7,2132 L37.7,2132 L39.7,2132 L41.7,2132 L43.7,2131.9 L45.7,2131.9 L47.7,2131.9 L49.7,2131.9 L51.7,2131.9 L53.7,2131.9 L55.7,2131.9 L57.7,2131.9 L59.7,2131.9 L61.7,2131.9 L63.7,2131.9 L65.7,2131.9 L67.7,2131.9 L69.7,2131.8 L71.7,2131.8 L73.7,2131.8 L75.7,2131.8 L77.7,2131.8 L79.7,2131.8 L81.7,2131.8 L83.7,2131.8 L85.7,2131.8 L87.7,2131.8 L89.7,2131.7 L91.7,2131.7 L93.7,2131.7 L95.7,2131.7 L97.7,2131.7 L99.7,2131.7 L101.7,2131.7 L103.7,2131.7 L105.7,2131.6 L107.7,2131.6 L109.7,2131.6 L111.7,2131.6 L113.7,2131.6 L115.7,2131.5 L117.7,2131.5 L119.7,2131.5 L121.7,2131.5 L123.7,2131.5 L125.7,2131.4 L127.7,2131.4 L129.7,2131.4 L131.7,2131.4 L133.7,2131.3 L135.7,2131.3 L137.7,2131.3 L139.7,2131.2 L141.7,2131.2 L143.7,2131.2 L145.7,2131.1 L147.7,2131.1 L149.7,2131.1 L151.7,2131 L153.7,2131 L155.7,2131 L157.7,2130.9 L159.7,2130.9 L161.7,2130.9 L163.7,2130.8 L165.7,2130.8 L167.7,2130.8 L169.7,2130.7 L171.7,2130.7 L173.7,2130.7 L175.7,2130.6 L177.7,2130.6 L179.7,2130.5 L181.7,2130.5 L183.7,2130.5 L185.7,2130.4 L187.7,2130.4 L189.7,2130.4 L191.7,2130.3 L193.7,2130.3 L195.7,2130.2 L197.7,2130.2 L199.7,2130.2 L201.7,2130.1 L203.7,2130.1 L205.7,2130 L207.7,2130 L209.7,2130 L211.7,2129.9 L213.7,2129.9 L215.7,2129.9 L217.7,2129.8 L219.7,2129.8 L221.7,2129.7 L223.7,2129.7 L225.7,2129.7 L227.7,2129.6 L229.7,2129.6 L231.7,2129.5 L233.7,2129.5 L235.7,2129.5 L237.7,2129.4 L239.7,2129.4 L241.7,2129.3 L243.7,2129.3 L245.7,2129.3 L247.7,2129.2 L249.7,2129.2 L251.7,2129.1 L253.7,2129.1 L255.7,2129.1 L257.7,2129 L259.7,2129 L261.7,2128.9 L263.7,2128.9 L265.7,2128.8 L267.7,2128.8 L269.7,2128.8 L271.7,2128.7 L273.7,2128.7 L275.7,2128.6 L277.7,2128.6 L279.7,2128.5 L281.7,2128.5 L283.7,2128.5 L285.7,2128.4 L287.7,2128.4 L289.7,2128.3 L291.7,2128.3 L293.7,2128.2 L295.7,2128.2 L297.7,2128.2 L299.7,2128.1 L301.7,2128.1 L303.7,2128 L305.7,2128 L307.7,2127.9 L309.7,2127.9 L311.7,2127.9 L313.7,2127.8 L315.7,2127.8 L317.7,2127.8 L319.7,2127.7 L321.7,2127.7 L323.7,2127.7 L325.7,2127.6 L327.7,2127.6 L329.7,2127.5 L331.7,2127.5 L333.7,2127.5 L335.7,2127.4 L337.7,2127.4 L339.7,2127.4 L341.7,2127.3 L343.7,2127.3 L345.7,2127.2 L347.7,2127.2 L349.7,2127.1 L351.7,2127.1 L353.7,2127 L355.7,2127 L357.7,2126.9 L359.7,2126.9 L361.7,2126.8 L363.7,2126.7 L365.7,2126.6 L367.7,2126.6 L369.7,2126.5 L371.7,2126.4 L373.7,2126.3 L375.7,2126.2 L377.7,2126.1 L379.7,2126 L381.7,2125.9 L383.7,2125.8 L385.7,2125.7 L387.7,2125.5 L389.7,2125.4 L391.7,2125.3 L393.7,2125.2 L395.7,2125.1 L397.7,2124.9 L399.7,2124.8 L401.7,2124.7 L403.7,2124.5 L405.7,2124.4 L407.7,2124.2 L409.7,2124.1 L411.7,2124 L413.7,2123.8 L415.7,2123.7 L417.7,2123.5 L419.7,2123.4 L421.7,2123.2 L423.7,2123 L425.7,2122.9 L427.7,2122.7 L429.7,2122.6 L431.7,2122.4 L433.7,2122.2 L435.7,2122 L437.7,2121.9 L439.7,2121.7 L441.7,2121.5 L443.7,2121.3 L445.7,2121.2 L447.7,2121 L449.7,2120.8 L451.7,2120.6 L453.7,2120.4 L455.7,2120.1 L457.7,2119.9 L459.7,2119.7 L461.7,2119.4 L463.7,2119.2 L465.7,2118.9 L467.7,2118.6 L469.7,2118.3 L471.7,2117.9 L473.7,2117.6 L475.7,2117.2 L477.7,2116.9 L479.7,2116.5 L481.7,2116.1 L483.7,2115.8 L485.7,2115.5 L487.7,2115.1 L489.7,2114.8 L491.7,2114.5 L493.7,2114.2 L495.7,2113.9 L497.7,2113.6 L499.7,2113.3 L501.7,2113 L503.7,2112.7 L505.7,2112.4 L507.7,2112.1 L509.7,2111.7 L511.7,2111.4 L513.7,2111.2 L515.7,2110.9 L517.7,2110.6 L519.7,2110.3 L521.7,2110.1 L523.7,2109.9 L525.7,2109.6 L527.7,2109.4 L529.7,2109.3 L531.7,2109.1 L533.7,2109 L535.7,2108.9 L537.7,2108.8 L539.7,2108.7 L541.7,2108.6 L543.7,2108.5 L545.7,2108.5 L547.7,2108.4 L549.7,2108.3 L551.7,2108.3 L553.7,2108.2 L555.7,2108.1 L557.7,2108 L559.7,2107.9 L561.7,2107.8 L563.7,2107.6 L565.7,2107.4 L567.7,2107.3 L569.7,2107 L571.7,2106.8 L573.7,2106.6 L575.7,2106.3 L577.7,2106.1 L579.7,2105.8 L581.7,2105.5 L583.7,2105.2 L585.7,2105 L587.7,2104.7 L589.7,2104.4 L591.7,2104.2 L593.7,2103.9 L595.7,2103.7 L597.7,2103.5 L599.7,2103.3 L601.7,2103.1 L603.7,2102.9 L605.7,2102.8 L607.7,2102.7 L609.7,2102.6 L611.7,2102.5 L613.7,2102.4 L615.7,2102.3 L617.7,2102.2 L619.7,2102.1 L621.7,2102.1 L623.7,2102 L625.7,2102 L627.7,2101.9 L629.7,2101.9 L631.7,2101.8 L633.7,2101.8 L635.7,2101.7 L637.7,2101.7 L639.7,2101.6 L641.7,2101.6 L643.7,2101.5 L645.7,2101.4 L647.7,2101.4 L649.7,2101.3 L651.7,2101.2 L653.7,2101.1 L655.7,2101.1 L657.7,2101 L659.7,2100.9 L661.7,2100.8 L663.7,2100.8 L665.7,2100.7 L667.7,2100.7 L669.7,2100.6 L671.7,2100.6 L673.7,2100.5 L675.7,2100.5 L677.7,2100.5 L679.7,2100.5 L681.7,2100.5 L683.7,2100.5 L685.7,2100.6 L687.7,2100.6 L689.7,2100.7 L691.7,2100.8 L693.7,2100.9 L695.7,2101 L697.7,2101.1 L699.7,2101.2 L701.7,2101.3 L703.7,2101.4 L705.7,2101.5 L707.7,2101.6 L709.7,2101.7 L711.7,2101.8 L713.7,2101.8 L715.7,2101.9 L717.7,2101.9 L719.7,2102 L721.7,2102.1 L723.7,2102.1 L725.7,2102.2 L727.7,2102.2 L729.7,2102.3 L731.7,2102.3 L733.7,2102.3 L735.7,2102.3 L737.7,2102.3 L739.7,2102.3 L741.7,2102.2 L743.7,2102.1 L745.7,2102 L747.7,2101.8 L749.7,2101.5 L751.7,2101.1 L753.7,2100.7 L755.7,2100.1 L757.7,2099.5 L759.7,2098.9 L761.7,2098.3 L763.7,2097.8 L765.7,2097.3 L767.7,2096.9 L769.7,2096.5 L771.7,2096.1 L773.7,2095.6 L775.7,2095.2 L777.7,2094.9 L779.7,2094.5 L781.7,2094.2 L783.7,2093.9 L785.7,2093.9 L787.7,2098 L789.7,2099.8 L791.7,2100.7 L793.7,2101.5 L795.7,2102.3 L797.7,2103 L799.7,2103.6 L801.7,2104.2 L803.7,2104.7 L805.7,2105.2 L807.7,2105.5 L809.7,2105.8 L811.7,2106 L813.7,2106.2 L815.7,2106.2 L817.7,2106.2 L819.7,2106.2 L821.7,2106.1 L823.7,2106.1 L825.7,2106 L827.7,2105.9 L829.7,2105.7 L831.7,2105.6 L833.7,2105.5 L835.7,2105.4 L837.7,2105.4 L839.7,2105.3 L841.7,2105.3 L843.7,2105.4 L845.7,2105.5 L847.7,2105.6 L849.7,2105.8 L851.7,2105.9 L853.7,2106.1 L855.7,2106.4 L857.7,2106.6 L859.7,2106.9 L861.7,2107.2 L863.7,2107.6 L865.7,2108 L867.7,2108.5 L869.7,2109 L871.7,2109.6 L873.7,2110.3 L875.7,2111.1 L877.7,2112 L879.7,2113 L881.7,2114.1 L883.7,2115.1 L885.7,2116.1 L887.7,2117.4 L889.7,2118.8 L891.7,2120.3 L893.7,2121.7 L895.7,2122.9 L897.7,2123.5 L899.7,2123.2 L901.7,2121.8 M939,2170.7 L940,2169.9 L941,2169.4 L942,2168.9 L943,2168.6 L944,2168.3 L945,2168 L946,2167.9 L947,2167.7 L948,2167.7 L949,2167.7 L950,2167.7 L951,2167.7 L952,2167.7 L953,2167.8 L954,2167.8 L955,2167.9 L956,2167.9 L957,2168 L958,2168 L959,2168.1 L960,2168.1 L961,2168.1 L962,2168.1 L963,2168.1 L964,2168 L965,2167.9 L966,2167.8 L967,2167.8 L968,2167.7 L969,2167.6 L970,2167.5 L971,2167.4 L972,2167.3 L973,2167.2 L974,2167 L975,2166.9 L976,2166.7 L977,2166.6 L978,2166.4 L979,2166.2 L980,2166 L981,2165.7 L982,2165.4 L983,2165 L984,2164.5 L985,2163.7 L986,2162.7 L987,2161.2 L988,2159.5 L989,2157.9 L990,2157 L991,2156.7 L992,2156.7 L993,2157.1 L994,2158.2 L995,2160 L996,2163.2 L997,2167.9 L998,2172.4 L999,2175.7 L1000,2178 L1001,2179.8 L1002,2181.4 L1003,2182.9 L1004,2184.3 L1005,2185.5 L1006,2186.6 L1007,2187.5 L1008,2188.3 L1009,2189 L1010,2189.5 L1011,2189.9 L1012,2190.1 L1013,2190.3 L1014,2190.4 L1015,2190.3 L1016,2190.2 L1017,2190 L1018,2189.8 L1019,2189.6 L1020,2189.3 L1021,2189 L1022,2188.7 L1023,2188.4 L1024,2188.2 L1025,2187.9 L1026,2187.7 L1027,2187.4 L1028,2187.2 L1029,2187 L1030,2186.9 L1031,2186.7 L1032,2186.5 L1033,2186.4 L1034,2186.2 L1035,2186.1 L1036,2185.9 L1037,2185.8 L1038,2185.6 L1039,2185.5 L1040,2185.3 L1041,2185.1 L1042,2185 L1043,2184.8 L1044,2184.7 L1045,2184.5 L1046,2184.4 L1047,2184.2 L1048,2184.1 L1049,2183.9 L1050,2183.8 L1051,2183.6 L1052,2183.5 L1053,2183.3 L1054,2183.2 L1055,2183 L1056,2182.9 L1057,2182.7 L1058,2182.6 L1059,2182.4 L1060,2182.3 L1061,2182.1 L1062,2182 L1063,2181.8 L1064,2181.7 L1065,2181.5 L1066,2181.4 L1067,2181.3 L1068,2181.1 L1069,2181 L1070,2180.9 L1071,2180.7 L1072,2180.6 L1073,2180.4 L1074,2180.3 L1075,2180.2 L1076,2180 L1077,2179.9 L1078,2179.8 L1079,2179.7 L1080,2179.5 L1081,2179.4 L1082,2179.3 L1083,2179.1 L1084,2179 L1085,2178.9 L1086,2178.8 L1087,2178.6 L1088,2178.5 L1089,2178.4 L1090,2178.3 L1091,2178.2 L1092,2178 L1093,2177.9 L1094,2177.8 L1095,2177.7 L1096,2177.6 L1097,2177.4 L1098,2177.3 L1099,2177.2 L1100,2177.1 L1101,2177 L1102,2176.9 L1103,2176.8 L1104,2176.6 L1105,2176.5 L1106,2176.4 L1107,2176.3 L1108,2176.2 L1109,2176.1 L1110,2176 L1111,2175.9 L1112,2175.8 L1113,2175.6 L1114,2175.5 L1115,2175.4 L1116,2175.3 L1117,2175.2 L1118,2175.1 L1119,2175 L1120,2174.9 L1121,2174.8 L1122,2174.7 L1123,2174.6 L1124,2174.5 L1125,2174.4 L1126,2174.3 L1127,2174.2 L1128,2174.1 L1129,2174 L1130,2173.9 L1131,2173.8 L1132,2173.7 L1133,2173.6 L1134,2173.5 L1135,2173.4 L1136,2173.3 L1137,2173.2 L1138,2173.1 L1139,2173 L1140,2172.9 L1141,2172.8 L1142,2172.7 L1143,2172.6 L1144,2172.4 L1145,2172.3 L1146,2172.2 L1147,2172.1 L1148,2172 L1149,2171.9 L1150,2171.8 L1151,2171.7 L1152,2171.6 L1153,2171.5 L1154,2171.4 L1155,2171.3 L1156,2171.2 L1157,2171 L1158,2170.9 L1159,2170.8 L1160,2170.7 L1161,2170.6 L1162,2170.5 L1163,2170.3 L1164,2170.2 L1165,2170.1 L1166,2170 L1167,2169.9 L1168,2169.7 L1169,2169.6 L1170,2169.5 L1171,2169.4 L1172,2169.2 L1173,2169.1 L1174,2169 L1175,2168.9 L1176,2168.7 L1177,2168.6 L1178,2168.5 L1179,2168.3 L1180,2168.2 L1181,2168.1 L1182,2168 L1183,2167.8 L1184,2167.7 L1185,2167.6 L1186,2167.4 L1187,2167.3 L1188,2167.2 L1189,2167.1 L1190,2166.9 L1191,2166.8 L1192,2166.7 L1193,2166.5 L1194,2166.4 L1195,2166.3 L1196,2166.2 L1197,2166 L1198,2165.9 L1199,2165.8 L1200,2165.7 L1201,2165.5 L1202,2165.4 L1203,2165.3 L1204,2165.2 L1205,2165 L1206,2164.9 L1207,2164.8 L1208,2164.7 L1209,2164.6 L1210,2164.4 L1211,2164.3 L1212,2164.2 L1213,2164.1 L1214,2164 L1215,2163.9 L1216,2163.7 L1217,2163.6 L1218,2163.5 L1219,2163.4 L1220,2163.3 L1221,2163.2 L1222,2163.1 L1223,2162.9 L1224,2162.8 L1225,2162.7 L1226,2162.6 L1227,2162.5 L1228,2162.4 L1229,2162.2 L1230,2162.1 L1231,2162 L1232,2161.9 L1233,2161.8 L1234,2161.7 L1235,2161.5 L1236,2161.4 L1237,2161.3 L1238,2161.2 L1239,2161.1 L1240,2160.9 L1241,2160.8 L1242,2160.7 L1243,2160.6 L1244,2160.5 L1245,2160.4 L1246,2160.2 L1247,2160.1 L1248,2160 L1249,2159.9 L1250,2159.8 L1251,2159.6 L1252,2159.5 L1253,2159.4 L1254,2159.3 L1255,2159.2 L1256,2159.1 L1257,2158.9 L1258,2158.8 L1259,2158.7 L1260,2158.6 L1261,2158.5 L1262,2158.4 L1263,2158.2 L1264,2158.1 L1265,2158 L1266,2157.9 L1267,2157.8 L1268,2157.7 L1269,2157.5 L1270,2157.4 L1271,2157.3 L1272,2157.2 L1273,2157.1 L1274,2157 L1275,2156.9 L1276,2156.7 L1277,2156.6 L1278,2156.5 L1279,2156.4 L1280,2156.3 L1281,2156.2 L1282,2156.1 L1283,2155.9 L1284,2155.8 L1285,2155.7 L1286,2155.6 L1287,2155.5 L1288,2155.4 L1289,2155.3 L1290,2155.2 L1291,2155.1 L1292,2154.9 L1293,2154.8 L1294,2154.7 L1295,2154.6 L1296,2154.5 L1297,2154.4 L1298,2154.3 L1299,2154.2 L1300,2154.1 L1301,2154 L1302,2153.9 L1303,2153.7 L1304,2153.6 L1305,2153.5 L1306,2153.4 L1307,2153.3 L1308,2153.2 L1309,2153.1 L1310,2153 L1311,2152.9 L1312,2152.8 L1313,2152.7 L1314,2152.6 L1315,2152.5 L1316,2152.4 L1317,2152.3 L1318,2152.2 L1319,2152.1 L1320,2152 L1321,2151.9 L1322,2151.8 L1323,2151.7 L1324,2151.6 L1325,2151.5 L1326,2151.4 L1327,2151.3 L1328,2151.2 L1329,2151.1 L1330,2151 L1331,2150.9 L1332,2150.8 L1333,2150.8 L1334,2150.7 L1335,2150.6 L1336,2150.5 L1337,2150.4 L1338,2150.3 L1339,2150.2 L1340,2150.1 L1341,2150 L1342,2150 L1343,2149.9 L1344,2149.8 L1345,2149.7 L1346,2149.6 L1347,2149.5 L1348,2149.4 L1349,2149.4 L1350,2149.3 L1351,2149.2 L1352,2149.1 L1353,2149 L1354,2149 L1355,2148.9 L1356,2148.8 L1357,2148.7 L1358,2148.6 L1359,2148.6 L1360,2148.5 L1361,2148.4 L1362,2148.3 L1363,2148.3 L1364,2148.2 L1365,2148.1 L1366,2148 L1367,2148 L1368,2147.9 L1369,2147.8 L1370,2147.7 L1371,2147.7 L1372,2147.6 L1373,2147.5 L1374,2147.5 L1375,2147.4 L1376,2147.3 L1377,2147.2 L1378,2147.2 L1379,2147.1 L1380,2147 L1381,2147 L1382,2146.9 L1383,2146.8 L1384,2146.8 L1385,2146.7 L1386,2146.6 L1387,2146.6 L1388,2146.5 L1389,2146.4 L1390,2146.4 L1391,2146.3 L1392,2146.2 L1393,2146.2 L1394,2146.1 L1395,2146 L1396,2146 L1397,2145.9 L1398,2145.8 L1399,2145.8 L1400,2145.7 L1401,2145.7 L1402,2145.6 L1403,2145.5 L1404,2145.5 L1405,2145.4 L1406,2145.3 L1407,2145.3 L1408,2145.2 L1409,2145.2 L1410,2145.1 L1411,2145 L1412,2145 L1413,2144.9 L1414,2144.9 L1415,2144.8 L1416,2144.8 L1417,2144.7 L1418,2144.6 L1419,2144.6 L1420,2144.5 L1421,2144.5 L1422,2144.4 L1423,2144.3 L1424,2144.3 L1425,2144.2 L1426,2144.2 L1427,2144.1 L1428,2144.1 L1429,2144 L1430,2144 L1431,2143.9 L1432,2143.8 L1433,2143.8 L1434,2143.7 L1435,2143.7 L1436,2143.6 L1437,2143.6 L1438,2143.5 L1439,2143.5 L1440,2143.4 L1441,2143.4 L1442,2143.3 L1443,2143.2 L1444,2143.2 L1445,2143.1 L1446,2143.1 L1447,2143 L1448,2143 L1449,2142.9 L1450,2142.9 L1451,2142.8 L1452,2142.8 L1453,2142.7 L1454,2142.7 L1455,2142.6 L1456,2142.6 L1457,2142.5 L1458,2142.4 L1459,2142.4 L1460,2142.3 L1461,2142.3 L1462,2142.2 L1463,2142.2 L1464,2142.1 L1465,2142.1 L1466,2142 L1467,2142 L1468,2141.9 L1469,2141.9 L1470,2141.8 L1471,2141.8 L1472,2141.7 L1473,2141.7 L1474,2141.6 L1475,2141.6 L1476,2141.5 L1477,2141.5 L1478,2141.4 L1479,2141.4 L1480,2141.3 L1481,2141.3 L1482,2141.2 L1483,2141.2 L1484,2141.2 L1485,2141.1 L1486,2141.1 L1487,2141 L1488,2141 L1489,2140.9 L1490,2140.9 L1491,2140.8 L1492,2140.8 L1493,2140.7 L1494,2140.7 L1495,2140.6 L1496,2140.6 L1497,2140.6 L1498,2140.5 L1499,2140.5 L1500,2140.4 L1501,2140.4 L1502,2140.3 L1503,2140.3 L1504,2140.3 L1505,2140.2 L1506,2140.2 L1507,2140.1 L1508,2140.1 L1509,2140 L1510,2140 L1511,2140 L1512,2139.9 L1513,2139.9 L1514,2139.8 L1515,2139.8 L1516,2139.8 L1517,2139.7 L1518,2139.7 L1519,2139.6 L1520,2139.6 L1521,2139.6 L1522,2139.5 L1523,2139.5 L1524,2139.4 L1525,2139.4 L1526,2139.4 L1527,2139.3 L1528,2139.3 L1529,2139.3 L1530,2139.2 L1531,2139.2 L1532,2139.1 L1533,2139.1 L1534,2139.1 L1535,2139 L1536,2139 L1537,2139 L1538,2138.9 L1539,2138.9 L1540,2138.9 L1541,2138.8 L1542,2138.8 L1543,2138.8 L1544,2138.7 L1545,2138.7 L1546,2138.7 L1547,2138.6 L1548,2138.6 L1549,2138.6 L1550,2138.5 L1551,2138.5 L1552,2138.5 L1553,2138.4 L1554,2138.4 L1555,2138.4 L1556,2138.3 L1557,2138.3 L1558,2138.3 L1559,2138.3 L1560,2138.2 L1561,2138.2 L1562,2138.2 L1563,2138.1 L1564,2138.1 L1565,2138.1 L1566,2138.1 L1567,2138 L1568,2138 L1569,2138 L1570,2138 L1571,2137.9 L1572,2137.9 L1573,2137.9 L1574,2137.9 L1575,2137.8 L1576,2137.8 L1577,2137.8 L1578,2137.8 L1579,2137.7 L1580,2137.7 L1581,2137.7 L1582,2137.7 L1583,2137.6 L1584,2137.6 L1585,2137.6 L1586,2137.6 L1587,2137.6 L1588,2137.5 L1589,2137.5 L1590,2137.5 L1591,2137.5 L1592,2137.5 L1593,2137.4 L1594,2137.4 L1595,2137.4 L1596,2137.4 L1597,2137.4 L1598,2137.4 L1599,2137.4 L1600,2137.3 L1601,2137.3 L1602,2137.3 L1603,2137.3 L1604,2137.3 L1605,2137.3 L1606,2137.3 L1607,2137.2 L1608,2137.2 L1609,2137.2 L1610,2137.2 L1611,2137.2 L1612,2137.2 L1613,2137.2 L1614,2137.2 L1615,2137.2 L1616,2137.1 L1617,2137.1 L1618,2137.1 L1619,2137.1 L1620,2137.1 L1621,2137.1 L1622,2137.1 L1623,2137.1 L1624,2137.1 L1625,2137.1 L1626,2137.1 L1627,2137 L1628,2137 L1629,2137 L1630,2137 L1631,2137 L1632,2137 L1633,2137 L1634,2137 L1635,2137 L1636,2137 L1637,2137 L1638,2137 L1639,2137 L1640,2137 L1641,2136.9 L1642,2136.9 L1643,2136.9 L1644,2136.9 L1645,2136.9 L1646,2136.9 L1647,2136.9 L1648,2136.9 L1649,2136.9 L1650,2136.9 L1651,2136.9 L1652,2136.9 L1653,2136.9 L1654,2136.9 L1655,2136.9 L1656,2136.9 L1657,2136.9 L1658,2136.9 L1659,2136.9 L1660,2136.8 L1661,2136.8 L1662,2136.8 L1663,2136.8 L1664,2136.8 L1665,2136.8 L1666,2136.8 L1667,2136.8 L1668,2136.8 L1669,2136.8 L1670,2136.8 L1671,2136.8 L1672,2136.8 L1673,2136.8 L1674,2136.8 L1675,2136.8 L1676,2136.8 L1677,2136.8 L1678,2136.7 L1679,2136.7 L1680,2136.7 L1681,2136.7 L1682,2136.7 L1683,2136.7 L1684,2136.7 L1685,2136.7 L1686,2136.7 L1687,2136.7 L1688,2136.7 L1689,2136.7 L1690,2136.7 L1691,2136.6 L1692,2136.6 L1693,2136.6 L1694,2136.6 L1695,2136.6 L1696,2136.6 L1697,2136.6 L1698,2136.6 L1699,2136.6 L1700,2136.6 L1701,2136.5 L1702,2136.5 L1703,2136.5 L1704,2136.5 L1705,2136.5 L1706,2136.5 L1707,2136.5 L1708,2136.5 L1709,2136.4 L1710,2136.4 L1711,2136.4 L1712,2136.4 L1713,2136.4 L1714,2136.4 L1715,2136.4 L1716,2136.4 L1717,2136.3 L1718,2136.3 L1719,2136.3 L1720,2136.3 L1721,2136.3 L1722,2136.3 L1723,2136.3 L1724,2136.3 L1725,2136.2 L1726,2136.2 L1727,2136.2 L1728,2136.2 L1729,2136.2 L1730,2136.2 L1731,2136.2 L1732,2136.1 L1733,2136.1 L1734,2136.1 L1735,2136.1 L1736,2136.1 L1737,2136.1 L1738,2136.1 L1739,2136 L1740,2136 L1741,2136 L1742,2136 L1743,2136 L1744,2136 L1745,2136 L1746,2135.9 L1747,2135.9 L1748,2135.9 L1749,2135.9 L1750,2135.9 L1751,2135.9 L1752,2135.9 L1753,2135.9 L1754,2135.8 L1755,2135.8 L1756,2135.8 L1757,2135.8 L1758,2135.8 L1759,2135.8 L1760,2135.8 L1761,2135.8 L1762,2135.7 L1763,2135.7 L1764,2135.7 L1765,2135.7 L1766,2135.7 L1767,2135.7 L1768,2135.7 L1769,2135.7 L1770,2135.7 L1771,2135.6 L1772,2135.6 L1773,2135.6 L1774,2135.6 L1775,2135.6 L1776,2135.6 L1777,2135.6 L1778,2135.6 L1779,2135.6 L1780,2135.6 L1781,2135.5 L1782,2135.5 L1783,2135.5 L1784,2135.5 L1785,2135.5 L1786,2135.5 L1787,2135.5 L1788,2135.5 L1789,2135.5 L1790,2135.5 L1791,2135.5 L1792,2135.5 L1793,2135.5 L1794,2135.5 L1795,2135.5 L1796,2135.4 L1797,2135.4 L1798,2135.4 L1799,2135.4 L1800,2135.4 L1801,2135.4 L1802,2135.4 L1803,2135.4 L1804,2135.4 L1805,2135.4 L1806,2135.4 L1807,2135.4 L1808,2135.4 L1809,2135.4 L1810,2135.4 L1811,2135.4 L1812,2135.4 L1813,2135.4 L1814,2135.4 L1815,2135.4 L1816,2135.4 L1817,2135.4 L1818,2135.4 L1819,2135.4 L1820,2135.4 L1821,2135.4 L1822,2135.4 L1823,2135.4 L1824,2135.4 L1825,2135.4 L1826,2135.4 L1827,2135.4 L1828,2135.4 L1829,2135.4 L1830,2135.4 L1831,2135.4 L1832,2135.4 L1833,2135.4 L1834,2135.4 L1835,2135.5 L1836,2135.5 L1837,2135.5 L1838,2135.5 L1839,2135.5 L1840,2135.5 L1841,2135.5 L1842,2135.5 L1843,2135.5 L1844,2135.5 L1845,2135.5 L1846,2135.5 L1847,2135.5 L1848,2135.5 L1849,2135.5 L1850,2135.5 L1851,2135.5 L1852,2135.6 L1853,2135.6 L1854,2135.6 L1855,2135.6 L1856,2135.6 L1857,2135.6 L1858,2135.6 L1859,2135.6 L1860,2135.6 L1861,2135.6 L1862,2135.6 L1863,2135.6 L1864,2135.6 L1865,2135.6 L1866,2135.7 L1867,2135.7 L1868,2135.7 L1869,2135.7 L1870,2135.7 L1871,2135.7 L1872,2135.7 L1873,2135.7 L1874,2135.7 L1875,2135.7 L1876,2135.7 L1877,2135.7 L1878,2135.8 L1879,2135.8 L1880,2135.8 L1881,2135.8 L1882,2135.8 L1883,2135.8 L1884,2135.8 L1885,2135.8 L1886,2135.8 L1887,2135.8 L1888,2135.8 L1889,2135.9 L1890,2135.9 L1891,2135.9 L1892,2135.9 L1893,2135.9 L1894,2135.9 L1895,2135.9 L1896,2135.9 L1897,2135.9 L1898,2135.9 L1899,2136 L1900,2136 L1901,2136 L1902,2136 L1903,2136 L1904,2136 L1905,2136 L1906,2136 L1907,2136 L1908,2136 L1909,2136.1 L1910,2136.1 L1911,2136.1 L1912,2136.1 L1913,2136.1 L1914,2136.1 L1915,2136.1 L1916,2136.1 L1917,2136.1 L1918,2136.1 L1919,2136.2 L1920,2136.2 L1921,2136.2 L1922,2136.2 L1923,2136.2 L1924,2136.2 L1925,2136.2 L1926,2136.2 L1927,2136.2 L1928,2136.2 L1929,2136.3 L1930,2136.3 L1931,2136.3 L1932,2136.3 L1933,2136.3 L1934,2136.3 L1935,2136.3 L1936,2136.3 L1937,2136.3 L1938,2136.4 L1939,2136.4 L1940,2136.4 L1941,2136.4 L1942,2136.4 L1943,2136.4 L1944,2136.4 L1945,2136.4 L1946,2136.4 L1947,2136.4 L1948,2136.5 L1949,2136.5 L1950,2136.5 L1951,2136.5 L1952,2136.5 L1953,2136.5 L1954,2136.5 L1955,2136.5 L1956,2136.5 L1957,2136.5 L1958,2136.6 L1959,2136.6 L1960,2136.6" fill="none" stroke="#FF0000" stroke-width="15" stroke-linejoin="round" stroke-linecap="butt"/>
<path d="M30.7,2132 L31.2,2133.3 L31.7,2130.8 L32.2,2128.1 L32.7,2130 L33.2,2127.6 L33.7,2132.2 L34.2,2137.9 L34.7,2129.8 L35.2,2129.2 L35.7,2134.1 L36.2,2133.5 L36.7,2132.4 L37.2,2127.9 L37.7,2131.8 L38.2,2135 L38.7,2126 L39.2,2129.9 L39.7,2123.6 L40.2,2126.3 L40.7,2123.9 L41.2,2130.9 L41.7,2126.4 L42.2,2133.1 L42.7,2132.6 L43.2,2131.1 L43.7,2120.9 L44.2,2129.6 L44.7,2131.7 L45.2,2132.4 L45.7,2125.2 L46.2,2129.8 L46.7,2127.6 L47.2,2128.4 L47.7,2136.6 L48.2,2128.4 L48.7,2131.8 L49.2,2135.8 L49.7,2129.4 L50.2,2131.4 L50.7,2132.4 L51.2,2132.2 L51.7,2126.5 L52.2,2132.2 L52.7,2137.9 L53.2,2125.1 L53.7,2135.7 L54.2,2132.4 L54.7,2129.1 L55.2,2140.7 L55.7,2135.3 L56.2,2126.6 L56.7,2132.2 L57.2,2134.4 L57.7,2131.1 L58.2,2134.9 L58.7,2131.6 L59.2,2134.8 L59.7,2138.2 L60.2,2128.9 L60.7,2132.8 L61.2,2129.8 L61.7,2132.4 L62.2,2126.7 L62.7,2129.3 L63.2,2131 L63.7,2135.8 L64.2,2136.9 L64.7,2126 L65.2,2128.4 L65.7,2134.7 L66.2,2123.1 L66.7,2129.8 L67.2,2131.4 L67.7,2137.4 L68.2,2134.9 L68.7,2130.4 L69.2,2130.2 L69.7,2130.7 L70.2,2138.5 L70.7,2130 L71.2,2130.5 L71.7,2133.4 L72.2,2131.3 L72.7,2131 L73.2,2126.9 L73.7,2131.8 L74.2,2129.9 L74.7,2137 L75.2,2134.7 L75.7,2131.7 L76.2,2134.8 L76.7,2130.3 L77.2,2136.4 L77.7,2131.8 L78.2,2134.4 L78.7,2126.1 L79.2,2133.3 L79.7,2124.4 L80.2,2122.8 L80.7,2130.5 L81.2,2127.8 L81.7,2132.5 L82.2,2141.7 L82.7,2128.1 L83.2,2129 L83.7,2132.7 L84.2,2133.9 L84.7,2131 L85.2,2130.9 L85.7,2134.9 L86.2,2134.1 L86.7,2127.2 L87.2,2131.4 L87.7,2131.9 L88.2,2127.1 L88.7,2132.9 L89.2,2128 L89.7,2136 L90.2,2132.6 L90.7,2132.1 L91.2,2129.1 L91.7,2131.2 L92.2,2122.9 L92.7,2126.7 L93.2,2133.3 L93.7,2122.4 L94.2,2135.4 L94.7,2124 L95.2,2135 L95.7,2128 L96.2,2135.1 L96.7,2132.3 L97.2,2124.9 L97.7,2137.2 L98.2,2138 L98.7,2131.4 L99.2,2130.5 L99.7,2131 L100.2,2127.4 L100.7,2136.5 L101.2,2129.3 L101.7,2131.4 L102.2,2128.2 L102.7,2128.9 L103.2,2126 L103.7,2137.2 L104.2,2131 L104.7,2135.9 L105.2,2131.7 L105.7,2128.6 L106.2,2130.2 L106.7,2129.2 L107.2,2131.7 L107.7,2130 L108.2,2130.3 L108.7,2125.5 L109.2,2128.1 L109.7,2138.9 L110.2,2128.6 L110.7,2127 L111.2,2133.1 L111.7,2137.8 L112.2,2125.2 L112.7,2130.7 L113.2,2128.8 L113.7,2123.8 L114.2,2134.8 L114.7,2131.5 L115.2,2131.9 L115.7,2128.2 L116.2,2133.5 L116.7,2129.2 L117.2,2130.9 L117.7,2126.6 L118.2,2126.2 L118.7,2137.4 L119.2,2129.3 L119.7,2132.8 L120.2,2131.3 L120.7,2129.6 L121.2,2129.3 L121.7,2134.3 L122.2,2130.1 L122.7,2130.8 L123.2,2131.6 L123.7,2136.6 L124.2,2134.4 L124.7,2133.1 L125.2,2129 L125.7,2125.4 L126.2,2135.6 L126.7,2135.7 L127.2,2130.8 L127.7,2133.8 L128.2,2134.8 L128.7,2135.1 L129.2,2135.4 L129.7,2129.4 L130.2,2138 L130.7,2125.9 L131.2,2135.2 L131.7,2133.5 L132.2,2135.2 L132.7,2139.6 L133.2,2137.9 L133.7,2126.3 L134.2,2123.9 L134.7,2134.9 L135.2,2126.8 L135.7,2131.2 L136.2,2135 L136.7,2124.1 L137.2,2122 L137.7,2132.4 L138.2,2131.5 L138.7,2130.2 L139.2,2131.4 L139.7,2127.5 L140.2,2124.6 L140.7,2130.5 L141.2,2126.9 L141.7,2124 L142.2,2133.4 L142.7,2130.9 L143.2,2133 L143.7,2126.8 L144.2,2128.3 L144.7,2126.8 L145.2,2127.3 L145.7,2132 L146.2,2127.7 L146.7,2132.7 L147.2,2132.6 L147.7,2140 L148.2,2125 L148.7,2135 L149.2,2130.7 L149.7,2131 L150.2,2124.7 L150.7,2129 L151.2,2134.3 L151.7,2130.7 L152.2,2131.4 L152.7,2129.8 L153.2,2136.1 L153.7,2130.9 L154.2,2121.3 L154.7,2128 L155.2,2122.3 L155.7,2116.7 L156.2,2128.6 L156.7,2136.8 L157.2,2131.2 L157.7,2125.8 L158.2,2126.8 L158.7,2135.9 L159.2,2131.6 L159.7,2131.1 L160.2,2130.7 L160.7,2131.1 L161.2,2134.4 L161.7,2133.3 L162.2,2131.8 L162.7,2126.3 L163.2,2133.1 L163.7,2127.8 L164.2,2135.6 L164.7,2125.2 L165.2,2130.2 L165.7,2130.8 L166.2,2125 L166.7,2138.4 L167.2,2137.2 L167.7,2128.7 L168.2,2134.2 L168.7,2132.4 L169.2,2119.2 L169.7,2131.8 L170.2,2130.5 L170.7,2131.1 L171.2,2126 L171.7,2129.5 L172.2,2129.9 L172.7,2135.9 L173.2,2132.1 L173.7,2130.6 L174.2,2137.4 L174.7,2128.2 L175.2,2128.9 L175.7,2122.6 L176.2,2137.5 L176.7,2134.8 L177.2,2134.6 L177.7,2133.5 L178.2,2131.1 L178.7,2131.5 L179.2,2129.4 L179.7,2129.6 L180.2,2130.8 L180.7,2137.2 L181.2,2133 L181.7,2130.2 L182.2,2127.9 L182.7,2127.7 L183.2,2137.5 L183.7,2132.7 L184.2,2130.8 L184.7,2128.9 L185.2,2125.6 L185.7,2130.1 L186.2,2134.3 L186.7,2128.7 L187.2,2129.4 L187.7,2129.4 L188.2,2130.9 L188.7,2123.4 L189.2,2129.3 L189.7,2126.6 L190.2,2134.2 L190.7,2126.9 L191.2,2132.9 L191.7,2137 L192.2,2128.9 L192.7,2127.6 L193.2,2131.1 L193.7,2130.3 L194.2,2125.9 L194.7,2132.3 L195.2,2139.1 L195.7,2129.1 L196.2,2129.3 L196.7,2125.6 L197.2,2131.6 L197.7,2124.7 L198.2,2125.3 L198.7,2135.8 L199.2,2126.2 L199.7,2134.9 L200.2,2136.9 L200.7,2131.3 L201.2,2132.6 L201.7,2138.7 L202.2,2129.2 L202.7,2127.5 L203.2,2124.1 L203.7,2130.3 L204.2,2136.6 L204.7,2134.3 L205.2,2125.9 L205.7,2126.3 L206.2,2127.8 L206.7,2131.3 L207.2,2129.1 L207.7,2131 L208.2,2131.3 L208.7,2128.7 L209.2,2129.8 L209.7,2130.9 L210.2,2129.6 L210.7,2132.2 L211.2,2138.2 L211.7,2132.5 L212.2,2130.2 L212.7,2122.5 L213.2,2131.6 L213.7,2121.3 L214.2,2123.7 L214.7,2133.6 L215.2,2133 L215.7,2129.2 L216.2,2122.3 L216.7,2128.2 L217.2,2126.8 L217.7,2132.6 L218.2,2139.7 L218.7,2130.8 L219.2,2126.4 L219.7,2124.6 L220.2,2129.5 L220.7,2129 L221.2,2124.7 L221.7,2130.3 L222.2,2124.7 L222.7,2134.6 L223.2,2134.4 L223.7,2134.5 L224.2,2127.6 L224.7,2131.9 L225.2,2129.1 L225.7,2127.9 L226.2,2128.2 L226.7,2123.9 L227.2,2123.3 L227.7,2133.1 L228.2,2128.8 L228.7,2130.6 L229.2,2134 L229.7,2122 L230.2,2126.1 L230.7,2130.3 L231.2,2131.3 L231.7,2127.9 L232.2,2134.1 L232.7,2130.4 L233.2,2124.2 L233.7,2125.4 L234.2,2133 L234.7,2131.5 L235.2,2121.1 L235.7,2135.4 L236.2,2132.1 L236.7,2135.4 L237.2,2127.7 L237.7,2128.1 L238.2,2124.5 L238.7,2140.6 L239.2,2128.6 L239.7,2136.4 L240.2,2126.5 L240.7,2130.1 L241.2,2122 L241.7,2127.7 L242.2,2133.7 L242.7,2123.8 L243.2,2134 L243.7,2130.8 L244.2,2124.7 L244.7,2127.1 L245.2,2127.3 L245.7,2129 L246.2,2126.9 L246.7,2125.6 L247.2,2127.9 L247.7,2124.7 L248.2,2123.5 L248.7,2129 L249.2,2133.1 L249.7,2122.5 L250.2,2129.2 L250.7,2126.3 L251.2,2124.8 L251.7,2132.9 L252.2,2126.8 L252.7,2135.7 L253.2,2125.7 L253.7,2130.8 L254.2,2128.1 L254.7,2125.8 L255.2,2131.7 L255.7,2128.4 L256.2,2131.7 L256.7,2128.8 L257.2,2124.2 L257.7,2128.6 L258.2,2129.2 L258.7,2133.2 L259.2,2125 L259.7,2128.8 L260.2,2121.4 L260.7,2131.8 L261.2,2124.2 L261.7,2121 L262.2,2128.7 L262.7,2133.8 L263.2,2122.2 L263.7,2124.1 L264.2,2125.6 L264.7,2123.9 L265.2,2130.5 L265.7,2125.3 L266.2,2125.7 L266.7,2131.4 L267.2,2125.5 L267.7,2130.7 L268.2,2124.5 L268.7,2123.5 L269.2,2120.7 L269.7,2137 L270.2,2127.3 L270.7,2129.8 L271.2,2128.6 L271.7,2129.4 L272.2,2128.9 L272.7,2137.1 L273.2,2124.1 L273.7,2121.8 L274.2,2124.2 L274.7,2122.8 L275.2,2131.9 L275.7,2132.2 L276.2,2124.4 L276.7,2122.5 L277.2,2127 L277.7,2134.7 L278.2,2116.2 L278.7,2130.9 L279.2,2123.8 L279.7,2133.1 L280.2,2123.8 L280.7,2127.3 L281.2,2121.9 L281.7,2124.2 L282.2,2134.6 L282.7,2132.1 L283.2,2126.7 L283.7,2124.6 L284.2,2120.1 L284.7,2126.7 L285.2,2128.3 L285.7,2128 L286.2,2128 L286.7,2123.5 L287.2,2128.1 L287.7,2128.2 L288.2,2134 L288.7,2136.6 L289.2,2127.7 L289.7,2125 L290.2,2128 L290.7,2125.6 L291.2,2125 L291.7,2128 L292.2,2123.7 L292.7,2130.9 L293.2,2127.8 L293.7,2129.3 L294.2,2127.4 L294.7,2125 L295.2,2124 L295.7,2127.2 L296.2,2125.8 L296.7,2129.2 L297.2,2128.1 L297.7,2122.2 L298.2,2128.4 L298.7,2122.2 L299.2,2125.4 L299.7,2126.8 L300.2,2119 L300.7,2128.5 L301.2,2128.7 L301.7,2127.4 L302.2,2126.2 L302.7,2126.4 L303.2,2123.7 L303.7,2126.8 L304.2,2125.6 L304.7,2128.4 L305.2,2122.7 L305.7,2129 L306.2,2128.6 L306.7,2127.3 L307.2,2126 L307.7,2130.4 L308.2,2120.6 L308.7,2129.9 L309.2,2129 L309.7,2129.1 L310.2,2129.6 L310.7,2125 L311.2,2126.7 L311.7,2130.7 L312.2,2129.7 L312.7,2128.8 L313.2,2121.2 L313.7,2130.2 L314.2,2133 L314.7,2132.2 L315.2,2128.8 L315.7,2120.9 L316.2,2131.9 L316.7,2127.1 L317.2,2116.6 L317.7,2129.4 L318.2,2121.2 L318.7,2122 L319.2,2124.9 L319.7,2133.3 L320.2,2126.1 L320.7,2128.9 L321.2,2135.4 L321.7,2134.7 L322.2,2127.2 L322.7,2126.6 L323.2,2122.1 L323.7,2124.6 L324.2,2129.5 L324.7,2129.4 L325.2,2128.1 L325.7,2132 L326.2,2124.2 L326.7,2127.4 L327.2,2130.8 L327.7,2130.2 L328.2,2132.3 L328.7,2129.3 L329.2,2126.2 L329.7,2129.1 L330.2,2123.1 L330.7,2120.3 L331.2,2130.1 L331.7,2127.3 L332.2,2128.9 L332.7,2120 L333.2,2125.9 L333.7,2124.8 L334.2,2123.7 L334.7,2117.5 L335.2,2126 L335.7,2131.4 L336.2,2129.1 L336.7,2124.8 L337.2,2127.3 L337.7,2130.7 L338.2,2115.2 L338.7,2126.8 L339.2,2129.8 L339.7,2130.4 L340.2,2134.8 L340.7,2132.3 L341.2,2128.7 L341.7,2128.7 L342.2,2130.8 L342.7,2124.9 L343.2,2127.1 L343.7,2131.3 L344.2,2135.9 L344.7,2126.6 L345.2,2127 L345.7,2128.1 L346.2,2133.1 L346.7,2127.1 L347.2,2133.7 L347.7,2122.9 L348.2,2126.4 L348.7,2126.3 L349.2,2130.6 L349.7,2131.7 L350.2,2120.5 L350.7,2123.1 L351.2,2128.6 L351.7,2124.2 L352.2,2120.4 L352.7,2131.6 L353.2,2129.2 L353.7,2129.2 L354.2,2124.9 L354.7,2131.5 L355.2,2125.9 L355.7,2131.8 L356.2,2123 L356.7,2123.2 L357.2,2127.8 L357.7,2123.8 L358.2,2129.9 L358.7,2128 L359.2,2122.8 L359.7,2127.2 L360.2,2125.3 L360.7,2130.9 L361.2,2124 L361.7,2124.9 L362.2,2132.1 L362.7,2136.6 L363.2,2135.5 L363.7,2127 L364.2,2127.7 L364.7,2133.4 L365.2,2126.1 L365.7,2122.3 L366.2,2127.1 L366.7,2128.6 L367.2,2122.9 L367.7,2119.3 L368.2,2120.2 L368.7,2129.4 L369.2,2123.2 L369.7,2125.9 L370.2,2127.4 L370.7,2129.2 L371.2,2124.9 L371.7,2128.6 L372.2,2122.5 L372.7,2124.8 L373.2,2121.8 L373.7,2131.3 L374.2,2126.2 L374.7,2123 L375.2,2124.7 L375.7,2125.2 L376.2,2129.3 L376.7,2119.1 L377.2,2121.6 L377.7,2124.4 L378.2,2137.2 L378.7,2130.3 L379.2,2125.5 L379.7,2129.1 L380.2,2135 L380.7,2124.9 L381.2,2124.3 L381.7,2131.2 L382.2,2128 L382.7,2128.8 L383.2,2123.6 L383.7,2134.2 L384.2,2133.3 L384.7,2128.2 L385.2,2128.7 L385.7,2116.7 L386.2,2128.4 L386.7,2124.8 L387.2,2127.5 L387.7,2128.5 L388.2,2124 L388.7,2118 L389.2,2127.1 L389.7,2122.2 L390.2,2123.9 L390.7,2122.7 L391.2,2123.8 L391.7,2115.1 L392.2,2130.6 L392.7,2126.4 L393.2,2130.1 L393.7,2133.9 L394.2,2125.2 L394.7,2117.2 L395.2,2121.2 L395.7,2119.7 L396.2,2122.8 L396.7,2125.3 L397.2,2116.1 L397.7,2126.4 L398.2,2118.2 L398.7,2126.2 L399.2,2124.3 L399.7,2123.4 L400.2,2124.4 L400.7,2122.3 L401.2,2122 L401.7,2117.3 L402.2,2124.5 L402.7,2132.7 L403.2,2133.3 L403.7,2130.3 L404.2,2127.6 L404.7,2121.5 L405.2,2130.8 L405.7,2124.1 L406.2,2124 L406.7,2123 L407.2,2124.7 L407.7,2122.3 L408.2,2123.8 L408.7,2119.4 L409.2,2122.5 L409.7,2134.1 L410.2,2123.8 L410.7,2123 L411.2,2126.3 L411.7,2127.1 L412.2,2119 L412.7,2123 L413.2,2127.9 L413.7,2125 L414.2,2124.3 L414.7,2130.6 L415.2,2120.7 L415.7,2124 L416.2,2121.3 L416.7,2130.1 L417.2,2115 L417.7,2120.6 L418.2,2121.1 L418.7,2126.3 L419.2,2126.1 L419.7,2129.5 L420.2,2116.4 L420.7,2126.6 L421.2,2121.9 L421.7,2120.3 L422.2,2125.5 L422.7,2119.1 L423.2,2113.9 L423.7,2121.4 L424.2,2116.4 L424.7,2120.1 L425.2,2124.6 L425.7,2124.3 L426.2,2129.8 L426.7,2121.9 L427.2,2116 L427.7,2119.4 L428.2,2118.6 L428.7,2117.3 L429.2,2124.5 L429.7,2119.7 L430.2,2113.8 L430.7,2125.5 L431.2,2121.9 L431.7,2124 L432.2,2122.8 L432.7,2125.1 L433.2,2122.4 L433.7,2127.7 L434.2,2124 L434.7,2123.9 L435.2,2123.9 L435.7,2115.6 L436.2,2121.3 L436.7,2120.8 L437.2,2122.8 L437.7,2115.9 L438.2,2129 L438.7,2122.2 L439.2,2116.4 L439.7,2114.2 L440.2,2120.4 L440.7,2121.2 L441.2,2118.4 L441.7,2121.9 L442.2,2118.7 L442.7,2123.9 L443.2,2118.2 L443.7,2121.2 L444.2,2125.6 L444.7,2132.6 L445.2,2116.8 L445.7,2119.1 L446.2,2117.4 L446.7,2124.5 L447.2,2116 L447.7,2118.8 L448.2,2120.8 L448.7,2116.6 L449.2,2116.6 L449.7,2118.7 L450.2,2111.5 L450.7,2114.3 L451.2,2118.8 L451.7,2121.2 L452.2,2119.7 L452.7,2112.7 L453.2,2118.4 L453.7,2123.9 L454.2,2122.8 L454.7,2119.9 L455.2,2116.3 L455.7,2122.9 L456.2,2117.5 L456.7,2114.9 L457.2,2116.5 L457.7,2126.3 L458.2,2120.8 L458.7,2124.9 L459.2,2117.6 L459.7,2123.8 L460.2,2117 L460.7,2118.9 L461.2,2130.4 L461.7,2122.8 L462.2,2117.2 L462.7,2118.9 L463.2,2120.7 L463.7,2124.5 L464.2,2116.9 L464.7,2111.4 L465.2,2117.7 L465.7,2118.9 L466.2,2119.3 L466.7,2124.5 L467.2,2120 L467.7,2122.1 L468.2,2113.6 L468.7,2122.2 L469.2,2127.6 L469.7,2121.7 L470.2,2119.3 L470.7,2118.8 L471.2,2125.9 L471.7,2113.8 L472.2,2117.3 L472.7,2119.8 L473.2,2120.9 L473.7,2115.6 L474.2,2118.8 L474.7,2116.2 L475.2,2117.8 L475.7,2116.6 L476.2,2112.1 L476.7,2116.9 L477.2,2120.8 L477.7,2112.6 L478.2,2115.7 L478.7,2119.6 L479.2,2111.9 L479.7,2117.3 L480.2,2111.7 L480.7,2121.3 L481.2,2126.4 L481.7,2125 L482.2,2115.1 L482.7,2119.2 L483.2,2116.4 L483.7,2116.2 L484.2,2122.5 L484.7,2109.8 L485.2,2120.2 L485.7,2115.2 L486.2,2121.6 L486.7,2116.1 L487.2,2112.3 L487.7,2116.4 L488.2,2118.3 L488.7,2115.2 L489.2,2117.1 L489.7,2112.6 L490.2,2105.4 L490.7,2118.7 L491.2,2117.7 L491.7,2115.2 L492.2,2114.8 L492.7,2119 L493.2,2112.3 L493.7,2111.1 L494.2,2113.3 L494.7,2119.3 L495.2,2107.9 L495.7,2119.2 L496.2,2111 L496.7,2108.9 L497.2,2119.2 L497.7,2113.2 L498.2,2107.8 L498.7,2111.9 L499.2,2117.5 L499.7,2118.6 L500.2,2111.3 L500.7,2114.9 L501.2,2116.2 L501.7,2110.2 L502.2,2114.5 L502.7,2112.7 L503.2,2110.4 L503.7,2110.5 L504.2,2112.9 L504.7,2112.6 L505.2,2110 L505.7,2110.5 L506.2,2117.2 L506.7,2113.1 L507.2,2116 L507.7,2117.3 L508.2,2114.6 L508.7,2121.9 L509.2,2108.2 L509.7,2115.3 L510.2,2110.3 L510.7,2119.8 L511.2,2119 L511.7,2102.8 L512.2,2107.1 L512.7,2114.2 L513.2,2114.7 L513.7,2114.4 L514.2,2110.8 L514.7,2113 L515.2,2113.8 L515.7,2110.5 L516.2,2115.3 L516.7,2100.8 L517.2,2113.5 L517.7,2106.1 L518.2,2114.8 L518.7,2109.5 L519.2,2106.5 L519.7,2112 L520.2,2106.3 L520.7,2106.2 L521.2,2103.3 L521.7,2110 L522.2,2112.2 L522.7,2114.5 L523.2,2109.3 L523.7,2114.5 L524.2,2109.9 L524.7,2109.3 L525.2,2112.2 L525.7,2114.3 L526.2,2108.1 L526.7,2108.5 L527.2,2108.8 L527.7,2109.8 L528.2,2105.4 L528.7,2113.9 L529.2,2107.6 L529.7,2111.3 L530.2,2105.6 L530.7,2110.8 L531.2,2110.9 L531.7,2107.3 L532.2,2118 L532.7,2110.7 L533.2,2116.8 L533.7,2113.2 L534.2,2106 L534.7,2107.2 L535.2,2110.8 L535.7,2109.1 L536.2,2109.1 L536.7,2107.6 L537.2,2100.8 L537.7,2107.8 L538.2,2099 L538.7,2110.4 L539.2,2105.5 L539.7,2105.5 L540.2,2107.7 L540.7,2109.8 L541.2,2102.3 L541.7,2100.9 L542.2,2103.9 L542.7,2099.6 L543.2,2104.3 L543.7,2115.5 L544.2,2103.9 L544.7,2111.4 L545.2,2102.4 L545.7,2109.8 L546.2,2107 L546.7,2108.2 L547.2,2110.9 L547.7,2116.1 L548.2,2109.2 L548.7,2108.9 L549.2,2104.1 L549.7,2110.9 L550.2,2107.2 L550.7,2111.9 L551.2,2108.1 L551.7,2115.9 L552.2,2099.5 L552.7,2106.9 L553.2,2112.1 L553.7,2106.6 L554.2,2104.7 L554.7,2107 L555.2,2102 L555.7,2108.6 L556.2,2118.8 L556.7,2113.1 L557.2,2103.1 L557.7,2104.2 L558.2,2106.2 L558.7,2112.4 L559.2,2104.3 L559.7,2104.8 L560.2,2111.7 L560.7,2111.6 L561.2,2106.1 L561.7,2102.8 L562.2,2100.9 L562.7,2104.6 L563.2,2097.8 L563.7,2110.9 L564.2,2104.8 L564.7,2109.6 L565.2,2115.7 L565.7,2112.6 L566.2,2102.3 L566.7,2111.2 L567.2,2112.4 L567.7,2104 L568.2,2103 L568.7,2106.7 L569.2,2100 L569.7,2113.5 L570.2,2096.4 L570.7,2102.1 L571.2,2105.7 L571.7,2105.8 L572.2,2107.5 L572.7,2107.9 L573.2,2105.7 L573.7,2111.6 L574.2,2097.1 L574.7,2106.5 L575.2,2103.2 L575.7,2106.9 L576.2,2107.2 L576.7,2102.2 L577.2,2103.3 L577.7,2109.6 L578.2,2107.5 L578.7,2102.9 L579.2,2114.8 L579.7,2116 L580.2,2099.3 L580.7,2107 L581.2,2116.6 L581.7,2109 L582.2,2106.4 L582.7,2104.5 L583.2,2102.9 L583.7,2104.3 L584.2,2102.8 L584.7,2108.4 L585.2,2103.3 L585.7,2103 L586.2,2099.6 L586.7,2104.6 L587.2,2100.8 L587.7,2103.9 L588.2,2109.2 L588.7,2106.2 L589.2,2106.7 L589.7,2106 L590.2,2104.6 L590.7,2103.7 L591.2,2102.9 L591.7,2107.5 L592.2,2099.3 L592.7,2110 L593.2,2104.1 L593.7,2100.6 L594.2,2101.7 L594.7,2100.8 L595.2,2104.5 L595.7,2100.5 L596.2,2108.7 L596.7,2100.1 L597.2,2093.5 L597.7,2100.3 L598.2,2094.6 L598.7,2103.2 L599.2,2108 L599.7,2106.1 L600.2,2097.3 L600.7,2099.8 L601.2,2111 L601.7,2104.5 L602.2,2103.1 L602.7,2107.7 L603.2,2113.8 L603.7,2108.6 L604.2,2103.5 L604.7,2104.4 L605.2,2105.5 L605.7,2100.1 L606.2,2098.1 L606.7,2103 L607.2,2098.5 L607.7,2102.4 L608.2,2103.1 L608.7,2112.9 L609.2,2098.8 L609.7,2102 L610.2,2101.8 L610.7,2104.4 L611.2,2107.1 L611.7,2100.3 L612.2,2098.8 L612.7,2095.2 L613.2,2098.3 L613.7,2104.7 L614.2,2102.5 L614.7,2097.9 L615.2,2100.7 L615.7,2102.4 L616.2,2104.5 L616.7,2099.6 L617.2,2101.1 L617.7,2094.2 L618.2,2097.1 L618.7,2109.3 L619.2,2092.5 L619.7,2100.7 L620.2,2103.1 L620.7,2100.5 L621.2,2098.5 L621.7,2101.8 L622.2,2102.1 L622.7,2101.7 L623.2,2093.8 L623.7,2101.4 L624.2,2098.3 L624.7,2099.6 L625.2,2103 L625.7,2104.8 L626.2,2105.9 L626.7,2099.8 L627.2,2106 L627.7,2107.1 L628.2,2106.9 L628.7,2108 L629.2,2101.3 L629.7,2101.1 L630.2,2105.5 L630.7,2095.9 L631.2,2102.8 L631.7,2099.5 L632.2,2100.2 L632.7,2094.2 L633.2,2097.9 L633.7,2101.7 L634.2,2105.7 L634.7,2106.1 L635.2,2101.4 L635.7,2100.9 L636.2,2098.1 L636.7,2103.5 L637.2,2100.6 L637.7,2104.4 L638.2,2109.4 L638.7,2101.5 L639.2,2095.1 L639.7,2097.8 L640.2,2095.2 L640.7,2096.3 L641.2,2107.3 L641.7,2102.6 L642.2,2094.9 L642.7,2104.4 L643.2,2107.1 L643.7,2099.9 L644.2,2098.5 L644.7,2100 L645.2,2102.7 L645.7,2104.2 L646.2,2106.6 L646.7,2106.7 L647.2,2106.6 L647.7,2107.3 L648.2,2104.2 L648.7,2094.6 L649.2,2100.7 L649.7,2102.7 L650.2,2099.6 L650.7,2105.3 L651.2,2099.6 L651.7,2097.1 L652.2,2107.5 L652.7,2104.1 L653.2,2102.1 L653.7,2105.2 L654.2,2105.8 L654.7,2102.6 L655.2,2090.3 L655.7,2098.1 L656.2,2099 L656.7,2096.7 L657.2,2101.9 L657.7,2106.2 L658.2,2098.8 L658.7,2096 L659.2,2109.9 L659.7,2098.9 L660.2,2095.5 L660.7,2101.9 L661.2,2102.7 L661.7,2097.7 L662.2,2104.3 L662.7,2098.7 L663.2,2096.7 L663.7,2101.6 L664.2,2104.2 L664.7,2098 L665.2,2102.2 L665.7,2100.3 L666.2,2113.1 L666.7,2097.6 L667.2,2106.8 L667.7,2100.4 L668.2,2100.1 L668.7,2103.8 L669.2,2104.6 L669.7,2106.2 L670.2,2102.1 L670.7,2098 L671.2,2098.2 L671.7,2102.8 L672.2,2103.1 L672.7,2106.7 L673.2,2102.4 L673.7,2105.2 L674.2,2107.2 L674.7,2101.3 L675.2,2094 L675.7,2095.3 L676.2,2094.2 L676.7,2107.5 L677.2,2096.8 L677.7,2105.9 L678.2,2103.1 L678.7,2108 L679.2,2104.9 L679.7,2100 L680.2,2099.6 L680.7,2100.9 L681.2,2101.3 L681.7,2098.2 L682.2,2100.4 L682.7,2107.6 L683.2,2093 L683.7,2101.7 L684.2,2096.6 L684.7,2101.4 L685.2,2104.3 L685.7,2100.3 L686.2,2104 L686.7,2093.6 L687.2,2105.5 L687.7,2098 L688.2,2103.4 L688.7,2101.5 L689.2,2089.3 L689.7,2097.4 L690.2,2101.7 L690.7,2107.6 L691.2,2102 L691.7,2101.9 L692.2,2094.6 L692.7,2107.2 L693.2,2108.8 L693.7,2101 L694.2,2100 L694.7,2093.8 L695.2,2104.9 L695.7,2112.9 L696.2,2104.2 L696.7,2106.6 L697.2,2103.5 L697.7,2096.8 L698.2,2107 L698.7,2095.7 L699.2,2100.3 L699.7,2102.5 L700.2,2105.1 L700.7,2103.1 L701.2,2103 L701.7,2098 L702.2,2095.7 L702.7,2101.7 L703.2,2098.3 L703.7,2095.7 L704.2,2095.9 L704.7,2099.3 L705.2,2093.4 L705.7,2095.6 L706.2,2094.4 L706.7,2102.4 L707.2,2103.4 L707.7,2110.5 L708.2,2095.1 L708.7,2098.7 L709.2,2105.7 L709.7,2100.8 L710.2,2100.3 L710.7,2109.3 L711.2,2100.3 L711.7,2096.7 L712.2,2096 L712.7,2103.3 L713.2,2103.2 L713.7,2095.8 L714.2,2097.5 L714.7,2104.2 L715.2,2104.4 L715.7,2099 L716.2,2104.6 L716.7,2104.4 L717.2,2094.1 L717.7,2100.6 L718.2,2103.8 L718.7,2099.4 L719.2,2092.6 L719.7,2100.7 L720.2,2105.3 L720.7,2109 L721.2,2092.4 L721.7,2113.5 L722.2,2097.1 L722.7,2106.3 L723.2,2107.5 L723.7,2106.4 L724.2,2102.8 L724.7,2097 L725.2,2104.9 L725.7,2099 L726.2,2091.1 L726.7,2114.6 L727.2,2105.3 L727.7,2110.2 L728.2,2098.2 L728.7,2108.7 L729.2,2109.2 L729.7,2109.1 L730.2,2102.2 L730.7,2097 L731.2,2101.5 L731.7,2092.6 L732.2,2094.8 L732.7,2102.7 L733.2,2098 L733.7,2101.6 L734.2,2101.8 L734.7,2110.8 L735.2,2108 L735.7,2102.1 L736.2,2107.6 L736.7,2098.9 L737.2,2100.8 L737.7,2106.3 L738.2,2096.9 L738.7,2101.1 L739.2,2096.5 L739.7,2102.8 L740.2,2109.5 L740.7,2099 L741.2,2103.2 L741.7,2098.3 L742.2,2097.2 L742.7,2096.7 L743.2,2108.6 L743.7,2112.5 L744.2,2104.2 L744.7,2098.9 L745.2,2105.1 L745.7,2100.5 L746.2,2105.5 L746.7,2103.2 L747.2,2103.1 L747.7,2104.5 L748.2,2099.2 L748.7,2099.9 L749.2,2094 L749.7,2099.6 L750.2,2095.2 L750.7,2100.7 L751.2,2097 L751.7,2101.6 L752.2,2103 L752.7,2094.7 L753.2,2097.2 L753.7,2096.5 L754.2,2103.8 L754.7,2107.9 L755.2,2104 L755.7,2098.6 L756.2,2106.4 L756.7,2093.2 L757.2,2106.3 L757.7,2096.7 L758.2,2087.2 L758.7,2110.9 L759.2,2106 L759.7,2094.4 L760.2,2099.5 L760.7,2097.7 L761.2,2098.9 L761.7,2091.8 L762.2,2095.2 L762.7,2100.1 L763.2,2098.9 L763.7,2103.1 L764.2,2098 L764.7,2107.9 L765.2,2094.3 L765.7,2098.5 L766.2,2088.8 L766.7,2091.6 L767.2,2102.8 L767.7,2092.7 L768.2,2099.1 L768.7,2096.4 L769.2,2092 L769.7,2094.9 L770.2,2094.1 L770.7,2094.1 L771.2,2099.5 L771.7,2098.9 L772.2,2093.4 L772.7,2091.9 L773.2,2097 L773.7,2095.2 L774.2,2100.1 L774.7,2107.1 L775.2,2099.1 L775.7,2095.1 L776.2,2094.4 L776.7,2091.3 L777.2,2091 L777.7,2090.4 L778.2,2093 L778.7,2092.8 L779.2,2097.9 L779.7,2092.7 L780.2,2093.5 L780.7,2089 L781.2,2101.5 L781.7,2096.4 L782.2,2102 L782.7,2097.5 L783.2,2100.5 L783.7,2092.8 L784.2,2097 L784.7,2105.8 L785.2,2088.5 L785.7,2099.1 L786.2,2101.6 L786.7,2096.5 L787.2,2098.5 L787.7,2103.7 L788.2,2095.8 L788.7,2101.1 L789.2,2095.6 L789.7,2096.8 L790.2,2097.3 L790.7,2099.7 L791.2,2101.2 L791.7,2102.8 L792.2,2094.6 L792.7,2110.1 L793.2,2106.6 L793.7,2104.8 L794.2,2100.1 L794.7,2101.5 L795.2,2104.6 L795.7,2104.2 L796.2,2094.9 L796.7,2106 L797.2,2116 L797.7,2094.7 L798.2,2107.6 L798.7,2105 L799.2,2103 L799.7,2109.8 L800.2,2098.4 L800.7,2104.7 L801.2,2110.7 L801.7,2103.3 L802.2,2102.4 L802.7,2105 L803.2,2102.6 L803.7,2111.7 L804.2,2100.7 L804.7,2108.9 L805.2,2099.4 L805.7,2108.2 L806.2,2104.8 L806.7,2093.7 L807.2,2105.4 L807.7,2100.7 L808.2,2103.6 L808.7,2112.6 L809.2,2100.7 L809.7,2101 L810.2,2112.4 L810.7,2106.5 L811.2,2113 L811.7,2107.5 L812.2,2102.1 L812.7,2105.8 L813.2,2111.7 L813.7,2110.4 L814.2,2106.2 L814.7,2106.4 L815.2,2105.7 L815.7,2103.6 L816.2,2115 L816.7,2106.3 L817.2,2101.1 L817.7,2104.1 L818.2,2109.5 L818.7,2109.1 L819.2,2105.6 L819.7,2103.2 L820.2,2106.3 L820.7,2098.6 L821.2,2100.3 L821.7,2109.8 L822.2,2104 L822.7,2107.8 L823.2,2111.6 L823.7,2109 L824.2,2106.1 L824.7,2115.6 L825.2,2109 L825.7,2104.4 L826.2,2109.2 L826.7,2107.8 L827.2,2102 L827.7,2106.2 L828.2,2105.1 L828.7,2096.9 L829.2,2105 L829.7,2104.5 L830.2,2103.7 L830.7,2098.2 L831.2,2104.1 L831.7,2105.5 L832.2,2106.1 L832.7,2100.4 L833.2,2108.4 L833.7,2100 L834.2,2104.5 L834.7,2111.4 L835.2,2102.3 L835.7,2103.1 L836.2,2110.3 L836.7,2103.7 L837.2,2104.1 L837.7,2106.4 L838.2,2110.1 L838.7,2095.4 L839.2,2101.6 L839.7,2100.8 L840.2,2100.4 L840.7,2101.5 L841.2,2101.5 L841.7,2106.7 L842.2,2101.3 L842.7,2105.9 L843.2,2107.2 L843.7,2102.1 L844.2,2106 L844.7,2112.8 L845.2,2106.9 L845.7,2102.6 L846.2,2105.2 L846.7,2101.4 L847.2,2106.8 L847.7,2109.5 L848.2,2102 L848.7,2104.7 L849.2,2110.7 L849.7,2103.5 L850.2,2106.6 L850.7,2101.2 L851.2,2102.2 L851.7,2103.6 L852.2,2115.6 L852.7,2104.2 L853.2,2103.7 L853.7,2103.7 L854.2,2105.5 L854.7,2109.1 L855.2,2107.1 L855.7,2115.4 L856.2,2107.4 L856.7,2112.9 L857.2,2107.8 L857.7,2109.3 L858.2,2100.3 L858.7,2106.2 L859.2,2106.5 L859.7,2105.8 L860.2,2097.5 L860.7,2110.9 L861.2,2105.4 L861.7,2105.3 L862.2,2106.2 L862.7,2106.4 L863.2,2109.3 L863.7,2102 L864.2,2103.6 L864.7,2109.1 L865.2,2108.5 L865.7,2106.4 L866.2,2105.6 L866.7,2104.6 L867.2,2108.1 L867.7,2113.7 L868.2,2103.9 L868.7,2115.4 L869.2,2112.6 L869.7,2107 L870.2,2112.6 L870.7,2102.8 L871.2,2101.8 L871.7,2103.9 L872.2,2108 L872.7,2108.5 L873.2,2107.9 L873.7,2110.8 L874.2,2101.1 L874.7,2112.9 L875.2,2104.7 L875.7,2108.2 L876.2,2109.5 L876.7,2106.5 L877.2,2105.8 L877.7,2107.6 L878.2,2112.2 L878.7,2115.1 L879.2,2115.3 L879.7,2108.7 L880.2,2109.8 L880.7,2109.5 L881.2,2115.8 L881.7,2105.1 L882.2,2119.8 L882.7,2112.5 L883.2,2111.4 L883.7,2116.6 L884.2,2119.9 L884.7,2117.1 L885.2,2120.5 L885.7,2116.7 L886.2,2121.8 L886.7,2122.2 L887.2,2116.6 L887.7,2123.7 L888.2,2118.5 L888.7,2118.5 L889.2,2114.4 L889.7,2117.5 L890.2,2122.6 L890.7,2113.8 L891.2,2122.8 L891.7,2121.8 L892.2,2121.9 L892.7,2111.3 L893.2,2120.9 L893.7,2124.6 L894.2,2118.7 L894.7,2122.7 L895.2,2112.1 L895.7,2125.8 L896.2,2120.2 L896.7,2127.1 L897.2,2115.3 L897.7,2126.5 L898.2,2122.5 L898.7,2127 L899.2,2119.3 L899.7,2120.5 L900.2,2132.8 L900.7,2119 L901.2,2119.2 L901.7,2120.6 L902.2,2116.8 L902.7,2126 L903.2,2127.7 L903.7,2116.3 L904.2,2111.1 L904.7,2123.1 L905.2,2122 L905.7,2119.9 L906.2,2120.5 L906.7,2110.7 L907.2,2112.8 L907.7,2106.3 L908.2,2104.7 L908.7,2113.8 L909.2,2104.9 L909.7,2116.1 L910.2,2104.7 L910.7,2100.1 L911.2,2105.1 L911.7,2108.4 L912.2,2101.5 L912.7,2093 L913.2,2099.3 L913.7,2103.2 L914.2,2094.8 L914.7,2093.3 L915.2,2101 L915.7,2097.3 L916.2,2092.4 L916.7,2096.9 L917.2,2097.5 L917.7,2105.6 L918.2,2109.4 L918.7,2119.6 L919.2,2123.9 L919.7,2120.2 L920.2,2136 L920.7,2145.8 L921.2,2151.8 L921.7,2161.9 L922.2,2162.2 L922.7,2166.9 L923.2,2180.8 L923.7,2176.9 L924.2,2176.5 L924.7,2194.6 L925.2,2190.7 L925.7,2196 L926.2,2194.3 L926.7,2197.5 L927.2,2200.6 L927.7,2206.1 L928.2,2210.6 L928.7,2199.4 L929.2,2212.8 L929.7,2203.6 L930.2,2202.8 L930.7,2208.3 L931.2,2202 L931.7,2192.1 L932.2,2203.4 L932.7,2188.2 L933.2,2190.2 L933.7,2186.9 L934.2,2188.9 L934.7,2177.8 L935.2,2182 L935.7,2172.7 L936.2,2179.6 L936.7,2170.4 L937.2,2171.3 L937.7,2180.5 L938.2,2172.9 L938.7,2171.5 L939.2,2180.4 L939.7,2171.8 L940.2,2166.2 L940.7,2172.8 L941.2,2164.1 L941.7,2174 L942.2,2174.2 L942.7,2166.2 L943.2,2165.8 L943.7,2169.2 L944.2,2168.3 L944.7,2163.8 L945.2,2170.5 L945.7,2158.9 L946.2,2165.9 L946.7,2166 L947.2,2166.5 L947.7,2169 L948.2,2162.3 L948.7,2170.2 L949.2,2166.9 L949.7,2164.8 L950.2,2161.6 L950.7,2162.5 L951.2,2169.3 L951.7,2163.5 L952.2,2168 L952.7,2172.4 L953.2,2172.3 L953.7,2174.7 L954.2,2166.5 L954.7,2163.1 L955.2,2172.4 L955.7,2169.3 L956.2,2172.9 L956.7,2168 L957.2,2173.2 L957.7,2171.7 L958.2,2171.2 L958.7,2170.3 L959.2,2169.8 L959.7,2169.1 L960.2,2169.1 L960.7,2172.5 L961.2,2165.9 L961.7,2175.7 L962.2,2167.6 L962.7,2172.4 L963.2,2167.7 L963.7,2166.9 L964.2,2176.9 L964.7,2166.6 L965.2,2162.3 L965.7,2164.7 L966.2,2166.4 L966.7,2177.3 L967.2,2168.7 L967.7,2171.8 L968.2,2163.3 L968.7,2169.2 L969.2,2170.5 L969.7,2175.5 L970.2,2164.4 L970.7,2170.1 L971.2,2168.7 L971.7,2162.8 L972.2,2167.2 L972.7,2166 L973.2,2156.9 L973.7,2169.7 L974.2,2169.4 L974.7,2165 L975.2,2161 L975.7,2173.3 L976.2,2167.9 L976.7,2171.1 L977.2,2172.8 L977.7,2164.2 L978.2,2169.9 L978.7,2165.2 L979.2,2165.9 L979.7,2165.7 L980.2,2165.9 L980.7,2170.7 L981.2,2166.2 L981.7,2164.8 L982.2,2164.1 L982.7,2166.6 L983.2,2161 L983.7,2162.5 L984.2,2164.1 L984.7,2161.5 L985.2,2163.1 L985.7,2160.4 L986.2,2171.3 L986.7,2167.6 L987.2,2163 L987.7,2159.9 L988.2,2168.8 L988.7,2159.8 L989.2,2157.3 L989.7,2158.5 L990.2,2158.3 L990.7,2163 L991.2,2156.6 L991.7,2165.9 L992.2,2152.8 L992.7,2159.9 L993.2,2152.8 L993.7,2165.8 L994.2,2157 L994.7,2159.1 L995.2,2164.4 L995.7,2167.4 L996.2,2159 L996.7,2164.7 L997.2,2162.6 L997.7,2171.6 L998.2,2172.6 L998.7,2173.2 L999.2,2173.1 L999.7,2175.6 L1000.2,2175 L1000.7,2181.5 L1001.2,2186.7 L1001.7,2172.4 L1002.2,2181.2 L1002.7,2180.6 L1003.2,2185.3 L1003.7,2179.7 L1004.2,2183.9 L1004.7,2180.6 L1005.2,2188.8 L1005.7,2186.7 L1006.2,2186 L1006.7,2188.8 L1007.2,2186.6 L1007.7,2181.2 L1008.2,2191 L1008.7,2190 L1009.2,2188.4 L1009.7,2193.6 L1010.2,2194.9 L1010.7,2184.9 L1011.2,2186.5 L1011.7,2196.9 L1012.2,2196.4 L1012.7,2187 L1013.2,2185.1 L1013.7,2187.6 L1014.2,2188.2 L1014.7,2183.4 L1015.2,2190.5 L1015.7,2184.6 L1016.2,2184.9 L1016.7,2194.1 L1017.2,2187 L1017.7,2189.6 L1018.2,2192.6 L1018.7,2193.2 L1019.2,2188 L1019.7,2189.6 L1020.2,2185.6 L1020.7,2196.8 L1021.2,2191.8 L1021.7,2184 L1022.2,2188.7 L1022.7,2191.7 L1023.2,2190.5 L1023.7,2196.3 L1024.2,2194.2 L1024.7,2185.6 L1025.2,2187.5 L1025.7,2182.1 L1026.2,2188.7 L1026.7,2188.2 L1027.2,2199.3 L1027.7,2187.7 L1028.2,2178 L1028.7,2184.1 L1029.2,2187.5 L1029.7,2181.4 L1030.2,2183 L1030.7,2185.2 L1031.2,2188.2 L1031.7,2185.9 L1032.2,2182.6 L1032.7,2189.9 L1033.2,2184 L1033.7,2184.1 L1034.2,2180.1 L1034.7,2182.7 L1035.2,2188.9 L1035.7,2178.9 L1036.2,2185.6 L1036.7,2189 L1037.2,2184.1 L1037.7,2186.7 L1038.2,2180.7 L1038.7,2191.3 L1039.2,2190.3 L1039.7,2186.4 L1040.2,2177.6 L1040.7,2180.6 L1041.2,2189.4 L1041.7,2192.6 L1042.2,2186.3 L1042.7,2190.4 L1043.2,2182.1 L1043.7,2183.9 L1044.2,2184.7 L1044.7,2186.4 L1045.2,2177.8 L1045.7,2188.6 L1046.2,2190.2 L1046.7,2179.2 L1047.2,2178.2 L1047.7,2185.7 L1048.2,2181.2 L1048.7,2173.5 L1049.2,2187.4 L1049.7,2184.5 L1050.2,2181.6 L1050.7,2193 L1051.2,2184.2 L1051.7,2180.2 L1052.2,2183.9 L1052.7,2178.8 L1053.2,2179.9 L1053.7,2184.9 L1054.2,2180.7 L1054.7,2181.1 L1055.2,2190.3 L1055.7,2186.7 L1056.2,2186.4 L1056.7,2185.1 L1057.2,2184.8 L1057.7,2189 L1058.2,2182.4 L1058.7,2190.6 L1059.2,2178.2 L1059.7,2181.2 L1060.2,2176.2 L1060.7,2180.7 L1061.2,2184.4 L1061.7,2188.4 L1062.2,2179 L1062.7,2181.9 L1063.2,2180.2 L1063.7,2178.5 L1064.2,2176.4 L1064.7,2181.9 L1065.2,2173.9 L1065.7,2181.9 L1066.2,2181.5 L1066.7,2178.4 L1067.2,2176.8 L1067.7,2175.1 L1068.2,2189.3 L1068.7,2175.1 L1069.2,2187.8 L1069.7,2183.5 L1070.2,2179.2 L1070.7,2175.7 L1071.2,2185.3 L1071.7,2188.2 L1072.2,2176.5 L1072.7,2179.2 L1073.2,2185.1 L1073.7,2181.8 L1074.2,2189.1 L1074.7,2177.7 L1075.2,2182.5 L1075.7,2174.6 L1076.2,2189.2 L1076.7,2176.7 L1077.2,2170.2 L1077.7,2179.3 L1078.2,2179.2 L1078.7,2188.1 L1079.2,2178.1 L1079.7,2179.5 L1080.2,2182.1 L1080.7,2186.4 L1081.2,2179.1 L1081.7,2183.9 L1082.2,2181.5 L1082.7,2177.9 L1083.2,2179.5 L1083.7,2179.2 L1084.2,2175 L1084.7,2184.3 L1085.2,2172.8 L1085.7,2184 L1086.2,2182.9 L1086.7,2178.3 L1087.2,2175.3 L1087.7,2177.6 L1088.2,2180.6 L1088.7,2181.7 L1089.2,2179.6 L1089.7,2182.7 L1090.2,2175.8 L1090.7,2179.2 L1091.2,2171.2 L1091.7,2181.4 L1092.2,2178.7 L1092.7,2176.1 L1093.2,2183 L1093.7,2180.9 L1094.2,2165.4 L1094.7,2177.9 L1095.2,2171.3 L1095.7,2182.3 L1096.2,2188.5 L1096.7,2175.2 L1097.2,2177.8 L1097.7,2176.3 L1098.2,2178.9 L1098.7,2180.1 L1099.2,2182.9 L1099.7,2172.8 L1100.2,2184 L1100.7,2172.9 L1101.2,2178.2 L1101.7,2182 L1102.2,2180 L1102.7,2172.7 L1103.2,2173.6 L1103.7,2174.6 L1104.2,2176.4 L1104.7,2181.6 L1105.2,2170.8 L1105.7,2178.5 L1106.2,2179.1 L1106.7,2178.8 L1107.2,2178.3 L1107.7,2182.9 L1108.2,2178.3 L1108.7,2179.9 L1109.2,2178.5 L1109.7,2183.9 L1110.2,2167.6 L1110.7,2181.5 L1111.2,2174.7 L1111.7,2174.6 L1112.2,2171.5 L1112.7,2167.5 L1113.2,2173.9 L1113.7,2172.5 L1114.2,2177.7 L1114.7,2169 L1115.2,2181.7 L1115.7,2176.6 L1116.2,2174.2 L1116.7,2172.1 L1117.2,2171.7 L1117.7,2170.2 L1118.2,2172.7 L1118.7,2175.1 L1119.2,2174.2 L1119.7,2168.7 L1120.2,2173.7 L1120.7,2170.9 L1121.2,2175.5 L1121.7,2182.9 L1122.2,2177.4 L1122.7,2173.3 L1123.2,2167.4 L1123.7,2168.3 L1124.2,2167.1 L1124.7,2177.6 L1125.2,2171 L1125.7,2174.6 L1126.2,2171.5 L1126.7,2174.6 L1127.2,2180.3 L1127.7,2171.1 L1128.2,2172.6 L1128.7,2170.5 L1129.2,2177.8 L1129.7,2169.4 L1130.2,2168.9 L1130.7,2167.7 L1131.2,2167.6 L1131.7,2175.8 L1132.2,2185 L1132.7,2169.2 L1133.2,2177.8 L1133.7,2174.6 L1134.2,2168.6 L1134.7,2172.2 L1135.2,2172.3 L1135.7,2170.3 L1136.2,2181.8 L1136.7,2164.8 L1137.2,2174.8 L1137.7,2174.6 L1138.2,2170.5 L1138.7,2173.7 L1139.2,2176.8 L1139.7,2173.6 L1140.2,2174.7 L1140.7,2175.8 L1141.2,2163.8 L1141.7,2179.2 L1142.2,2182.7 L1142.7,2176.9 L1143.2,2177 L1143.7,2166.3 L1144.2,2171.9 L1144.7,2168.8 L1145.2,2169.7 L1145.7,2176.5 L1146.2,2168.7 L1146.7,2171.6 L1147.2,2163.7 L1147.7,2171.4 L1148.2,2172.4 L1148.7,2168.9 L1149.2,2168.7 L1149.7,2180.1 L1150.2,2166.5 L1150.7,2167.1 L1151.2,2168.1 L1151.7,2176.9 L1152.2,2180.8 L1152.7,2173 L1153.2,2168.3 L1153.7,2169.5 L1154.2,2176 L1154.7,2167.3 L1155.2,2177.6 L1155.7,2177.4 L1156.2,2171.4 L1156.7,2173.9 L1157.2,2174.3 L1157.7,2177.8 L1158.2,2166.3 L1158.7,2176 L1159.2,2169.1 L1159.7,2167.4 L1160.2,2171.1 L1160.7,2169.7 L1161.2,2166.2 L1161.7,2163.5 L1162.2,2166.3 L1162.7,2176.8 L1163.2,2179 L1163.7,2173.1 L1164.2,2175.4 L1164.7,2167.9 L1165.2,2169.8 L1165.7,2171.3 L1166.2,2165.2 L1166.7,2165.6 L1167.2,2170.3 L1167.7,2168.4 L1168.2,2165 L1168.7,2171.4 L1169.2,2168.4 L1169.7,2174 L1170.2,2169.5 L1170.7,2168.1 L1171.2,2169.9 L1171.7,2168.5 L1172.2,2166.3 L1172.7,2167.4 L1173.2,2172.4 L1173.7,2171.9 L1174.2,2174.6 L1174.7,2161.5 L1175.2,2167.1 L1175.7,2167 L1176.2,2169.5 L1176.7,2166.7 L1177.2,2166.3 L1177.7,2172 L1178.2,2169.2 L1178.7,2163.3 L1179.2,2174.2 L1179.7,2172.6 L1180.2,2165.7 L1180.7,2171.8 L1181.2,2164.8 L1181.7,2173 L1182.2,2167 L1182.7,2164.3 L1183.2,2166.2 L1183.7,2164.4 L1184.2,2168.5 L1184.7,2168.4 L1185.2,2167.7 L1185.7,2165 L1186.2,2151.3 L1186.7,2167.8 L1187.2,2158.9 L1187.7,2168.3 L1188.2,2172.1 L1188.7,2168.3 L1189.2,2165.3 L1189.7,2166.2 L1190.2,2166.3 L1190.7,2164.4 L1191.2,2164.2 L1191.7,2162.6 L1192.2,2171.9 L1192.7,2166.5 L1193.2,2170.7 L1193.7,2165.4 L1194.2,2166.7 L1194.7,2165.6 L1195.2,2168.3 L1195.7,2169.8 L1196.2,2167.2 L1196.7,2163.1 L1197.2,2162.6 L1197.7,2173.3 L1198.2,2164.7 L1198.7,2164.5 L1199.2,2172.2 L1199.7,2170.5 L1200.2,2168 L1200.7,2163.8 L1201.2,2175.9 L1201.7,2167.2 L1202.2,2167.8 L1202.7,2164.6 L1203.2,2159 L1203.7,2159.3 L1204.2,2166.9 L1204.7,2166.8 L1205.2,2164 L1205.7,2159.8 L1206.2,2158.6 L1206.7,2163.4 L1207.2,2158.4 L1207.7,2168.7 L1208.2,2169.7 L1208.7,2177.1 L1209.2,2168.4 L1209.7,2161.9 L1210.2,2160.6 L1210.7,2149.2 L1211.2,2161.7 L1211.7,2163.5 L1212.2,2168.5 L1212.7,2166.8 L1213.2,2166.7 L1213.7,2165 L1214.2,2166.9 L1214.7,2170.3 L1215.2,2159.2 L1215.7,2161.8 L1216.2,2157.6 L1216.7,2170.8 L1217.2,2169.3 L1217.7,2166.9 L1218.2,2158.2 L1218.7,2164.2 L1219.2,2162.3 L1219.7,2163.7 L1220.2,2162.4 L1220.7,2165.5 L1221.2,2161.4 L1221.7,2166.9 L1222.2,2164.1 L1222.7,2161.7 L1223.2,2162.4 L1223.7,2160.9 L1224.2,2166.4 L1224.7,2161.6 L1225.2,2164 L1225.7,2160.9 L1226.2,2156 L1226.7,2166.5 L1227.2,2157.8 L1227.7,2165.4 L1228.2,2164.2 L1228.7,2155 L1229.2,2158.1 L1229.7,2159.9 L1230.2,2158.5 L1230.7,2156.8 L1231.2,2165.2 L1231.7,2160.9 L1232.2,2163.6 L1232.7,2159.9 L1233.2,2163.1 L1233.7,2158.4 L1234.2,2161.5 L1234.7,2164.1 L1235.2,2161.7 L1235.7,2159.4 L1236.2,2156.6 L1236.7,2162.1 L1237.2,2162.8 L1237.7,2160.1 L1238.2,2157.8 L1238.7,2163.5 L1239.2,2172 L1239.7,2159.7 L1240.2,2162.4 L1240.7,2162.5 L1241.2,2149.5 L1241.7,2161.3 L1242.2,2157.6 L1242.7,2166.7 L1243.2,2159.5 L1243.7,2157.1 L1244.2,2159.5 L1244.7,2161.1 L1245.2,2157.9 L1245.7,2160 L1246.2,2154.3 L1246.7,2159.2 L1247.2,2163.5 L1247.7,2168.7 L1248.2,2163.1 L1248.7,2161.1 L1249.2,2165.1 L1249.7,2164.3 L1250.2,2167.1 L1250.7,2164.4 L1251.2,2159.1 L1251.7,2160.7 L1252.2,2160.3 L1252.7,2160.8 L1253.2,2160.3 L1253.7,2155.9 L1254.2,2150 L1254.7,2156.3 L1255.2,2150.2 L1255.7,2159.4 L1256.2,2159.1 L1256.7,2151.6 L1257.2,2162 L1257.7,2162.7 L1258.2,2159.2 L1258.7,2166.1 L1259.2,2166.9 L1259.7,2153.3 L1260.2,2163.1 L1260.7,2160.5 L1261.2,2160.3 L1261.7,2162.5 L1262.2,2155.2 L1262.7,2155.7 L1263.2,2154.6 L1263.7,2154.8 L1264.2,2157.7 L1264.7,2151.7 L1265.2,2153.4 L1265.7,2160.5 L1266.2,2157.6 L1266.7,2159.5 L1267.2,2149.4 L1267.7,2154.2 L1268.2,2155.2 L1268.7,2157.7 L1269.2,2154.9 L1269.7,2161.6 L1270.2,2157.2 L1270.7,2157.4 L1271.2,2157.4 L1271.7,2160.4 L1272.2,2155.1 L1272.7,2162.1 L1273.2,2159.1 L1273.7,2157.7 L1274.2,2157.1 L1274.7,2159.2 L1275.2,2161.3 L1275.7,2160.9 L1276.2,2158.4 L1276.7,2160.5 L1277.2,2157.1 L1277.7,2162.1 L1278.2,2156.4 L1278.7,2147.3 L1279.2,2162.3 L1279.7,2156.8 L1280.2,2151.1 L1280.7,2155.3 L1281.2,2152.3 L1281.7,2165.3 L1282.2,2158.2 L1282.7,2149.1 L1283.2,2158.3 L1283.7,2154.1 L1284.2,2164.2 L1284.7,2151.1 L1285.2,2145.8 L1285.7,2155.9 L1286.2,2154.1 L1286.7,2153.7 L1287.2,2146.1 L1287.7,2157.3 L1288.2,2162.7 L1288.7,2146.9 L1289.2,2160.4 L1289.7,2152.7 L1290.2,2165.5 L1290.7,2157 L1291.2,2154.2 L1291.7,2159.8 L1292.2,2157.2 L1292.7,2152.3 L1293.2,2157.9 L1293.7,2152.5 L1294.2,2146.8 L1294.7,2163.6 L1295.2,2153.1 L1295.7,2151.9 L1296.2,2156 L1296.7,2147.6 L1297.2,2148.4 L1297.7,2152.1 L1298.2,2152 L1298.7,2154.5 L1299.2,2159.1 L1299.7,2152 L1300.2,2156.2 L1300.7,2156.6 L1301.2,2149.2 L1301.7,2154.9 L1302.2,2149.7 L1302.7,2158.5 L1303.2,2155.7 L1303.7,2153.7 L1304.2,2147.7 L1304.7,2154.1 L1305.2,2150.1 L1305.7,2156.6 L1306.2,2152.9 L1306.7,2149.8 L1307.2,2157.4 L1307.7,2156.4 L1308.2,2150.6 L1308.7,2158.3 L1309.2,2151.8 L1309.7,2151.7 L1310.2,2153.5 L1310.7,2149.6 L1311.2,2150.9 L1311.7,2152.1 L1312.2,2159.5 L1312.7,2159.3 L1313.2,2151.5 L1313.7,2159.7 L1314.2,2152.4 L1314.7,2154.2 L1315.2,2156.4 L1315.7,2153.7 L1316.2,2163 L1316.7,2153.4 L1317.2,2147 L1317.7,2158 L1318.2,2150.4 L1318.7,2150.8 L1319.2,2138.9 L1319.7,2156.4 L1320.2,2155.6 L1320.7,2155.4 L1321.2,2156.2 L1321.7,2159.3 L1322.2,2151.6 L1322.7,2155.9 L1323.2,2148.4 L1323.7,2150.1 L1324.2,2156.2 L1324.7,2153.3 L1325.2,2145.6 L1325.7,2153 L1326.2,2150.6 L1326.7,2147.7 L1327.2,2153.2 L1327.7,2149.5 L1328.2,2144.3 L1328.7,2146.3 L1329.2,2158.9 L1329.7,2144.4 L1330.2,2152 L1330.7,2153.7 L1331.2,2153.7 L1331.7,2145.5 L1332.2,2149.4 L1332.7,2151.4 L1333.2,2154.3 L1333.7,2147.9 L1334.2,2145.5 L1334.7,2155 L1335.2,2155.4 L1335.7,2152.1 L1336.2,2147.8 L1336.7,2152.2 L1337.2,2150.9 L1337.7,2154 L1338.2,2144.8 L1338.7,2150.8 L1339.2,2149.5 L1339.7,2145.3 L1340.2,2151.1 L1340.7,2150.2 L1341.2,2148.2 L1341.7,2151.7 L1342.2,2143.7 L1342.7,2149.7 L1343.2,2151.8 L1343.7,2151.1 L1344.2,2154.5 L1344.7,2144.4 L1345.2,2143.1 L1345.7,2150.7 L1346.2,2151.6 L1346.7,2158.9 L1347.2,2152.2 L1347.7,2145.6 L1348.2,2153 L1348.7,2145.7 L1349.2,2142.8 L1349.7,2160.8 L1350.2,2150.7 L1350.7,2152.4 L1351.2,2151.7 L1351.7,2157.1 L1352.2,2150.4 L1352.7,2154.4 L1353.2,2144.5 L1353.7,2142.9 L1354.2,2155.2 L1354.7,2155.4 L1355.2,2151.1 L1355.7,2149.8 L1356.2,2149.5 L1356.7,2145.7 L1357.2,2155.5 L1357.7,2151.6 L1358.2,2150.9 L1358.7,2150.2 L1359.2,2153.2 L1359.7,2150.7 L1360.2,2151.8 L1360.7,2143.3 L1361.2,2150.6 L1361.7,2158 L1362.2,2146 L1362.7,2147.7 L1363.2,2152.2 L1363.7,2152.4 L1364.2,2150.9 L1364.7,2141 L1365.2,2150.3 L1365.7,2142.9 L1366.2,2144.4 L1366.7,2150.4 L1367.2,2146.6 L1367.7,2151.5 L1368.2,2161.7 L1368.7,2151.3 L1369.2,2151 L1369.7,2143.8 L1370.2,2144.9 L1370.7,2143 L1371.2,2145.3 L1371.7,2142.8 L1372.2,2144.7 L1372.7,2146.6 L1373.2,2143.1 L1373.7,2141.2 L1374.2,2141.5 L1374.7,2149.4 L1375.2,2147.6 L1375.7,2151.8 L1376.2,2151.9 L1376.7,2145.8 L1377.2,2150.2 L1377.7,2140.9 L1378.2,2157.2 L1378.7,2152.4 L1379.2,2146.1 L1379.7,2141.9 L1380.2,2148.7 L1380.7,2138.8 L1381.2,2143.5 L1381.7,2150.2 L1382.2,2147.2 L1382.7,2144.7 L1383.2,2151 L1383.7,2142.2 L1384.2,2148 L1384.7,2144.5 L1385.2,2143 L1385.7,2148.7 L1386.2,2142.2 L1386.7,2154.9 L1387.2,2144 L1387.7,2155.3 L1388.2,2141.7 L1388.7,2149.1 L1389.2,2141.1 L1389.7,2140.5 L1390.2,2147.1 L1390.7,2149.3 L1391.2,2140.7 L1391.7,2151.5 L1392.2,2142.7 L1392.7,2146.8 L1393.2,2147.8 L1393.7,2148.7 L1394.2,2138.2 L1394.7,2153.2 L1395.2,2148.5 L1395.7,2144.1 L1396.2,2141.5 L1396.7,2138.5 L1397.2,2139.9 L1397.7,2148.3 L1398.2,2144.3 L1398.7,2140.8 L1399.2,2143.5 L1399.7,2152.6 L1400.2,2144.3 L1400.7,2143.1 L1401.2,2151.6 L1401.7,2147.6 L1402.2,2145.8 L1402.7,2142.9 L1403.2,2138.7 L1403.7,2140.3 L1404.2,2143.3 L1404.7,2144.5 L1405.2,2147 L1405.7,2147.8 L1406.2,2146.3 L1406.7,2146.3 L1407.2,2140.8 L1407.7,2135.8 L1408.2,2142.9 L1408.7,2141 L1409.2,2142.3 L1409.7,2143.9 L1410.2,2139.6 L1410.7,2140.2 L1411.2,2144.6 L1411.7,2145.5 L1412.2,2142.1 L1412.7,2147.1 L1413.2,2144 L1413.7,2140.4 L1414.2,2145 L1414.7,2153.1 L1415.2,2141.8 L1415.7,2149.9 L1416.2,2150.8 L1416.7,2151.3 L1417.2,2141.1 L1417.7,2153.5 L1418.2,2145.1 L1418.7,2143.5 L1419.2,2143.6 L1419.7,2147.2 L1420.2,2144.7 L1420.7,2143.7 L1421.2,2150.1 L1421.7,2141.2 L1422.2,2139.8 L1422.7,2147.9 L1423.2,2147.4 L1423.7,2149.1 L1424.2,2139.6 L1424.7,2149 L1425.2,2146.3 L1425.7,2152 L1426.2,2138.7 L1426.7,2145.1 L1427.2,2142.9 L1427.7,2137.1 L1428.2,2140.9 L1428.7,2149 L1429.2,2141.9 L1429.7,2140.8 L1430.2,2147.8 L1430.7,2148.3 L1431.2,2148.2 L1431.7,2140.4 L1432.2,2143.6 L1432.7,2148.3 L1433.2,2140.9 L1433.7,2140.5 L1434.2,2147.4 L1434.7,2150.6 L1435.2,2138.6 L1435.7,2132.2 L1436.2,2137.2 L1436.7,2139.1 L1437.2,2143 L1437.7,2146.2 L1438.2,2142.9 L1438.7,2140.4 L1439.2,2144.1 L1439.7,2139.2 L1440.2,2143.2 L1440.7,2140.5 L1441.2,2155.1 L1441.7,2146.9 L1442.2,2139.6 L1442.7,2138.9 L1443.2,2141.3 L1443.7,2136 L1444.2,2140 L1444.7,2139.9 L1445.2,2147 L1445.7,2141.2 L1446.2,2139.6 L1446.7,2137.1 L1447.2,2137.8 L1447.7,2142.7 L1448.2,2142 L1448.7,2147.9 L1449.2,2140.1 L1449.7,2147.5 L1450.2,2144 L1450.7,2142.8 L1451.2,2134 L1451.7,2137.1 L1452.2,2146 L1452.7,2148.9 L1453.2,2143.6 L1453.7,2146 L1454.2,2140.9 L1454.7,2141 L1455.2,2139.7 L1455.7,2146.9 L1456.2,2144.1 L1456.7,2141.5 L1457.2,2141 L1457.7,2144.9 L1458.2,2143.9 L1458.7,2138.8 L1459.2,2149.9 L1459.7,2143.5 L1460.2,2142.4 L1460.7,2148.8 L1461.2,2146.8 L1461.7,2141.9 L1462.2,2144.6 L1462.7,2137.5 L1463.2,2139.4 L1463.7,2132.2 L1464.2,2147.5 L1464.7,2133.8 L1465.2,2145.1 L1465.7,2138.4 L1466.2,2137.7 L1466.7,2141.1 L1467.2,2143.1 L1467.7,2144.6 L1468.2,2149.7 L1468.7,2143.5 L1469.2,2145.8 L1469.7,2139.2 L1470.2,2145 L1470.7,2142.5 L1471.2,2139.7 L1471.7,2141.3 L1472.2,2141.5 L1472.7,2142.5 L1473.2,2143.4 L1473.7,2139.4 L1474.2,2138.4 L1474.7,2144.9 L1475.2,2134.1 L1475.7,2138.8 L1476.2,2148.4 L1476.7,2129.6 L1477.2,2138.4 L1477.7,2144.5 L1478.2,2134.2 L1478.7,2152.8 L1479.2,2130 L1479.7,2147.7 L1480.2,2148.2 L1480.7,2145.3 L1481.2,2140.3 L1481.7,2142.8 L1482.2,2137.3 L1482.7,2144.8 L1483.2,2136.3 L1483.7,2140 L1484.2,2145.5 L1484.7,2136.2 L1485.2,2139.5 L1485.7,2141.8 L1486.2,2135.1 L1486.7,2146.2 L1487.2,2142.5 L1487.7,2134.3 L1488.2,2140.8 L1488.7,2137.5 L1489.2,2138 L1489.7,2141.2 L1490.2,2137.7 L1490.7,2145.1 L1491.2,2137.7 L1491.7,2145.1 L1492.2,2140.6 L1492.7,2144.5 L1493.2,2138.3 L1493.7,2138.5 L1494.2,2135.6 L1494.7,2143.2 L1495.2,2144.8 L1495.7,2149.9 L1496.2,2146.3 L1496.7,2141.7 L1497.2,2139.6 L1497.7,2142.2 L1498.2,2140.4 L1498.7,2146.9 L1499.2,2144.6 L1499.7,2136.8 L1500.2,2137.4 L1500.7,2146.4 L1501.2,2141.7 L1501.7,2139.3 L1502.2,2145.6 L1502.7,2138.6 L1503.2,2139.1 L1503.7,2138.2 L1504.2,2131.6 L1504.7,2144 L1505.2,2134.9 L1505.7,2137.7 L1506.2,2136.9 L1506.7,2143.3 L1507.2,2139.8 L1507.7,2140.2 L1508.2,2132.7 L1508.7,2139.7 L1509.2,2133.5 L1509.7,2141.4 L1510.2,2141.6 L1510.7,2139.9 L1511.2,2148.9 L1511.7,2142.3 L1512.2,2142.5 L1512.7,2140.5 L1513.2,2139 L1513.7,2144.1 L1514.2,2144.7 L1514.7,2134.1 L1515.2,2144.4 L1515.7,2142 L1516.2,2144 L1516.7,2141.8 L1517.2,2134.2 L1517.7,2134.5 L1518.2,2147.7 L1518.7,2140.8 L1519.2,2133.4 L1519.7,2141.1 L1520.2,2138 L1520.7,2131.5 L1521.2,2129.5 L1521.7,2132.5 L1522.2,2140.7 L1522.7,2139.3 L1523.2,2138.4 L1523.7,2140.7 L1524.2,2142.1 L1524.7,2130.2 L1525.2,2138.1 L1525.7,2135.7 L1526.2,2133.9 L1526.7,2136.9 L1527.2,2138.8 L1527.7,2138.1 L1528.2,2132.9 L1528.7,2137.1 L1529.2,2148.1 L1529.7,2134.6 L1530.2,2131.8 L1530.7,2140.4 L1531.2,2141.8 L1531.7,2141.2 L1532.2,2134.2 L1532.7,2143.5 L1533.2,2135.6 L1533.7,2134.1 L1534.2,2136.4 L1534.7,2138.6 L1535.2,2142.2 L1535.7,2141.8 L1536.2,2138.9 L1536.7,2143.1 L1537.2,2139.3 L1537.7,2142.9 L1538.2,2132.8 L1538.7,2132 L1539.2,2142.3 L1539.7,2132.8 L1540.2,2137.5 L1540.7,2138.4 L1541.2,2136.7 L1541.7,2136.8 L1542.2,2144.9 L1542.7,2127.6 L1543.2,2142.6 L1543.7,2148.8 L1544.2,2138.8 L1544.7,2138.6 L1545.2,2141.9 L1545.7,2146.7 L1546.2,2133.4 L1546.7,2139 L1547.2,2137.8 L1547.7,2141.1 L1548.2,2139.3 L1548.7,2141.5 L1549.2,2136.7 L1549.7,2138.8 L1550.2,2135.6 L1550.7,2135.6 L1551.2,2137.9 L1551.7,2137.9 L1552.2,2133.3 L1552.7,2145.4 L1553.2,2137.8 L1553.7,2132.3 L1554.2,2143.3 L1554.7,2135.1 L1555.2,2140.6 L1555.7,2138.3 L1556.2,2139.4 L1556.7,2139.1 L1557.2,2135.8 L1557.7,2138.5 L1558.2,2147.2 L1558.7,2128.4 L1559.2,2138.5 L1559.7,2140.2 L1560.2,2133.6 L1560.7,2132.2 L1561.2,2147.7 L1561.7,2136.5 L1562.2,2147.3 L1562.7,2140.5 L1563.2,2138.5 L1563.7,2140.2 L1564.2,2140.9 L1564.7,2143.3 L1565.2,2140 L1565.7,2138.7 L1566.2,2138.8 L1566.7,2144 L1567.2,2141.6 L1567.7,2133.6 L1568.2,2135.2 L1568.7,2139.4 L1569.2,2135.2 L1569.7,2136.3 L1570.2,2133.7 L1570.7,2136.8 L1571.2,2139.8 L1571.7,2142.3 L1572.2,2137.9 L1572.7,2147 L1573.2,2137.5 L1573.7,2151.9 L1574.2,2142.3 L1574.7,2140 L1575.2,2135.6 L1575.7,2125.4 L1576.2,2137.1 L1576.7,2138.6 L1577.2,2146.2 L1577.7,2131.7 L1578.2,2146.1 L1578.7,2136.6 L1579.2,2140.9 L1579.7,2126.5 L1580.2,2138.3 L1580.7,2136.2 L1581.2,2140.7 L1581.7,2138.1 L1582.2,2132.6 L1582.7,2141.8 L1583.2,2140.7 L1583.7,2140.3 L1584.2,2142.1 L1584.7,2142.4 L1585.2,2137.5 L1585.7,2131.6 L1586.2,2131.5 L1586.7,2143.5 L1587.2,2140.7 L1587.7,2138 L1588.2,2135.6 L1588.7,2137.7 L1589.2,2137.6 L1589.7,2136 L1590.2,2134.4 L1590.7,2147 L1591.2,2138.5 L1591.7,2134.8 L1592.2,2131.7 L1592.7,2134.3 L1593.2,2140.6 L1593.7,2140.8 L1594.2,2136.5 L1594.7,2137.6 L1595.2,2136.1 L1595.7,2132.5 L1596.2,2143.1 L1596.7,2139 L1597.2,2148.3 L1597.7,2134 L1598.2,2136.8 L1598.7,2141.2 L1599.2,2136.3 L1599.7,2131.2 L1600.2,2133.2 L1600.7,2137.8 L1601.2,2138.8 L1601.7,2136.9 L1602.2,2141.7 L1602.7,2141.7 L1603.2,2138.7 L1603.7,2137.4 L1604.2,2136.2 L1604.7,2139.7 L1605.2,2141.3 L1605.7,2137.5 L1606.2,2139.2 L1606.7,2135.8 L1607.2,2131 L1607.7,2132.8 L1608.2,2140.6 L1608.7,2139.2 L1609.2,2144.2 L1609.7,2137.5 L1610.2,2141 L1610.7,2143 L1611.2,2141.6 L1611.7,2134.5 L1612.2,2136.4 L1612.7,2137.7 L1613.2,2132.8 L1613.7,2139.3 L1614.2,2141.7 L1614.7,2135 L1615.2,2145.8 L1615.7,2135.9 L1616.2,2136.2 L1616.7,2136.1 L1617.2,2134 L1617.7,2139 L1618.2,2137.2 L1618.7,2144.4 L1619.2,2139.8 L1619.7,2139.5 L1620.2,2136.1 L1620.7,2130.9 L1621.2,2136.7 L1621.7,2133.3 L1622.2,2141.3 L1622.7,2136.9 L1623.2,2144.4 L1623.7,2140.3 L1624.2,2140.7 L1624.7,2138.1 L1625.2,2138 L1625.7,2139.9 L1626.2,2141.1 L1626.7,2133.9 L1627.2,2139.2 L1627.7,2148.6 L1628.2,2136.6 L1628.7,2135.9 L1629.2,2134 L1629.7,2130.6 L1630.2,2142.3 L1630.7,2137.3 L1631.2,2138.3 L1631.7,2145.1 L1632.2,2148 L1632.7,2133.1 L1633.2,2141.6 L1633.7,2139.7 L1634.2,2138.8 L1634.7,2139.1 L1635.2,2136.9 L1635.7,2144 L1636.2,2139.7 L1636.7,2138.5 L1637.2,2142.5 L1637.7,2140.9 L1638.2,2139 L1638.7,2138.4 L1639.2,2144.7 L1639.7,2139.2 L1640.2,2136.6 L1640.7,2133.2 L1641.2,2135.4 L1641.7,2132.3 L1642.2,2137.4 L1642.7,2138.1 L1643.2,2127.9 L1643.7,2137 L1644.2,2139.8 L1644.7,2137.7 L1645.2,2132.7 L1645.7,2142.5 L1646.2,2133.9 L1646.7,2131.5 L1647.2,2132.2 L1647.7,2136.9 L1648.2,2141.2 L1648.7,2142 L1649.2,2137.8 L1649.7,2131.7 L1650.2,2134 L1650.7,2133 L1651.2,2136.1 L1651.7,2129.1 L1652.2,2137.4 L1652.7,2139.7 L1653.2,2136.2 L1653.7,2138.9 L1654.2,2132.8 L1654.7,2130.5 L1655.2,2134.1 L1655.7,2142 L1656.2,2141.4 L1656.7,2134.9 L1657.2,2142.2 L1657.7,2135.4 L1658.2,2143.5 L1658.7,2139 L1659.2,2134.9 L1659.7,2140.4 L1660.2,2133.4 L1660.7,2132.7 L1661.2,2130.5 L1661.7,2138 L1662.2,2136.6 L1662.7,2136.5 L1663.2,2135 L1663.7,2143.2 L1664.2,2135 L1664.7,2133.6 L1665.2,2142.3 L1665.7,2143.1 L1666.2,2138.3 L1666.7,2129.2 L1667.2,2134.2 L1667.7,2139.5 L1668.2,2136.9 L1668.7,2143.6 L1669.2,2130.8 L1669.7,2139.8 L1670.2,2134 L1670.7,2142.6 L1671.2,2136.5 L1671.7,2141.3 L1672.2,2133.9 L1672.7,2130.6 L1673.2,2131.9 L1673.7,2134.1 L1674.2,2132.3 L1674.7,2142 L1675.2,2142.7 L1675.7,2138 L1676.2,2132.2 L1676.7,2136.2 L1677.2,2133.7 L1677.7,2143.1 L1678.2,2138.1 L1678.7,2138.9 L1679.2,2135 L1679.7,2127.9 L1680.2,2133.3 L1680.7,2131.8 L1681.2,2138.4 L1681.7,2137.1 L1682.2,2133.2 L1682.7,2135 L1683.2,2143.6 L1683.7,2132.5 L1684.2,2132.7 L1684.7,2135.7 L1685.2,2133.6 L1685.7,2134.8 L1686.2,2139 L1686.7,2144.3 L1687.2,2128.8 L1687.7,2136.6 L1688.2,2136.9 L1688.7,2136.3 L1689.2,2135.8 L1689.7,2135.2 L1690.2,2141.1 L1690.7,2134.6 L1691.2,2136.1 L1691.7,2136.6 L1692.2,2137.1 L1692.7,2135.9 L1693.2,2141 L1693.7,2136.6 L1694.2,2137.4 L1694.7,2136.4 L1695.2,2132.2 L1695.7,2132.9 L1696.2,2132 L1696.7,2137.4 L1697.2,2133.4 L1697.7,2131.9 L1698.2,2137.6 L1698.7,2138.9 L1699.2,2128.8 L1699.7,2144 L1700.2,2136.7 L1700.7,2136.1 L1701.2,2141.2 L1701.7,2136.8 L1702.2,2133.9 L1702.7,2146.2 L1703.2,2131.8 L1703.7,2136.1 L1704.2,2140.2 L1704.7,2131.8 L1705.2,2136 L1705.7,2138.2 L1706.2,2147.1 L1706.7,2132.5 L1707.2,2136.3 L1707.7,2139.4 L1708.2,2136.8 L1708.7,2131.2 L1709.2,2138.2 L1709.7,2136.9 L1710.2,2138.4 L1710.7,2141.4 L1711.2,2140.9 L1711.7,2138.2 L1712.2,2137.8 L1712.7,2131.6 L1713.2,2135.8 L1713.7,2137.4 L1714.2,2134.6 L1714.7,2136.8 L1715.2,2132.7 L1715.7,2143.1 L1716.2,2145.8 L1716.7,2134.6 L1717.2,2138.1 L1717.7,2135.3 L1718.2,2141.9 L1718.7,2138.2 L1719.2,2136.7 L1719.7,2135.3 L1720.2,2136.9 L1720.7,2131.9 L1721.2,2139.3 L1721.7,2133.1 L1722.2,2138.6 L1722.7,2136.8 L1723.2,2141.1 L1723.7,2136.2 L1724.2,2140.8 L1724.7,2132.2 L1725.2,2138.9 L1725.7,2135.2 L1726.2,2137.1 L1726.7,2136.5 L1727.2,2140.3 L1727.7,2127.3 L1728.2,2137.6 L1728.7,2129.6 L1729.2,2141.5 L1729.7,2127.5 L1730.2,2131.8 L1730.7,2128.8 L1731.2,2143.4 L1731.7,2130.5 L1732.2,2136.6 L1732.7,2133.8 L1733.2,2128.2 L1733.7,2134.6 L1734.2,2139 L1734.7,2135.3 L1735.2,2140.2 L1735.7,2134.5 L1736.2,2136.1 L1736.7,2134.4 L1737.2,2137.6 L1737.7,2144.4 L1738.2,2137.7 L1738.7,2136.9 L1739.2,2133.3 L1739.7,2132.7 L1740.2,2142.5 L1740.7,2131.1 L1741.2,2132 L1741.7,2135.6 L1742.2,2134.1 L1742.7,2144.6 L1743.2,2125.6 L1743.7,2137.6 L1744.2,2139.1 L1744.7,2131 L1745.2,2133.1 L1745.7,2137.9 L1746.2,2143.1 L1746.7,2131.9 L1747.2,2129 L1747.7,2140.2 L1748.2,2142.6 L1748.7,2134.4 L1749.2,2126.2 L1749.7,2142.3 L1750.2,2135 L1750.7,2140.8 L1751.2,2135.7 L1751.7,2134.2 L1752.2,2133.9 L1752.7,2142.3 L1753.2,2142.2 L1753.7,2126.4 L1754.2,2131.7 L1754.7,2143.7 L1755.2,2134.2 L1755.7,2129.8 L1756.2,2135.8 L1756.7,2135.3 L1757.2,2135.4 L1757.7,2133.7 L1758.2,2134.4 L1758.7,2133.8 L1759.2,2137.2 L1759.7,2132.2 L1760.2,2134.5 L1760.7,2135.1 L1761.2,2141.5 L1761.7,2137.4 L1762.2,2135.3 L1762.7,2138.1 L1763.2,2137.5 L1763.7,2140.5 L1764.2,2137.9 L1764.7,2143.6 L1765.2,2141.6 L1765.7,2135.5 L1766.2,2133.9 L1766.7,2139.6 L1767.2,2138 L1767.7,2135.3 L1768.2,2129.2 L1768.7,2127.6 L1769.2,2137.2 L1769.7,2139 L1770.2,2139.2 L1770.7,2130 L1771.2,2140.2 L1771.7,2133.3 L1772.2,2137.3 L1772.7,2137.5 L1773.2,2132.1 L1773.7,2133 L1774.2,2126.5 L1774.7,2131.6 L1775.2,2127.7 L1775.7,2137.5 L1776.2,2135.9 L1776.7,2139.6 L1777.2,2137.1 L1777.7,2132.8 L1778.2,2137.1 L1778.7,2133.8 L1779.2,2138.2 L1779.7,2136.9 L1780.2,2131.2 L1780.7,2135.6 L1781.2,2135.8 L1781.7,2134.2 L1782.2,2139.5 L1782.7,2143.1 L1783.2,2133.9 L1783.7,2134 L1784.2,2125.6 L1784.7,2135 L1785.2,2133.6 L1785.7,2126 L1786.2,2136.8 L1786.7,2138.1 L1787.2,2132.3 L1787.7,2133.9 L1788.2,2131.2 L1788.7,2138.8 L1789.2,2128.8 L1789.7,2134.1 L1790.2,2144.1 L1790.7,2135.7 L1791.2,2137.5 L1791.7,2134.8 L1792.2,2130.3 L1792.7,2135.3 L1793.2,2137.3 L1793.7,2131 L1794.2,2137 L1794.7,2140.9 L1795.2,2140.2 L1795.7,2128.5 L1796.2,2131.2 L1796.7,2128.3 L1797.2,2140.2 L1797.7,2138.1 L1798.2,2138.5 L1798.7,2131.6 L1799.2,2130.3 L1799.7,2135.8 L1800.2,2135.9 L1800.7,2131.7 L1801.2,2136.1 L1801.7,2138.3 L1802.2,2136.4 L1802.7,2130.8 L1803.2,2126.1 L1803.7,2134.3 L1804.2,2136.1 L1804.7,2134.3 L1805.2,2133.5 L1805.7,2132.4 L1806.2,2138.6 L1806.7,2135.2 L1807.2,2136 L1807.7,2131.1 L1808.2,2132.7 L1808.7,2136.1 L1809.2,2131 L1809.7,2129.9 L1810.2,2134 L1810.7,2140.7 L1811.2,2136.2 L1811.7,2141.8 L1812.2,2134.8 L1812.7,2134 L1813.2,2129.3 L1813.7,2132.9 L1814.2,2141.7 L1814.7,2136.8 L1815.2,2138.6 L1815.7,2138.5 L1816.2,2135.4 L1816.7,2134.5 L1817.2,2135.9 L1817.7,2138.4 L1818.2,2137.4 L1818.7,2137.6 L1819.2,2136.1 L1819.7,2132 L1820.2,2134.3 L1820.7,2131.3 L1821.2,2139.8 L1821.7,2126.2 L1822.2,2134.5 L1822.7,2145.9 L1823.2,2133.9 L1823.7,2130.4 L1824.2,2135.3 L1824.7,2141.1 L1825.2,2134.7 L1825.7,2138.1 L1826.2,2135.9 L1826.7,2133.8 L1827.2,2149.3 L1827.7,2135.7 L1828.2,2133.1 L1828.7,2133.3 L1829.2,2137.1 L1829.7,2137.2 L1830.2,2138.8 L1830.7,2136.1 L1831.2,2129.1 L1831.7,2137.8 L1832.2,2134.1 L1832.7,2134.2 L1833.2,2128.9 L1833.7,2132.9 L1834.2,2132.3 L1834.7,2135.3 L1835.2,2129.1 L1835.7,2135.7 L1836.2,2136 L1836.7,2130.5 L1837.2,2132.7 L1837.7,2131.7 L1838.2,2139.5 L1838.7,2124.3 L1839.2,2134 L1839.7,2128.2 L1840.2,2133.6 L1840.7,2139.2 L1841.2,2132.7 L1841.7,2136.1 L1842.2,2131.8 L1842.7,2144 L1843.2,2139.5 L1843.7,2140.5 L1844.2,2129.7 L1844.7,2130.7 L1845.2,2140.3 L1845.7,2134.7 L1846.2,2134.4 L1846.7,2137 L1847.2,2130 L1847.7,2138.9 L1848.2,2135.6 L1848.7,2137.6 L1849.2,2132.6 L1849.7,2137.8 L1850.2,2132.4 L1850.7,2139.7 L1851.2,2140.5 L1851.7,2139.6 L1852.2,2137.8 L1852.7,2138.3 L1853.2,2123.7 L1853.7,2139.2 L1854.2,2134.4 L1854.7,2136 L1855.2,2134.3 L1855.7,2129.5 L1856.2,2133.2 L1856.7,2138.5 L1857.2,2141.8 L1857.7,2132.9 L1858.2,2131.6 L1858.7,2142 L1859.2,2131.7 L1859.7,2144.7 L1860.2,2135.8 L1860.7,2131.7 L1861.2,2139.9 L1861.7,2143.1 L1862.2,2129.3 L1862.7,2142.5 L1863.2,2134.4 L1863.7,2142.2 L1864.2,2134 L1864.7,2128.7 L1865.2,2137.9 L1865.7,2139.7 L1866.2,2144.9 L1866.7,2143.2 L1867.2,2138.7 L1867.7,2134.6 L1868.2,2133.4 L1868.7,2134.4 L1869.2,2132 L1869.7,2134.5 L1870.2,2124.5 L1870.7,2136.5 L1871.2,2135.6 L1871.7,2147 L1872.2,2139 L1872.7,2133.6 L1873.2,2138.2 L1873.7,2130.3 L1874.2,2133.1 L1874.7,2127.5 L1875.2,2142.1 L1875.7,2138.3 L1876.2,2130.6 L1876.7,2135.5 L1877.2,2139.9 L1877.7,2137.9 L1878.2,2137.4 L1878.7,2132 L1879.2,2133 L1879.7,2136.2 L1880.2,2139.8 L1880.7,2132.1 L1881.2,2130.8 L1881.7,2140.8 L1882.2,2131.7 L1882.7,2140.5 L1883.2,2136.9 L1883.7,2139.7 L1884.2,2143.5 L1884.7,2138.8 L1885.2,2139.2 L1885.7,2131.8 L1886.2,2132.8 L1886.7,2138.7 L1887.2,2142.6 L1887.7,2142 L1888.2,2146 L1888.7,2137.2 L1889.2,2136.7 L1889.7,2140.3 L1890.2,2135.9 L1890.7,2135.6 L1891.2,2131.3 L1891.7,2140.2 L1892.2,2131.2 L1892.7,2138.1 L1893.2,2129.7 L1893.7,2140.7 L1894.2,2131.4 L1894.7,2139.6 L1895.2,2128.9 L1895.7,2134 L1896.2,2141.1 L1896.7,2132.4 L1897.2,2136.2 L1897.7,2133.8 L1898.2,2125.8 L1898.7,2137.3 L1899.2,2137.9 L1899.7,2131.1 L1900.2,2138.5 L1900.7,2132.5 L1901.2,2131.6 L1901.7,2136 L1902.2,2133 L1902.7,2146.1 L1903.2,2129.2 L1903.7,2139.2 L1904.2,2140.4 L1904.7,2127.3 L1905.2,2128.4 L1905.7,2138.5 L1906.2,2133.9 L1906.7,2137.7 L1907.2,2141 L1907.7,2134.4 L1908.2,2131.4 L1908.7,2124 L1909.2,2137 L1909.7,2132 L1910.2,2137.4 L1910.7,2137.1 L1911.2,2130 L1911.7,2143.7 L1912.2,2140.8 L1912.7,2139.8 L1913.2,2130.9 L1913.7,2134.3 L1914.2,2133.7 L1914.7,2134.3 L1915.2,2131.2 L1915.7,2138 L1916.2,2137.1 L1916.7,2137.7 L1917.2,2133.9 L1917.7,2141.8 L1918.2,2137 L1918.7,2124.1 L1919.2,2133.3 L1919.7,2135.9 L1920.2,2140.4 L1920.7,2134.8 L1921.2,2135.1 L1921.7,2133.3 L1922.2,2139.1 L1922.7,2134.2 L1923.2,2133.5 L1923.7,2132.9 L1924.2,2138.7 L1924.7,2133.9 L1925.2,2128.8 L1925.7,2139 L1926.2,2133.1 L1926.7,2137.8 L1927.2,2137.9 L1927.7,2141.5 L1928.2,2140.8 L1928.7,2133.7 L1929.2,2135.5 L1929.7,2130.6 L1930.2,2143.6 L1930.7,2138.2 L1931.2,2142.4 L1931.7,2134.9 L1932.2,2127.3 L1932.7,2143 L1933.2,2136.7 L1933.7,2136.9 L1934.2,2136.6 L1934.7,2139.2 L1935.2,2138.7 L1935.7,2129.3 L1936.2,2141.1 L1936.7,2134 L1937.2,2134.3 L1937.7,2143.9 L1938.2,2140.4 L1938.7,2134.9 L1939.2,2128.2 L1939.7,2137.1 L1940.2,2138.7 L1940.7,2136 L1941.2,2130.9 L1941.7,2132.9 L1942.2,2130.9 L1942.7,2137.3 L1943.2,2140 L1943.7,2140.9 L1944.2,2133.2 L1944.7,2137.5 L1945.2,2138.9 L1945.7,2134.2 L1946.2,2135.8 L1946.7,2145.8 L1947.2,2137.3 L1947.7,2140.3 L1948.2,2134.5 L1948.7,2136.6 L1949.2,2128.9 L1949.7,2136.4 L1950.2,2141.7 L1950.7,2145.7 L1951.2,2141.8 L1951.7,2139.5 L1952.2,2136.7 L1952.7,2133.9 L1953.2,2135.8 L1953.7,2139.2 L1954.2,2133.1 L1954.7,2140.6 L1955.2,2132.2 L1955.7,2128.7 L1956.2,2132.1 L1956.7,2129.2 L1957.2,2130.5 L1957.7,2141.5 L1958.2,2135.7 L1958.7,2137.5 L1959.2,2141.7 L1959.7,2142.1 L1960.2,2134.4 L1960.7,2142.4 L1961.2,2138.3 L1961.7,2136.6 L1962.2,2138.5 L1962.7,2130.3" fill="none" stroke="#FF0000" stroke-width="6.6" stroke-linejoin="round" stroke-linecap="round"/>
<path d="M30.7,2512.8 L31.7,2512.8 L32.7,2512.8 L33.7,2512.8 L34.7,2512.8 L35.7,2512.8 L36.7,2512.8 L37.7,2512.8 L38.7,2512.8 L39.7,2512.8 L40.7,2512.8 L41.7,2512.8 L42.7,2512.8 L43.7,2512.8 L44.7,2512.8 L45.7,2512.8 L46.7,2512.8 L47.7,2512.8 L48.7,2512.8 L49.7,2512.8 L50.7,2512.8 L51.7,2512.8 L52.7,2512.8 L53.7,2512.8 L54.7,2512.8 L55.7,2512.8 L56.7,2512.8 L57.7,2512.8 L58.7,2512.8 L59.7,2512.8 L60.7,2512.8 L61.7,2512.8 L62.7,2512.8 L63.7,2512.8 L64.7,2512.8 L65.7,2512.8 L66.7,2512.8 L67.7,2512.8 L68.7,2512.8 L69.7,2512.8 L70.7,2512.8 L71.7,2512.8 L72.7,2512.8 L73.7,2512.8 L74.7,2512.8 L75.7,2512.8 L76.7,2512.8 L77.7,2512.8 L78.7,2512.8 L79.7,2512.8 L80.7,2512.8 L81.7,2512.8 L82.7,2512.8 L83.7,2512.8 L84.7,2512.8 L85.7,2512.8 L86.7,2512.8 L87.7,2512.8 L88.7,2512.8 L89.7,2512.8 L90.7,2512.8 L91.7,2512.8 L92.7,2512.8 L93.7,2512.8 L94.7,2512.8 L95.7,2512.8 L96.7,2512.8 L97.7,2512.8 L98.7,2512.8 L99.7,2512.8 L100.7,2512.8 L101.7,2512.8 L102.7,2512.8 L103.7,2512.8 L104.7,2512.8 L105.7,2512.8 L106.7,2512.8 L107.7,2512.8 L108.7,2512.8 L109.7,2512.8 L110.7,2512.8 L111.7,2512.8 L112.7,2512.8 L113.7,2512.8 L114.7,2512.8 L115.7,2512.8 L116.7,2512.8 L117.7,2512.8 L118.7,2512.8 L119.7,2512.8 L120.7,2512.8 L121.7,2512.8 L122.7,2512.8 L123.7,2512.8 L124.7,2512.8 L125.7,2512.8 L126.7,2512.8 L127.7,2512.8 L128.7,2512.8 L129.7,2512.8 L130.7,2512.8 L131.7,2512.8 L132.7,2512.8 L133.7,2512.8 L134.7,2512.8 L135.7,2512.8 L136.7,2512.8 L137.7,2512.8 L138.7,2512.8 L139.7,2512.8 L140.7,2512.8 L141.7,2512.8 L142.7,2512.8 L143.7,2512.8 L144.7,2512.8 L145.7,2512.8 L146.7,2512.8 L147.7,2512.8 L148.7,2512.8 L149.7,2512.8 L150.7,2512.8 L151.7,2512.8 L152.7,2512.8 L153.7,2512.8 L154.7,2512.8 L155.7,2512.8 L156.7,2512.8 L157.7,2512.8 L158.7,2512.8 L159.7,2512.8 L160.7,2512.8 L161.7,2512.8 L162.7,2512.8 L163.7,2512.8 L164.7,2512.8 L165.7,2512.8 L166.7,2512.8 L167.7,2512.8 L168.7,2512.8 L169.7,2512.8 L170.7,2512.8 L171.7,2512.8 L172.7,2512.8 L173.7,2512.8 L174.7,2512.8 L175.7,2512.8 L176.7,2512.8 L177.7,2512.8 L178.7,2512.8 L179.7,2512.8 L180.7,2512.8 L181.7,2512.8 L182.7,2512.8 L183.7,2512.8 L184.7,2512.8 L185.7,2512.8 L186.7,2512.8 L187.7,2512.8 L188.7,2512.8 L189.7,2512.8 L190.7,2512.8 L191.7,2512.8 L192.7,2512.8 L193.7,2512.8 L194.7,2512.8 L195.7,2512.8 L196.7,2512.8 L197.7,2512.8 L198.7,2512.8 L199.7,2512.8 L200.7,2512.8 L201.7,2512.8 L202.7,2512.8 L203.7,2512.8 L204.7,2512.8 L205.7,2512.8 L206.7,2512.8 L207.7,2512.8 L208.7,2512.8 L209.7,2512.8 L210.7,2512.8 L211.7,2512.8 L212.7,2512.8 L213.7,2512.8 L214.7,2512.8 L215.7,2512.8 L216.7,2512.8 L217.7,2512.8 L218.7,2512.8 L219.7,2512.8 L220.7,2512.8 L221.7,2512.8 L222.7,2512.8 L223.7,2512.8 L224.7,2512.8 L225.7,2512.8 L226.7,2512.8 L227.7,2512.8 L228.7,2512.8 L229.7,2512.8 L230.7,2512.8 L231.7,2512.8 L232.7,2512.8 L233.7,2512.8 L234.7,2512.8 L235.7,2512.8 L236.7,2512.8 L237.7,2512.8 L238.7,2512.8 L239.7,2512.8 L240.7,2512.8 L241.7,2512.8 L242.7,2512.8 L243.7,2512.8 L244.7,2512.8 L245.7,2512.8 L246.7,2512.8 L247.7,2512.8 L248.7,2512.8 L249.7,2512.8 L250.7,2512.8 L251.7,2512.8 L252.7,2512.8 L253.7,2512.8 L254.7,2512.8 L255.7,2512.8 L256.7,2512.8 L257.7,2512.8 L258.7,2512.8 L259.7,2512.8 L260.7,2512.8 L261.7,2512.8 L262.7,2512.8 L263.7,2512.8 L264.7,2512.8 L265.7,2512.8 L266.7,2512.8 L267.7,2512.8 L268.7,2512.8 L269.7,2512.8 L270.7,2512.8 L271.7,2512.8 L272.7,2512.8 L273.7,2512.8 L274.7,2512.8 L275.7,2512.8 L276.7,2512.8 L277.7,2512.8 L278.7,2512.8 L279.7,2512.8 L280.7,2512.8 L281.7,2512.8 L282.7,2512.8 L283.7,2512.8 L284.7,2512.8 L285.7,2512.8 L286.7,2512.8 L287.7,2512.8 L288.7,2512.8 L289.7,2512.8 L290.7,2512.8 L291.7,2512.8 L292.7,2512.8 L293.7,2512.8 L294.7,2512.8 L295.7,2512.8 L296.7,2512.8 L297.7,2512.8 L298.7,2512.8 L299.7,2512.8 L300.7,2512.8 L301.7,2512.8 L302.7,2512.8 L303.7,2512.8 L304.7,2512.8 L305.7,2512.8 L306.7,2512.8 L307.7,2512.8 L308.7,2512.8 L309.7,2512.8 L310.7,2512.8 L311.7,2512.8 L312.7,2512.8 L313.7,2512.8 L314.7,2512.8 L315.7,2512.8 L316.7,2512.8 L317.7,2512.8 L318.7,2512.8 L319.7,2512.8 L320.7,2512.8 L321.7,2512.8 L322.7,2512.8 L323.7,2512.8 L324.7,2512.8 L325.7,2512.8 L326.7,2512.8 L327.7,2512.8 L328.7,2512.8 L329.7,2512.8 L330.7,2512.8 L331.7,2512.8 L332.7,2512.8 L333.7,2512.8 L334.7,2512.8 L335.7,2512.8 L336.7,2512.8 L337.7,2512.8 L338.7,2512.8 L339.7,2512.8 L340.7,2512.8 L341.7,2512.8 L342.7,2512.8 L343.7,2512.8 L344.7,2512.8 L345.7,2512.8 L346.7,2512.8 L347.7,2512.8 L348.7,2512.8 L349.7,2512.8 L350.7,2512.8 L351.7,2512.8 L352.7,2512.8 L353.7,2512.8 L354.7,2512.8 L355.7,2512.8 L356.7,2512.8 L357.7,2512.8 L358.7,2512.8 L359.7,2512.8 L360.7,2512.8 L361.7,2512.8 L362.7,2512.8 L363.7,2512.8 L364.7,2512.8 L365.7,2512.8 L366.7,2512.8 L367.7,2512.8 L368.7,2512.8 L369.7,2512.8 L370.7,2512.8 L371.7,2512.8 L372.7,2512.8 L373.7,2512.8 L374.7,2512.8 L375.7,2512.8 L376.7,2512.8 L377.7,2512.8 L378.7,2512.8 L379.7,2512.8 L380.7,2512.8 L381.7,2512.8 L382.7,2512.8 L383.7,2512.8 L384.7,2512.8 L385.7,2512.8 L386.7,2512.8 L387.7,2512.8 L388.7,2512.8 L389.7,2512.8 L390.7,2512.8 L391.7,2512.8 L392.7,2512.8 L393.7,2512.8 L394.7,2512.8 L395.7,2512.8 L396.7,2512.8 L397.7,2512.8 L398.7,2512.8 L399.7,2512.8 L400.7,2512.8 L401.7,2512.8 L402.7,2512.8 L403.7,2512.8 L404.7,2512.8 L405.7,2512.8 L406.7,2512.8 L407.7,2512.8 L408.7,2512.8 L409.7,2512.8 L410.7,2512.8 L411.7,2512.8 L412.7,2512.8 L413.7,2512.8 L414.7,2512.8 L415.7,2512.8 L416.7,2512.8 L417.7,2512.8 L418.7,2512.8 L419.7,2512.8 L420.7,2512.8 L421.7,2512.8 L422.7,2512.8 L423.7,2512.8 L424.7,2512.8 L425.7,2512.8 L426.7,2512.8 L427.7,2512.8 L428.7,2512.8 L429.7,2512.8 L430.7,2512.8 L431.7,2512.8 L432.7,2512.8 L433.7,2512.8 L434.7,2512.8 L435.7,2512.8 L436.7,2512.8 L437.7,2512.8 L438.7,2512.8 L439.7,2512.8 L440.7,2512.8 L441.7,2512.8 L442.7,2512.8 L443.7,2512.8 L444.7,2512.8 L445.7,2512.8 L446.7,2512.8 L447.7,2512.8 L448.7,2512.8 L449.7,2512.8 L450.7,2512.8 L451.7,2512.8 L452.7,2512.8 L453.7,2512.8 L454.7,2512.8 L455.7,2512.8 L456.7,2512.8 L457.7,2512.8 L458.7,2512.8 L459.7,2512.8 L460.7,2512.8 L461.7,2512.8 L462.7,2512.8 L463.7,2512.8 L464.7,2512.8 L465.7,2512.8 L466.7,2512.8 L467.7,2512.8 L468.7,2512.8 L469.7,2512.8 L470.7,2512.8 L471.7,2512.8 L472.7,2512.8 L473.7,2512.8 L474.7,2512.8 L475.7,2512.8 L476.7,2512.8 L477.7,2512.8 L478.7,2512.8 L479.7,2512.8 L480.7,2512.8 L481.7,2512.8 L482.7,2512.8 L483.7,2512.8 L484.7,2512.8 L485.7,2512.8 L486.7,2512.8 L487.7,2512.8 L488.7,2512.8 L489.7,2512.8 L490.7,2512.8 L491.7,2512.8 L492.7,2512.8 L493.7,2512.8 L494.7,2512.8 L495.7,2512.8 L496.7,2512.8 L497.7,2512.8 L498.7,2512.8 L499.7,2512.8 L500.7,2512.8 L501.7,2512.8 L502.7,2512.8 L503.7,2512.8 L504.7,2512.8 L505.7,2512.8 L506.7,2512.8 L507.7,2512.8 L508.7,2512.8 L509.7,2512.8 L510.7,2512.8 L511.7,2512.8 L512.7,2512.8 L513.7,2512.8 L514.7,2512.8 L515.7,2512.8 L516.7,2512.8 L517.7,2512.8 L518.7,2512.8 L519.7,2512.8 L520.7,2512.8 L521.7,2512.8 L522.7,2512.8 L523.7,2512.8 L524.7,2512.8 L525.7,2512.8 L526.7,2512.8 L527.7,2512.8 L528.7,2512.8 L529.7,2512.8 L530.7,2512.8 L531.7,2512.8 L532.7,2512.8 L533.7,2512.8 L534.7,2512.8 L535.7,2512.8 L536.7,2512.8 L537.7,2512.8 L538.7,2512.8 L539.7,2512.8 L540.7,2512.8 L541.7,2512.8 L542.7,2512.8 L543.7,2512.8 L544.7,2512.8 L545.7,2512.8 L546.7,2512.8 L547.7,2512.8 L548.7,2512.8 L549.7,2512.8 L550.7,2512.8 L551.7,2512.8 L552.7,2512.8 L553.7,2512.8 L554.7,2512.8 L555.7,2512.8 L556.7,2512.8 L557.7,2512.8 L558.7,2512.8 L559.7,2512.8 L560.7,2512.8 L561.7,2512.8 L562.7,2512.8 L563.7,2512.8 L564.7,2512.8 L565.7,2512.8 L566.7,2512.8 L567.7,2512.8 L568.7,2512.8 L569.7,2512.8 L570.7,2512.8 L571.7,2512.8 L572.7,2512.8 L573.7,2512.8 L574.7,2512.8 L575.7,2512.8 L576.7,2512.8 L577.7,2512.8 L578.7,2512.8 L579.7,2512.8 L580.7,2512.8 L581.7,2512.8 L582.7,2512.8 L583.7,2512.8 L584.7,2512.8 L585.7,2512.8 L586.7,2512.8 L587.7,2512.8 L588.7,2512.8 L589.7,2512.8 L590.7,2512.8 L591.7,2512.8 L592.7,2512.8 L593.7,2512.8 L594.7,2512.8 L595.7,2512.8 L596.7,2512.8 L597.7,2512.8 L598.7,2512.8 L599.7,2512.8 L600.7,2512.8 L601.7,2512.8 L602.7,2512.8 L603.7,2512.8 L604.7,2512.8 L605.7,2512.8 L606.7,2512.8 L607.7,2512.8 L608.7,2512.8 L609.7,2512.8 L610.7,2512.8 L611.7,2512.8 L612.7,2512.8 L613.7,2512.8 L614.7,2512.8 L615.7,2512.8 L616.7,2512.8 L617.7,2512.8 L618.7,2512.8 L619.7,2512.8 L620.7,2512.8 L621.7,2512.8 L622.7,2512.8 L623.7,2512.8 L624.7,2512.8 L625.7,2512.8 L626.7,2512.8 L627.7,2512.8 L628.7,2512.8 L629.7,2512.8 L630.7,2512.8 L631.7,2512.8 L632.7,2512.8 L633.7,2512.8 L634.7,2512.8 L635.7,2512.8 L636.7,2512.8 L637.7,2512.8 L638.7,2512.8 L639.7,2512.8 L640.7,2512.8 L641.7,2512.8 L642.7,2512.8 L643.7,2512.8 L644.7,2512.8 L645.7,2512.8 L646.7,2512.8 L647.7,2512.8 L648.7,2512.8 L649.7,2512.8 L650.7,2512.8 L651.7,2512.8 L652.7,2512.8 L653.7,2512.8 L654.7,2512.8 L655.7,2512.8 L656.7,2512.8 L657.7,2512.8 L658.7,2512.8 L659.7,2512.8 L660.7,2512.8 L661.7,2512.8 L662.7,2512.8 L663.7,2512.8 L664.7,2512.8 L665.7,2512.8 L666.7,2512.8 L667.7,2512.8 L668.7,2512.8 L669.7,2512.8 L670.7,2512.8 L671.7,2512.8 L672.7,2512.8 L673.7,2512.8 L674.7,2512.8 L675.7,2512.8 L676.7,2512.8 L677.7,2512.8 L678.7,2512.8 L679.7,2512.8 L680.7,2512.8 L681.7,2512.8 L682.7,2512.8 L683.7,2512.8 L684.7,2512.8 L685.7,2512.8 L686.7,2512.8 L687.7,2512.8 L688.7,2512.8 L689.7,2512.8 L690.7,2512.8 L691.7,2512.8 L692.7,2512.8 L693.7,2512.8 L694.7,2512.8 L695.7,2512.8 L696.7,2512.8 L697.7,2512.8 L698.7,2512.8 L699.7,2512.8 L700.7,2512.8 L701.7,2512.8 L702.7,2512.8 L703.7,2512.8 L704.7,2512.8 L705.7,2512.8 L706.7,2512.8 L707.7,2512.8 L708.7,2512.8 L709.7,2512.8 L710.7,2512.8 L711.7,2512.8 L712.7,2512.8 L713.7,2512.8 L714.7,2512.8 L715.7,2512.8 L716.7,2512.8 L717.7,2512.8 L718.7,2512.8 L719.7,2512.8 L720.7,2512.8 L721.7,2512.8 L722.7,2512.8 L723.7,2512.8 L724.7,2512.8 L725.7,2512.8 L726.7,2512.8 L727.7,2512.8 L728.7,2512.8 L729.7,2512.8 L730.7,2512.8 L731.7,2512.8 L732.7,2512.8 L733.7,2512.8 L734.7,2512.8 L735.7,2512.8 L736.7,2512.8 L737.7,2512.8 L738.7,2512.8 L739.7,2512.8 L740.7,2512.8 L741.7,2512.8 L742.7,2512.8 L743.7,2512.8 L744.7,2512.8 L745.7,2512.8 L746.7,2512.8 L747.7,2512.8 L748.7,2512.8 L749.7,2512.8 L750.7,2512.8 L751.7,2512.8 L752.7,2512.8 L753.7,2512.8 L754.7,2512.8 L755.7,2512.8 L756.7,2512.8 L757.7,2512.8 L758.7,2512.8 L759.7,2512.8 L760.7,2512.8 L761.7,2512.8 L762.7,2512.8 L763.7,2512.8 L764.7,2512.8 L765.7,2512.8 L766.7,2512.8 L767.7,2512.8 L768.7,2512.8 L769.7,2512.8 L770.7,2512.8 L771.7,2512.8 L772.7,2512.8 L773.7,2512.8 L774.7,2512.8 L775.7,2512.8 L776.7,2512.8 L777.7,2512.8 L778.7,2512.8 L779.7,2512.8 L780.7,2512.8 L781.7,2512.8 L782.7,2512.8 L783.7,2512.8 L784.7,2512.8 L785.7,2512.8 L786.7,2512.8 L787.7,2512.8 L788.7,2512.8 L789.7,2512.8 L790.7,2512.8 L791.7,2512.8 L792.7,2512.8 L793.7,2512.8 L794.7,2512.8 L795.7,2512.8 L796.7,2512.8 L797.7,2512.8 L798.7,2512.8 L799.7,2512.8 L800.7,2512.8 L801.7,2512.8 L802.7,2512.8 L803.7,2512.8 L804.7,2512.8 L805.7,2512.8 L806.7,2512.8 L807.7,2512.8 L808.7,2512.8 L809.7,2512.8 L810.7,2512.8 L811.7,2512.8 L812.7,2512.8 L813.7,2512.8 L814.7,2512.8 L815.7,2512.8 L816.7,2512.8 L817.7,2512.8 L818.7,2512.8 L819.7,2512.8 L820.7,2512.8 L821.7,2512.8 L822.7,2512.8 L823.7,2512.8 L824.7,2512.8 L825.7,2512.8 L826.7,2512.8 L827.7,2512.8 L828.7,2512.8 L829.7,2512.8 L830.7,2512.8 L831.7,2512.8 L832.7,2512.8 L833.7,2512.8 L834.7,2512.8 L835.7,2512.8 L836.7,2512.8 L837.7,2512.8 L838.7,2512.8 L839.7,2512.8 L840.7,2512.8 L841.7,2512.8 L842.7,2512.8 L843.7,2512.8 L844.7,2512.8 L845.7,2512.8 L846.7,2512.8 L847.7,2512.8 L848.7,2512.8 L849.7,2512.8 L850.7,2512.8 L851.7,2512.8 L852.7,2512.8 L853.7,2512.8 L854.7,2512.8 L855.7,2512.8 L856.7,2512.8 L857.7,2512.8 L858.7,2512.8 L859.7,2512.8 L860.7,2512.8 L861.7,2512.8 L862.7,2512.8 L863.7,2512.8 L864.7,2512.8 L865.7,2512.8 L866.7,2512.8 L867.7,2512.8 L868.7,2512.8 L869.7,2512.8 L870.7,2512.8 L871.7,2512.8 L872.7,2512.8 L873.7,2512.8 L874.7,2512.8 L875.7,2512.8 L876.7,2512.8 L877.7,2512.8 L878.7,2512.8 L879.7,2512.8 L880.7,2512.8 L881.7,2512.8 L882.7,2512.8 L883.7,2512.8 L884.7,2512.8 L885.7,2512.8 L886.7,2512.8 L887.7,2512.8 L888.7,2512.8 L889.7,2512.8 L890,2512.8 L890.2,2512.8 L890.5,2512.8 L890.7,2512.8 L890.8,2512.8 L891,2512.8 L891.2,2512.8 L891.5,2512.8 L891.7,2512.8 L891.8,2512.8 L892,2512.8 L892.2,2512.8 L892.5,2512.8 L892.7,2512.8 L892.8,2512.8 L893,2512.8 L893.2,2512.8 L893.5,2512.8 L893.7,2512.8 L893.8,2512.8 L894,2512.8 L894.2,2512.8 L894.5,2512.8 L894.7,2512.8 L894.8,2512.8 L895,2512.8 L895.2,2512.8 L895.5,2512.8 L895.7,2512.8 L895.8,2512.8 L896,2512.8 L896.2,2512.7 L896.5,2512.7 L896.7,2512.7 L896.8,2512.7 L897,2512.7 L897.2,2512.7 L897.5,2512.7 L897.7,2512.7 L897.8,2512.6 L898,2512.6 L898.2,2512.6 L898.5,2512.5 L898.7,2512.5 L898.8,2512.5 L899,2512.4 L899.2,2512.3 L899.5,2512.3 L899.7,2512.2 L899.8,2512.2 L900,2512 L900.2,2511.9 L900.5,2511.8 L900.7,2511.6 L900.8,2511.6 L901,2511.4 L901.2,2511.1 L901.5,2510.9 L901.7,2510.7 L901.8,2510.6 L902,2510.2 L902.2,2509.8 L902.5,2509.4 L902.7,2509 L902.8,2508.9 L903,2508.3 L903.2,2507.6 L903.5,2506.9 L903.7,2506.4 L903.8,2506.1 L904,2505.2 L904.2,2504.2 L904.5,2503.1 L904.7,2502.3 L904.8,2501.8 L905,2500.5 L905.2,2499 L905.5,2497.4 L905.7,2496.2 L905.8,2495.6 L906,2493.6 L906.2,2491.5 L906.5,2489.2 L906.7,2487.6 L906.8,2486.7 L907,2484 L907.2,2481.2 L907.5,2478.1 L907.7,2476 L907.8,2474.8 L908,2471.4 L908.2,2467.7 L908.5,2463.8 L908.7,2461.3 L908.8,2459.8 L909,2455.5 L909.2,2451.1 L909.5,2446.5 L909.7,2443.5 L909.8,2441.7 L910,2436.9 L910.2,2431.9 L910.5,2426.8 L910.7,2423.5 L910.8,2421.6 L911,2416.4 L911.2,2411.2 L911.5,2406 L911.7,2402.8 L911.8,2400.9 L912,2395.9 L912.2,2391.1 L912.5,2386.4 L912.7,2383.5 L912.8,2382 L913,2377.8 L913.2,2374 L913.5,2370.5 L913.7,2368.5 L913.8,2367.5 L914,2364.9 L914.2,2362.8 L914.5,2361.3 L914.7,2360.6 L914.8,2360.3 L915,2360 L915.2,2360.3 L915.5,2361.3 L915.7,2362.4 L915.8,2363.1 L916,2365.5 L916.2,2368.7 L916.5,2372.6 L916.7,2375.5 L916.8,2377.3 L917,2382.7 L917.2,2388.8 L917.5,2395.7 L917.7,2400.4 L917.8,2403.2 L918,2411.4 L918.2,2420.1 L918.5,2429.5 L918.7,2435.7 L918.8,2439.3 L919,2449.6 L919.2,2460.4 L919.5,2471.4 L919.7,2478.6 L919.8,2482.7 L920,2494.2 L920.2,2505.8 L920.5,2517.5 L920.7,2524.9 L920.8,2529.1 L921,2540.6 L921.2,2552 L921.5,2563.1 L921.7,2570 L921.8,2573.8 L922,2584.2 L922.2,2594.2 L922.5,2603.6 L922.7,2609.4 L922.8,2612.5 L923,2620.8 L923.2,2628.5 L923.5,2635.5 L923.7,2639.6 L923.8,2641.7 L924,2647.3 L924.2,2652.1 L924.5,2656.2 L924.7,2658.4 L924.8,2659.5 L925,2662.1 L925.2,2664 L925.5,2665.1 L925.7,2665.5 L925.8,2665.6 L926,2665.4 L926.2,2664.6 L926.5,2663.2 L926.7,2662 L926.8,2661.2 L927,2658.7 L927.2,2655.7 L927.5,2652.4 L927.7,2650 L927.8,2648.6 L928,2644.5 L928.2,2640.1 L928.5,2635.5 L928.7,2632.4 L928.8,2630.7 L929,2625.7 L929.2,2620.6 L929.5,2615.4 L929.7,2612.1 L929.8,2610.2 L930,2605 L930.2,2599.9 L930.5,2594.8 L930.7,2591.5 L930.8,2589.7 L931,2584.8 L931.2,2580 L931.5,2575.4 L931.7,2572.5 L931.8,2571 L932,2566.7 L932.2,2562.6 L932.5,2558.7 L932.7,2556.3 L932.8,2554.9 L933,2551.4 L933.2,2548.1 L933.5,2545 L933.7,2543.1 L933.8,2542.1 L934,2539.4 L934.2,2536.9 L934.5,2534.6 L934.7,2533.2 L934.8,2532.4 L935,2530.4 L935.2,2528.6 L935.5,2526.9 L935.7,2525.9 L935.8,2525.4 L936,2524 L936.2,2522.8 L936.5,2521.6 L936.7,2521 L936.8,2520.6 L937,2519.7 L937.2,2518.8 L937.5,2518.1 L937.7,2517.7 L937.8,2517.4 L938,2516.9 L938.2,2516.3 L938.5,2515.9 L938.7,2515.6 L938.8,2515.5 L939,2515.1 L939.2,2514.8 L939.5,2514.5 L939.7,2514.4 L939.8,2514.3 L940,2514.1 L940.2,2513.9 L940.5,2513.7 L940.7,2513.6 L940.8,2513.6 L941,2513.5 L941.2,2513.4 L941.5,2513.3 L941.7,2513.2 L941.8,2513.2 L942,2513.1 L942.2,2513.1 L942.5,2513 L942.7,2513 L942.8,2513 L943,2513 L943.2,2512.9 L943.5,2512.9 L943.7,2512.9 L943.8,2512.9 L944,2512.9 L944.2,2512.9 L944.5,2512.9 L944.7,2512.8 L944.8,2512.8 L945,2512.8 L945.2,2512.8 L945.5,2512.8 L945.7,2512.8 L945.8,2512.8 L946,2512.8 L946.2,2512.8 L946.5,2512.8 L946.7,2512.8 L946.8,2512.8 L947,2512.8 L947.2,2512.8 L947.5,2512.8 L947.7,2512.8 L947.8,2512.8 L948,2512.8 L948.2,2512.8 L948.5,2512.8 L948.7,2512.8 L948.8,2512.8 L949,2512.8 L949.2,2512.8 L949.5,2512.8 L949.7,2512.8 L949.8,2512.8 L950.7,2512.8 L951.7,2512.8 L952.7,2512.8 L953.7,2512.8 L954.7,2512.8 L955.7,2512.8 L956.7,2512.8 L957.7,2512.8 L958.7,2512.8 L959.7,2512.8 L960.7,2512.8 L961.7,2512.8 L962.7,2512.8 L963.7,2512.8 L964.7,2512.8 L965.7,2512.8 L966.7,2512.8 L967.7,2512.8 L968.7,2512.8 L969.7,2512.8 L970.7,2512.8 L971.7,2512.8 L972.7,2512.8 L973.7,2512.8 L974.7,2512.8 L975.7,2512.8 L976.7,2512.8 L977.7,2512.8 L978.7,2512.8 L979.7,2512.8 L980.7,2512.8 L981.7,2512.8 L982.7,2512.8 L983.7,2512.8 L984.7,2512.8 L985.7,2512.8 L986.7,2512.8 L987.7,2512.8 L988.7,2512.8 L989.7,2512.8 L990.7,2512.8 L991.7,2512.8 L992.7,2512.8 L993.7,2512.8 L994.7,2512.8 L995.7,2512.8 L996.7,2512.8 L997.7,2512.8 L998.7,2512.8 L999.7,2512.8 L1000.7,2512.8 L1001.7,2512.8 L1002.7,2512.8 L1003.7,2512.8 L1004.7,2512.8 L1005.7,2512.8 L1006.7,2512.8 L1007.7,2512.8 L1008.7,2512.8 L1009.7,2512.8 L1010.7,2512.8 L1011.7,2512.8 L1012.7,2512.8 L1013.7,2512.8 L1014.7,2512.8 L1015.7,2512.8 L1016.7,2512.8 L1017.7,2512.8 L1018.7,2512.8 L1019.7,2512.8 L1020.7,2512.8 L1021.7,2512.8 L1022.7,2512.8 L1023.7,2512.8 L1024.7,2512.8 L1025.7,2512.8 L1026.7,2512.8 L1027.7,2512.8 L1028.7,2512.8 L1029.7,2512.8 L1030.7,2512.8 L1031.7,2512.8 L1032.7,2512.8 L1033.7,2512.8 L1034.7,2512.8 L1035.7,2512.8 L1036.7,2512.8 L1037.7,2512.8 L1038.7,2512.8 L1039.7,2512.8 L1040.7,2512.8 L1041.7,2512.8 L1042.7,2512.8 L1043.7,2512.8 L1044.7,2512.8 L1045.7,2512.8 L1046.7,2512.8 L1047.7,2512.8 L1048.7,2512.8 L1049.7,2512.8 L1050.7,2512.8 L1051.7,2512.8 L1052.7,2512.8 L1053.7,2512.8 L1054.7,2512.8 L1055.7,2512.8 L1056.7,2512.8 L1057.7,2512.8 L1058.7,2512.8 L1059.7,2512.8 L1060.7,2512.8 L1061.7,2512.8 L1062.7,2512.8 L1063.7,2512.8 L1064.7,2512.8 L1065.7,2512.8 L1066.7,2512.8 L1067.7,2512.8 L1068.7,2512.8 L1069.7,2512.8 L1070.7,2512.8 L1071.7,2512.8 L1072.7,2512.8 L1073.7,2512.8 L1074.7,2512.8 L1075.7,2512.8 L1076.7,2512.8 L1077.7,2512.8 L1078.7,2512.8 L1079.7,2512.8 L1080.7,2512.8 L1081.7,2512.8 L1082.7,2512.8 L1083.7,2512.8 L1084.7,2512.8 L1085.7,2512.8 L1086.7,2512.8 L1087.7,2512.8 L1088.7,2512.8 L1089.7,2512.8 L1090.7,2512.8 L1091.7,2512.8 L1092.7,2512.8 L1093.7,2512.8 L1094.7,2512.8 L1095.7,2512.8 L1096.7,2512.8 L1097.7,2512.8 L1098.7,2512.8 L1099.7,2512.8 L1100.7,2512.8 L1101.7,2512.8 L1102.7,2512.8 L1103.7,2512.8 L1104.7,2512.8 L1105.7,2512.8 L1106.7,2512.8 L1107.7,2512.8 L1108.7,2512.8 L1109.7,2512.8 L1110.7,2512.8 L1111.7,2512.8 L1112.7,2512.8 L1113.7,2512.8 L1114.7,2512.8 L1115.7,2512.8 L1116.7,2512.8 L1117.7,2512.8 L1118.7,2512.8 L1119.7,2512.8 L1120.7,2512.8 L1121.7,2512.8 L1122.7,2512.8 L1123.7,2512.8 L1124.7,2512.8 L1125.7,2512.8 L1126.7,2512.8 L1127.7,2512.8 L1128.7,2512.8 L1129.7,2512.8 L1130.7,2512.8 L1131.7,2512.8 L1132.7,2512.8 L1133.7,2512.8 L1134.7,2512.8 L1135.7,2512.8 L1136.7,2512.8 L1137.7,2512.8 L1138.7,2512.8 L1139.7,2512.8 L1140.7,2512.8 L1141.7,2512.8 L1142.7,2512.8 L1143.7,2512.8 L1144.7,2512.8 L1145.7,2512.8 L1146.7,2512.8 L1147.7,2512.8 L1148.7,2512.8 L1149.7,2512.8 L1150.7,2512.8 L1151.7,2512.8 L1152.7,2512.8 L1153.7,2512.8 L1154.7,2512.8 L1155.7,2512.8 L1156.7,2512.8 L1157.7,2512.8 L1158.7,2512.8 L1159.7,2512.8 L1160.7,2512.8 L1161.7,2512.8 L1162.7,2512.8 L1163.7,2512.8 L1164.7,2512.8 L1165.7,2512.8 L1166.7,2512.8 L1167.7,2512.8 L1168.7,2512.8 L1169.7,2512.8 L1170.7,2512.8 L1171.7,2512.8 L1172.7,2512.8 L1173.7,2512.8 L1174.7,2512.8 L1175.7,2512.8 L1176.7,2512.8 L1177.7,2512.8 L1178.7,2512.8 L1179.7,2512.8 L1180.7,2512.8 L1181.7,2512.8 L1182.7,2512.8 L1183.7,2512.8 L1184.7,2512.8 L1185.7,2512.8 L1186.7,2512.8 L1187.7,2512.8 L1188.7,2512.8 L1189.7,2512.8 L1190.7,2512.8 L1191.7,2512.8 L1192.7,2512.8 L1193.7,2512.8 L1194.7,2512.8 L1195.7,2512.8 L1196.7,2512.8 L1197.7,2512.8 L1198.7,2512.8 L1199.7,2512.8 L1200.7,2512.8 L1201.7,2512.8 L1202.7,2512.8 L1203.7,2512.8 L1204.7,2512.8 L1205.7,2512.8 L1206.7,2512.8 L1207.7,2512.8 L1208.7,2512.8 L1209.7,2512.8 L1210.7,2512.8 L1211.7,2512.8 L1212.7,2512.8 L1213.7,2512.8 L1214.7,2512.8 L1215.7,2512.8 L1216.7,2512.8 L1217.7,2512.8 L1218.7,2512.8 L1219.7,2512.8 L1220.7,2512.8 L1221.7,2512.8 L1222.7,2512.8 L1223.7,2512.8 L1224.7,2512.8 L1225.7,2512.8 L1226.7,2512.8 L1227.7,2512.8 L1228.7,2512.8 L1229.7,2512.8 L1230.7,2512.8 L1231.7,2512.8 L1232.7,2512.8 L1233.7,2512.8 L1234.7,2512.8 L1235.7,2512.8 L1236.7,2512.8 L1237.7,2512.8 L1238.7,2512.8 L1239.7,2512.8 L1240.7,2512.8 L1241.7,2512.8 L1242.7,2512.8 L1243.7,2512.8 L1244.7,2512.8 L1245.7,2512.8 L1246.7,2512.8 L1247.7,2512.8 L1248.7,2512.8 L1249.7,2512.8 L1250.7,2512.8 L1251.7,2512.8 L1252.7,2512.8 L1253.7,2512.8 L1254.7,2512.8 L1255.7,2512.8 L1256.7,2512.8 L1257.7,2512.8 L1258.7,2512.8 L1259.7,2512.8 L1260.7,2512.8 L1261.7,2512.8 L1262.7,2512.8 L1263.7,2512.8 L1264.7,2512.8 L1265.7,2512.8 L1266.7,2512.8 L1267.7,2512.8 L1268.7,2512.8 L1269.7,2512.8 L1270.7,2512.8 L1271.7,2512.8 L1272.7,2512.8 L1273.7,2512.8 L1274.7,2512.8 L1275.7,2512.8 L1276.7,2512.8 L1277.7,2512.8 L1278.7,2512.8 L1279.7,2512.8 L1280.7,2512.8 L1281.7,2512.8 L1282.7,2512.8 L1283.7,2512.8 L1284.7,2512.8 L1285.7,2512.8 L1286.7,2512.8 L1287.7,2512.8 L1288.7,2512.8 L1289.7,2512.8 L1290.7,2512.8 L1291.7,2512.8 L1292.7,2512.8 L1293.7,2512.8 L1294.7,2512.8 L1295.7,2512.8 L1296.7,2512.8 L1297.7,2512.8 L1298.7,2512.8 L1299.7,2512.8 L1300.7,2512.8 L1301.7,2512.8 L1302.7,2512.8 L1303.7,2512.8 L1304.7,2512.8 L1305.7,2512.8 L1306.7,2512.8 L1307.7,2512.8 L1308.7,2512.8 L1309.7,2512.8 L1310.7,2512.8 L1311.7,2512.8 L1312.7,2512.8 L1313.7,2512.8 L1314.7,2512.8 L1315.7,2512.8 L1316.7,2512.8 L1317.7,2512.8 L1318.7,2512.8 L1319.7,2512.8 L1320.7,2512.8 L1321.7,2512.8 L1322.7,2512.8 L1323.7,2512.8 L1324.7,2512.8 L1325.7,2512.8 L1326.7,2512.8 L1327.7,2512.8 L1328.7,2512.8 L1329.7,2512.8 L1330.7,2512.8 L1331.7,2512.8 L1332.7,2512.8 L1333.7,2512.8 L1334.7,2512.8 L1335.7,2512.8 L1336.7,2512.8 L1337.7,2512.8 L1338.7,2512.8 L1339.7,2512.8 L1340.7,2512.8 L1341.7,2512.8 L1342.7,2512.8 L1343.7,2512.8 L1344.7,2512.8 L1345.7,2512.8 L1346.7,2512.8 L1347.7,2512.8 L1348.7,2512.8 L1349.7,2512.8 L1350.7,2512.8 L1351.7,2512.8 L1352.7,2512.8 L1353.7,2512.8 L1354.7,2512.8 L1355.7,2512.8 L1356.7,2512.8 L1357.7,2512.8 L1358.7,2512.8 L1359.7,2512.8 L1360.7,2512.8 L1361.7,2512.8 L1362.7,2512.8 L1363.7,2512.8 L1364.7,2512.8 L1365.7,2512.8 L1366.7,2512.8 L1367.7,2512.8 L1368.7,2512.8 L1369.7,2512.8 L1370.7,2512.8 L1371.7,2512.8 L1372.7,2512.8 L1373.7,2512.8 L1374.7,2512.8 L1375.7,2512.8 L1376.7,2512.8 L1377.7,2512.8 L1378.7,2512.8 L1379.7,2512.8 L1380.7,2512.8 L1381.7,2512.8 L1382.7,2512.8 L1383.7,2512.8 L1384.7,2512.8 L1385.7,2512.8 L1386.7,2512.8 L1387.7,2512.8 L1388.7,2512.8 L1389.7,2512.8 L1390.7,2512.8 L1391.7,2512.8 L1392.7,2512.8 L1393.7,2512.8 L1394.7,2512.8 L1395.7,2512.8 L1396.7,2512.8 L1397.7,2512.8 L1398.7,2512.8 L1399.7,2512.8 L1400.7,2512.8 L1401.7,2512.8 L1402.7,2512.8 L1403.7,2512.8 L1404.7,2512.8 L1405.7,2512.8 L1406.7,2512.8 L1407.7,2512.8 L1408.7,2512.8 L1409.7,2512.8 L1410.7,2512.8 L1411.7,2512.8 L1412.7,2512.8 L1413.7,2512.8 L1414.7,2512.8 L1415.7,2512.8 L1416.7,2512.8 L1417.7,2512.8 L1418.7,2512.8 L1419.7,2512.8 L1420.7,2512.8 L1421.7,2512.8 L1422.7,2512.8 L1423.7,2512.8 L1424.7,2512.8 L1425.7,2512.8 L1426.7,2512.8 L1427.7,2512.8 L1428.7,2512.8 L1429.7,2512.8 L1430.7,2512.8 L1431.7,2512.8 L1432.7,2512.8 L1433.7,2512.8 L1434.7,2512.8 L1435.7,2512.8 L1436.7,2512.8 L1437.7,2512.8 L1438.7,2512.8 L1439.7,2512.8 L1440.7,2512.8 L1441.7,2512.8 L1442.7,2512.8 L1443.7,2512.8 L1444.7,2512.8 L1445.7,2512.8 L1446.7,2512.8 L1447.7,2512.8 L1448.7,2512.8 L1449.7,2512.8 L1450.7,2512.8 L1451.7,2512.8 L1452.7,2512.8 L1453.7,2512.8 L1454.7,2512.8 L1455.7,2512.8 L1456.7,2512.8 L1457.7,2512.8 L1458.7,2512.8 L1459.7,2512.8 L1460.7,2512.8 L1461.7,2512.8 L1462.7,2512.8 L1463.7,2512.8 L1464.7,2512.8 L1465.7,2512.8 L1466.7,2512.8 L1467.7,2512.8 L1468.7,2512.8 L1469.7,2512.8 L1470.7,2512.8 L1471.7,2512.8 L1472.7,2512.8 L1473.7,2512.8 L1474.7,2512.8 L1475.7,2512.8 L1476.7,2512.8 L1477.7,2512.8 L1478.7,2512.8 L1479.7,2512.8 L1480.7,2512.8 L1481.7,2512.8 L1482.7,2512.8 L1483.7,2512.8 L1484.7,2512.8 L1485.7,2512.8 L1486.7,2512.8 L1487.7,2512.8 L1488.7,2512.8 L1489.7,2512.8 L1490.7,2512.8 L1491.7,2512.8 L1492.7,2512.8 L1493.7,2512.8 L1494.7,2512.8 L1495.7,2512.8 L1496.7,2512.8 L1497.7,2512.8 L1498.7,2512.8 L1499.7,2512.8 L1500.7,2512.8 L1501.7,2512.8 L1502.7,2512.8 L1503.7,2512.8 L1504.7,2512.8 L1505.7,2512.8 L1506.7,2512.8 L1507.7,2512.8 L1508.7,2512.8 L1509.7,2512.8 L1510.7,2512.8 L1511.7,2512.8 L1512.7,2512.8 L1513.7,2512.8 L1514.7,2512.8 L1515.7,2512.8 L1516.7,2512.8 L1517.7,2512.8 L1518.7,2512.8 L1519.7,2512.8 L1520.7,2512.8 L1521.7,2512.8 L1522.7,2512.8 L1523.7,2512.8 L1524.7,2512.8 L1525.7,2512.8 L1526.7,2512.8 L1527.7,2512.8 L1528.7,2512.8 L1529.7,2512.8 L1530.7,2512.8 L1531.7,2512.8 L1532.7,2512.8 L1533.7,2512.8 L1534.7,2512.8 L1535.7,2512.8 L1536.7,2512.8 L1537.7,2512.8 L1538.7,2512.8 L1539.7,2512.8 L1540.7,2512.8 L1541.7,2512.8 L1542.7,2512.8 L1543.7,2512.8 L1544.7,2512.8 L1545.7,2512.8 L1546.7,2512.8 L1547.7,2512.8 L1548.7,2512.8 L1549.7,2512.8 L1550.7,2512.8 L1551.7,2512.8 L1552.7,2512.8 L1553.7,2512.8 L1554.7,2512.8 L1555.7,2512.8 L1556.7,2512.8 L1557.7,2512.8 L1558.7,2512.8 L1559.7,2512.8 L1560.7,2512.8 L1561.7,2512.8 L1562.7,2512.8 L1563.7,2512.8 L1564.7,2512.8 L1565.7,2512.8 L1566.7,2512.8 L1567.7,2512.8 L1568.7,2512.8 L1569.7,2512.8 L1570.7,2512.8 L1571.7,2512.8 L1572.7,2512.8 L1573.7,2512.8 L1574.7,2512.8 L1575.7,2512.8 L1576.7,2512.8 L1577.7,2512.8 L1578.7,2512.8 L1579.7,2512.8 L1580.7,2512.8 L1581.7,2512.8 L1582.7,2512.8 L1583.7,2512.8 L1584.7,2512.8 L1585.7,2512.8 L1586.7,2512.8 L1587.7,2512.8 L1588.7,2512.8 L1589.7,2512.8 L1590.7,2512.8 L1591.7,2512.8 L1592.7,2512.8 L1593.7,2512.8 L1594.7,2512.8 L1595.7,2512.8 L1596.7,2512.8 L1597.7,2512.8 L1598.7,2512.8 L1599.7,2512.8 L1600.7,2512.8 L1601.7,2512.8 L1602.7,2512.8 L1603.7,2512.8 L1604.7,2512.8 L1605.7,2512.8 L1606.7,2512.8 L1607.7,2512.8 L1608.7,2512.8 L1609.7,2512.8 L1610.7,2512.8 L1611.7,2512.8 L1612.7,2512.8 L1613.7,2512.8 L1614.7,2512.8 L1615.7,2512.8 L1616.7,2512.8 L1617.7,2512.8 L1618.7,2512.8 L1619.7,2512.8 L1620.7,2512.8 L1621.7,2512.8 L1622.7,2512.8 L1623.7,2512.8 L1624.7,2512.8 L1625.7,2512.8 L1626.7,2512.8 L1627.7,2512.8 L1628.7,2512.8 L1629.7,2512.8 L1630.7,2512.8 L1631.7,2512.8 L1632.7,2512.8 L1633.7,2512.8 L1634.7,2512.8 L1635.7,2512.8 L1636.7,2512.8 L1637.7,2512.8 L1638.7,2512.8 L1639.7,2512.8 L1640.7,2512.8 L1641.7,2512.8 L1642.7,2512.8 L1643.7,2512.8 L1644.7,2512.8 L1645.7,2512.8 L1646.7,2512.8 L1647.7,2512.8 L1648.7,2512.8 L1649.7,2512.8 L1650.7,2512.8 L1651.7,2512.8 L1652.7,2512.8 L1653.7,2512.8 L1654.7,2512.8 L1655.7,2512.8 L1656.7,2512.8 L1657.7,2512.8 L1658.7,2512.8 L1659.7,2512.8 L1660.7,2512.8 L1661.7,2512.8 L1662.7,2512.8 L1663.7,2512.8 L1664.7,2512.8 L1665.7,2512.8 L1666.7,2512.8 L1667.7,2512.8 L1668.7,2512.8 L1669.7,2512.8 L1670.7,2512.8 L1671.7,2512.8 L1672.7,2512.8 L1673.7,2512.8 L1674.7,2512.8 L1675.7,2512.8 L1676.7,2512.8 L1677.7,2512.8 L1678.7,2512.8 L1679.7,2512.8 L1680.7,2512.8 L1681.7,2512.8 L1682.7,2512.8 L1683.7,2512.8 L1684.7,2512.8 L1685.7,2512.8 L1686.7,2512.8 L1687.7,2512.8 L1688.7,2512.8 L1689.7,2512.8 L1690.7,2512.8 L1691.7,2512.8 L1692.7,2512.8 L1693.7,2512.8 L1694.7,2512.8 L1695.7,2512.8 L1696.7,2512.8 L1697.7,2512.8 L1698.7,2512.8 L1699.7,2512.8 L1700.7,2512.8 L1701.7,2512.8 L1702.7,2512.8 L1703.7,2512.8 L1704.7,2512.8 L1705.7,2512.8 L1706.7,2512.8 L1707.7,2512.8 L1708.7,2512.8 L1709.7,2512.8 L1710.7,2512.8 L1711.7,2512.8 L1712.7,2512.8 L1713.7,2512.8 L1714.7,2512.8 L1715.7,2512.8 L1716.7,2512.8 L1717.7,2512.8 L1718.7,2512.8 L1719.7,2512.8 L1720.7,2512.8 L1721.7,2512.8 L1722.7,2512.8 L1723.7,2512.8 L1724.7,2512.8 L1725.7,2512.8 L1726.7,2512.8 L1727.7,2512.8 L1728.7,2512.8 L1729.7,2512.8 L1730.7,2512.8 L1731.7,2512.8 L1732.7,2512.8 L1733.7,2512.8 L1734.7,2512.8 L1735.7,2512.8 L1736.7,2512.8 L1737.7,2512.8 L1738.7,2512.8 L1739.7,2512.8 L1740.7,2512.8 L1741.7,2512.8 L1742.7,2512.8 L1743.7,2512.8 L1744.7,2512.8 L1745.7,2512.8 L1746.7,2512.8 L1747.7,2512.8 L1748.7,2512.8 L1749.7,2512.8 L1750.7,2512.8 L1751.7,2512.8 L1752.7,2512.8 L1753.7,2512.8 L1754.7,2512.8 L1755.7,2512.8 L1756.7,2512.8 L1757.7,2512.8 L1758.7,2512.8 L1759.7,2512.8 L1760.7,2512.8 L1761.7,2512.8 L1762.7,2512.8 L1763.7,2512.8 L1764.7,2512.8 L1765.7,2512.8 L1766.7,2512.8 L1767.7,2512.8 L1768.7,2512.8 L1769.7,2512.8 L1770.7,2512.8 L1771.7,2512.8 L1772.7,2512.8 L1773.7,2512.8 L1774.7,2512.8 L1775.7,2512.8 L1776.7,2512.8 L1777.7,2512.8 L1778.7,2512.8 L1779.7,2512.8 L1780.7,2512.8 L1781.7,2512.8 L1782.7,2512.8 L1783.7,2512.8 L1784.7,2512.8 L1785.7,2512.8 L1786.7,2512.8 L1787.7,2512.8 L1788.7,2512.8 L1789.7,2512.8 L1790.7,2512.8 L1791.7,2512.8 L1792.7,2512.8 L1793.7,2512.8 L1794.7,2512.8 L1795.7,2512.8 L1796.7,2512.8 L1797.7,2512.8 L1798.7,2512.8 L1799.7,2512.8 L1800.7,2512.8 L1801.7,2512.8 L1802.7,2512.8 L1803.7,2512.8 L1804.7,2512.8 L1805.7,2512.8 L1806.7,2512.8 L1807.7,2512.8 L1808.7,2512.8 L1809.7,2512.8 L1810.7,2512.8 L1811.7,2512.8 L1812.7,2512.8 L1813.7,2512.8 L1814.7,2512.8 L1815.7,2512.8 L1816.7,2512.8 L1817.7,2512.8 L1818.7,2512.8 L1819.7,2512.8 L1820.7,2512.8 L1821.7,2512.8 L1822.7,2512.8 L1823.7,2512.8 L1824.7,2512.8 L1825.7,2512.8 L1826.7,2512.8 L1827.7,2512.8 L1828.7,2512.8 L1829.7,2512.8 L1830.7,2512.8 L1831.7,2512.8 L1832.7,2512.8 L1833.7,2512.8 L1834.7,2512.8 L1835.7,2512.8 L1836.7,2512.8 L1837.7,2512.8 L1838.7,2512.8 L1839.7,2512.8 L1840.7,2512.8 L1841.7,2512.8 L1842.7,2512.8 L1843.7,2512.8 L1844.7,2512.8 L1845.7,2512.8 L1846.7,2512.8 L1847.7,2512.8 L1848.7,2512.8 L1849.7,2512.8 L1850.7,2512.8 L1851.7,2512.8 L1852.7,2512.8 L1853.7,2512.8 L1854.7,2512.8 L1855.7,2512.8 L1856.7,2512.8 L1857.7,2512.8 L1858.7,2512.8 L1859.7,2512.8 L1860.7,2512.8 L1861.7,2512.8 L1862.7,2512.8 L1863.7,2512.8 L1864.7,2512.8 L1865.7,2512.8 L1866.7,2512.8 L1867.7,2512.8 L1868.7,2512.8 L1869.7,2512.8 L1870.7,2512.8 L1871.7,2512.8 L1872.7,2512.8 L1873.7,2512.8 L1874.7,2512.8 L1875.7,2512.8 L1876.7,2512.8 L1877.7,2512.8 L1878.7,2512.8 L1879.7,2512.8 L1880.7,2512.8 L1881.7,2512.8 L1882.7,2512.8 L1883.7,2512.8 L1884.7,2512.8 L1885.7,2512.8 L1886.7,2512.8 L1887.7,2512.8 L1888.7,2512.8 L1889.7,2512.8 L1890.7,2512.8 L1891.7,2512.8 L1892.7,2512.8 L1893.7,2512.8 L1894.7,2512.8 L1895.7,2512.8 L1896.7,2512.8 L1897.7,2512.8 L1898.7,2512.8 L1899.7,2512.8 L1900.7,2512.8 L1901.7,2512.8 L1902.7,2512.8 L1903.7,2512.8 L1904.7,2512.8 L1905.7,2512.8 L1906.7,2512.8 L1907.7,2512.8 L1908.7,2512.8 L1909.7,2512.8 L1910.7,2512.8 L1911.7,2512.8 L1912.7,2512.8 L1913.7,2512.8 L1914.7,2512.8 L1915.7,2512.8 L1916.7,2512.8 L1917.7,2512.8 L1918.7,2512.8 L1919.7,2512.8 L1920.7,2512.8 L1921.7,2512.8 L1922.7,2512.8 L1923.7,2512.8 L1924.7,2512.8 L1925.7,2512.8 L1926.7,2512.8 L1927.7,2512.8 L1928.7,2512.8 L1929.7,2512.8 L1930.7,2512.8 L1931.7,2512.8 L1932.7,2512.8 L1933.7,2512.8 L1934.7,2512.8 L1935.7,2512.8 L1936.7,2512.8 L1937.7,2512.8 L1938.7,2512.8 L1939.7,2512.8 L1940.7,2512.8 L1941.7,2512.8 L1942.7,2512.8 L1943.7,2512.8 L1944.7,2512.8 L1945.7,2512.8 L1946.7,2512.8 L1947.7,2512.8 L1948.7,2512.8 L1949.7,2512.8 L1950.7,2512.8 L1951.7,2512.8 L1952.7,2512.8 L1953.7,2512.8 L1954.7,2512.8 L1955.7,2512.8 L1956.7,2512.8 L1957.7,2512.8 L1958.7,2512.8 L1959.7,2512.8 L1960.7,2512.8 L1961.7,2512.8 L1962.7,2512.8" fill="none" stroke="#0080FF" stroke-width="6.2" stroke-linejoin="round" stroke-linecap="round"/>
<rect x="1614.2" y="1848.7" width="342.3" height="101.8" fill="none" stroke="#000" stroke-width="5.8"/>
<line x1="922.8" y1="1939.3" x2="922.8" y2="2048.3" stroke="#FF0000" stroke-width="5.8" stroke-linecap="round"/><path d="M913.8,2046.3 L931.8,2046.3 L931.8,2050.1 L930.7,2051.1 L924.7,2083.2 L920.9,2083.2 L914.9,2051.1 L913.8,2050.1 Z" fill="#FF0000"/>
<line x1="1006" y1="2047.1" x2="1006" y2="2102.1" stroke="#0000FF" stroke-width="5.8" stroke-linecap="round"/><path d="M996.8,2100.1 L1015.2,2100.1 L1015.2,2103.9 L1014.1,2104.9 L1007.9,2136.5 L1004.1,2136.5 L997.9,2104.9 L996.8,2103.9 Z" fill="#0000FF"/>
<text id="pa" x="30" y="110.6" font-size="87" font-weight="bold" textLength="108.5" lengthAdjust="spacing" xml:space="preserve">(a)</text>
<text id="r143" x="273" y="92.8" font-size="45.7" fill="#FF0000" textLength="72" lengthAdjust="spacing" xml:space="preserve">143</text>
<text id="rNd" x="344.6" y="128.6" font-size="72.5" fill="#FF0000" textLength="85.9" lengthAdjust="spacing" xml:space="preserve">Nd</text>
<text id="r3p" x="445.2" y="93.1" font-size="47.5" fill="#FF0000" textLength="56.5" lengthAdjust="spacing" xml:space="preserve">3+</text>
<text id="rI" x="518" y="128.6" font-size="72.5" fill="#FF0000" textLength="251.2" lengthAdjust="spacing" xml:space="preserve">(I = 7/2)</text>
<text id="g145" x="273" y="504.5" font-size="45.7" fill="#008000" textLength="72" lengthAdjust="spacing" xml:space="preserve">145</text>
<text id="gNd" x="344.6" y="540.3" font-size="72.5" fill="#008000" textLength="85.9" lengthAdjust="spacing" xml:space="preserve">Nd</text>
<text id="g3p" x="445.2" y="504.8" font-size="47.5" fill="#008000" textLength="56.5" lengthAdjust="spacing" xml:space="preserve">3+</text>
<text id="gI" x="518" y="540.3" font-size="72.5" fill="#008000" textLength="251.2" lengthAdjust="spacing" xml:space="preserve">(I = 7/2)</text>
<text id="ag" x="914.9" y="92" font-size="66" font-style="italic" xml:space="preserve">g</text>
<text id="aeq" x="967.4" y="92" font-size="66" textLength="326.6" lengthAdjust="spacing" xml:space="preserve">= 2.338 (Nd</text>
<text id="a3p" x="1298.6" y="60" font-size="42.3" textLength="52.7" lengthAdjust="spacing" xml:space="preserve">3+</text>
<text id="afrom" x="1366.8" y="92" font-size="66" textLength="657.7" lengthAdjust="spacing" xml:space="preserve">from isotopes with I = 0)</text>
<text id="asim" x="1208.2" y="218.2" font-size="72" textLength="666" lengthAdjust="spacing" xml:space="preserve">Simulated signal of Nd</text>
<text id="asim3" x="1882" y="191.5" font-size="47" textLength="54.3" lengthAdjust="spacing" xml:space="preserve">3+</text>
<text id="ain" x="1320" y="306.6" font-size="71.5" textLength="271.1" lengthAdjust="spacing" xml:space="preserve">in BaTiO</text>
<text id="ain3" x="1586.5" y="319.8" font-size="45" transform="translate(1586.5,0) scale(0.975,1) translate(-1586.5,0)" xml:space="preserve">3</text>
<text id="acry" x="1632.2" y="306.6" font-size="71.5" textLength="199.9" lengthAdjust="spacing" xml:space="preserve">crystal</text>
<text id="af" x="1459.8" y="433.8" font-size="65" font-style="italic" xml:space="preserve">f</text>
<text id="afeq" x="1501" y="433.8" font-size="65" textLength="348.6" lengthAdjust="spacing" xml:space="preserve">= 9.855 GHz</text>
<text id="pb" x="30" y="863.9" font-size="87" font-weight="bold" textLength="108.3" lengthAdjust="spacing" xml:space="preserve">(b)</text>
<text id="bg" x="733" y="863" font-size="71" font-style="italic" xml:space="preserve">g</text>
<text id="beq" x="781.2" y="863" font-size="71" textLength="371.4" lengthAdjust="spacing" xml:space="preserve">= 2.338 (Nd</text>
<text id="b3p" x="1145.6" y="829" font-size="48" textLength="55.4" lengthAdjust="spacing" xml:space="preserve">3+</text>
<text id="bpar" x="1198.4" y="863" font-size="71" transform="translate(1198.4,0) scale(1.051,1) translate(-1198.4,0)" xml:space="preserve">)</text>
<text id="bdate" x="1649" y="844.6" font-size="62.6" textLength="301.6" lengthAdjust="spacing" xml:space="preserve">2017-11-29</text>
<text id="bbn" x="1502.2" y="1024.7" font-size="77.3" textLength="268.6" lengthAdjust="spacing" xml:space="preserve">BN4T-2</text>
<text id="bsim" x="1226.2" y="1311.9" font-size="71" textLength="667.8" lengthAdjust="spacing" xml:space="preserve">Simulated signal of Nd</text>
<text id="bsim3" x="1901" y="1276.8" font-size="47" textLength="55" lengthAdjust="spacing" xml:space="preserve">3+</text>
<text id="bin" x="1340.2" y="1417.7" font-size="71.3" textLength="518.2" lengthAdjust="spacing" xml:space="preserve">in BN4T  ceramic</text>
<text id="bf" x="1459.8" y="1562" font-size="65" font-style="italic" xml:space="preserve">f</text>
<text id="bfeq" x="1501" y="1562" font-size="65" textLength="348.6" lengthAdjust="spacing" xml:space="preserve">= 9.855 GHz</text>
<text id="pc" x="30" y="1940.2" font-size="87" font-weight="bold" textLength="103.2" lengthAdjust="spacing" xml:space="preserve">(c)</text>
<text id="cg1" x="840.8" y="1921.4" font-size="71" font-style="italic" xml:space="preserve">g</text>
<text id="ceq1" x="893.2" y="1921.4" font-size="71" textLength="369.9" lengthAdjust="spacing" xml:space="preserve">= 2.151 (Nd</text>
<text id="c3p" x="1256.8" y="1886.6" font-size="47" textLength="55.3" lengthAdjust="spacing" xml:space="preserve">3+</text>
<text id="cpar1" x="1308.9" y="1921.4" font-size="71" transform="translate(1308.9,0) scale(1.048,1) translate(-1308.9,0)" xml:space="preserve">)</text>
<text id="cg2" x="969.8" y="2010.4" font-size="71" font-style="italic" xml:space="preserve">g</text>
<text id="ceq2" x="1021.6" y="2010.4" font-size="71" textLength="333" lengthAdjust="spacing" xml:space="preserve">= 2.004 (V</text>
<text id="cti" x="1337.6" y="2025" font-size="49.5" textLength="42.6" lengthAdjust="spacing" xml:space="preserve">Ti</text>
<text id="cpar2" x="1380.2" y="2010.4" font-size="71" transform="translate(1380.2,0) scale(1.039,1) translate(-1380.2,0)" xml:space="preserve">)</text>
<text id="cdate" x="1649" y="1920.3" font-size="62.6" textLength="300.6" lengthAdjust="spacing" xml:space="preserve">2017-11-27</text>
<text id="cbn" x="1502.6" y="2100.5" font-size="77.8" textLength="359.7" lengthAdjust="spacing" xml:space="preserve">BN4TC5-2</text>
<text id="cnd" x="1336.2" y="2388.3" font-size="71.3" textLength="90.3" lengthAdjust="spacing" xml:space="preserve">Nd</text>
<text id="cnd3" x="1438.2" y="2365" font-size="47" textLength="54" lengthAdjust="spacing" xml:space="preserve">3+</text>
<text id="csim" x="1508" y="2388.3" font-size="71.3" textLength="310" lengthAdjust="spacing" xml:space="preserve">simulation</text>
<text id="cin" x="1301.6" y="2477" font-size="71.3" textLength="605.2" lengthAdjust="spacing" xml:space="preserve">in BN4TC5 ceramic</text>
<text id="H" x="875.2" y="2960.6" font-size="90" font-weight="bold" font-style="italic" transform="translate(875.2,0) scale(1.112,1) translate(-875.2,0)" xml:space="preserve">H</text>
<text id="Gu" x="988" y="2960.6" font-size="90" font-weight="bold" textLength="128" lengthAdjust="spacing" xml:space="preserve">(G)</text>
<text id="tl0_1000" x="116.6" y="688.7" font-size="77.5" textLength="153" lengthAdjust="spacing" xml:space="preserve">1000</text>
<text id="tl0_2000" x="433.9" y="688.7" font-size="77.5" textLength="158" lengthAdjust="spacing" xml:space="preserve">2000</text>
<text id="tl0_3000" x="755.2" y="688.7" font-size="77.5" textLength="159" lengthAdjust="spacing" xml:space="preserve">3000</text>
<text id="tl0_4000" x="1079.6" y="688.7" font-size="77.5" textLength="158" lengthAdjust="spacing" xml:space="preserve">4000</text>
<text id="tl0_5000" x="1400.9" y="688.7" font-size="77.5" textLength="156.5" lengthAdjust="spacing" xml:space="preserve">5000</text>
<text id="tl0_6000" x="1723.2" y="688.7" font-size="77.5" textLength="156" lengthAdjust="spacing" xml:space="preserve">6000</text>
<text id="tl1_1000" x="116.6" y="1764.7" font-size="77.5" textLength="153" lengthAdjust="spacing" xml:space="preserve">1000</text>
<text id="tl1_2000" x="433.9" y="1764.7" font-size="77.5" textLength="158" lengthAdjust="spacing" xml:space="preserve">2000</text>
<text id="tl1_3000" x="755.2" y="1764.7" font-size="77.5" textLength="159" lengthAdjust="spacing" xml:space="preserve">3000</text>
<text id="tl1_4000" x="1079.6" y="1764.7" font-size="77.5" textLength="158" lengthAdjust="spacing" xml:space="preserve">4000</text>
<text id="tl1_5000" x="1400.9" y="1764.7" font-size="77.5" textLength="156.5" lengthAdjust="spacing" xml:space="preserve">5000</text>
<text id="tl1_6000" x="1723.2" y="1764.7" font-size="77.5" textLength="156" lengthAdjust="spacing" xml:space="preserve">6000</text>
<text id="tl2_1000" x="116.6" y="2840.7" font-size="77.5" textLength="153" lengthAdjust="spacing" xml:space="preserve">1000</text>
<text id="tl2_2000" x="433.9" y="2840.7" font-size="77.5" textLength="158" lengthAdjust="spacing" xml:space="preserve">2000</text>
<text id="tl2_3000" x="755.2" y="2840.7" font-size="77.5" textLength="159" lengthAdjust="spacing" xml:space="preserve">3000</text>
<text id="tl2_4000" x="1079.6" y="2840.7" font-size="77.5" textLength="158" lengthAdjust="spacing" xml:space="preserve">4000</text>
<text id="tl2_5000" x="1400.9" y="2840.7" font-size="77.5" textLength="156.5" lengthAdjust="spacing" xml:space="preserve">5000</text>
<text id="tl2_6000" x="1723.2" y="2840.7" font-size="77.5" textLength="156" lengthAdjust="spacing" xml:space="preserve">6000</text>
</svg>
</body></html>
